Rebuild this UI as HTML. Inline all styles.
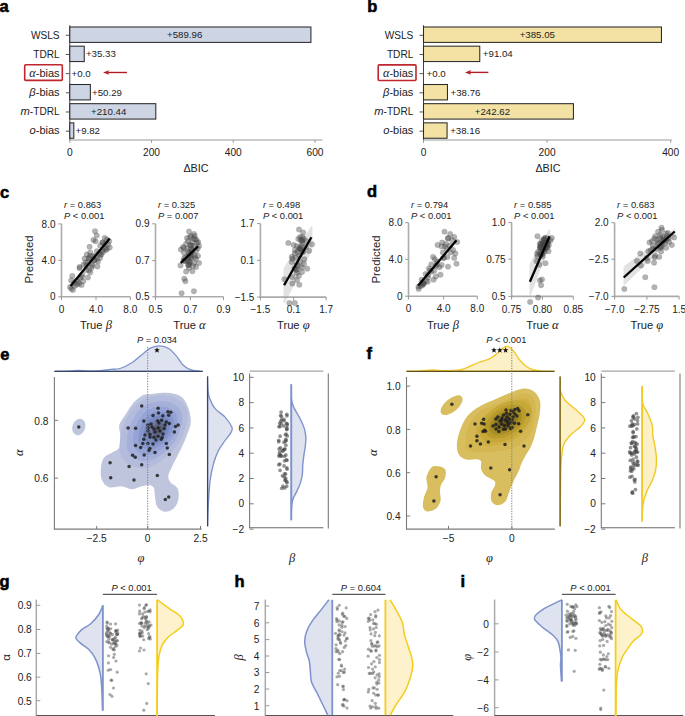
<!DOCTYPE html>
<html><head><meta charset="utf-8"><style>
html,body{margin:0;padding:0;background:#fff;width:685px;height:716px;overflow:hidden}
svg{display:block}
svg{font-family:"Liberation Sans",sans-serif}
</style></head><body>
<svg width="685" height="716" viewBox="0 0 685 716">
<rect width="685" height="716" fill="#fff"/>
<text x="-0.6" y="11.7" font-size="16.5" font-weight="bold" fill="#000" stroke="#000" stroke-width="0.55">a</text>
<line x1="69.80" y1="25.20" x2="69.80" y2="140.00" stroke="#444" stroke-width="1" />
<line x1="69.80" y1="140.00" x2="322.40" y2="140.00" stroke="#999" stroke-width="1.1" />
<line x1="69.80" y1="140.00" x2="69.80" y2="142.80" stroke="#999" stroke-width="1" />
<text x="69.80" y="156.00" font-size="10.2" text-anchor="middle" fill="#222" >0</text>
<line x1="151.54" y1="140.00" x2="151.54" y2="142.80" stroke="#999" stroke-width="1" />
<text x="151.54" y="156.00" font-size="10.2" text-anchor="middle" fill="#222" >200</text>
<line x1="233.28" y1="140.00" x2="233.28" y2="142.80" stroke="#999" stroke-width="1" />
<text x="233.28" y="156.00" font-size="10.2" text-anchor="middle" fill="#222" >400</text>
<line x1="315.02" y1="140.00" x2="315.02" y2="142.80" stroke="#999" stroke-width="1" />
<text x="315.02" y="156.00" font-size="10.2" text-anchor="middle" fill="#222" >600</text>
<line x1="65.80" y1="35.30" x2="69.80" y2="35.30" stroke="#555" stroke-width="1" />
<text x="59.60" y="38.60" font-size="10.1" text-anchor="end" fill="#222" >WSLS</text>
<rect x="69.80" y="27.00" width="241.12" height="15.40" fill="#cdd4e4" stroke="#2a2a2a" stroke-width="1.05" />
<text x="184.66" y="38.30" font-size="9.7" text-anchor="middle" fill="#222" >+589.96</text>
<line x1="65.80" y1="54.47" x2="69.80" y2="54.47" stroke="#555" stroke-width="1" />
<text x="59.60" y="57.77" font-size="10.1" text-anchor="end" fill="#222" >TDRL</text>
<rect x="69.80" y="46.17" width="14.44" height="15.40" fill="#cdd4e4" stroke="#2a2a2a" stroke-width="1.05" />
<text x="85.94" y="57.47" font-size="9.7" text-anchor="start" fill="#222" >+35.33</text>
<line x1="65.80" y1="73.64" x2="69.80" y2="73.64" stroke="#555" stroke-width="1" />
<text x="59.60" y="76.94" font-size="10.1" text-anchor="end" fill="#222"><tspan font-style="italic" font-family="Liberation Serif, serif" font-size="12.3">α</tspan><tspan font-size="11">-bias</tspan></text>
<text x="71.50" y="76.64" font-size="9.7" text-anchor="start" fill="#222" >+0.0</text>
<line x1="65.80" y1="92.81" x2="69.80" y2="92.81" stroke="#555" stroke-width="1" />
<text x="59.60" y="96.11" font-size="10.1" text-anchor="end" fill="#222"><tspan font-style="italic" font-size="11.2">β</tspan><tspan font-size="11">-bias</tspan></text>
<rect x="69.80" y="84.51" width="20.55" height="15.40" fill="#cdd4e4" stroke="#2a2a2a" stroke-width="1.05" />
<text x="92.05" y="95.81" font-size="9.7" text-anchor="start" fill="#222" >+50.29</text>
<line x1="65.80" y1="111.98" x2="69.80" y2="111.98" stroke="#555" stroke-width="1" />
<text x="59.60" y="115.28" font-size="10.1" text-anchor="end" fill="#222"><tspan font-style="italic" font-size="11.2">m</tspan>-TDRL</text>
<rect x="69.80" y="103.68" width="86.01" height="15.40" fill="#cdd4e4" stroke="#2a2a2a" stroke-width="1.05" />
<text x="108.70" y="114.98" font-size="9.7" text-anchor="middle" fill="#222" >+210.44</text>
<line x1="65.80" y1="131.15" x2="69.80" y2="131.15" stroke="#555" stroke-width="1" />
<text x="59.60" y="134.45" font-size="10.1" text-anchor="end" fill="#222"><tspan font-style="italic" font-size="11.2">o</tspan><tspan font-size="11">-bias</tspan></text>
<rect x="69.80" y="122.85" width="4.01" height="15.40" fill="#cdd4e4" stroke="#2a2a2a" stroke-width="1.05" />
<text x="75.51" y="134.15" font-size="9.7" text-anchor="start" fill="#222" >+9.82</text>
<rect x="24.70" y="64.70" width="37.60" height="15.70" fill="none" stroke="#c0262e" stroke-width="1.6" rx="1"/>
<line x1="108.00" y1="72.50" x2="127.00" y2="72.50" stroke="#b01c24" stroke-width="1.4" />
<path d="M103.00,72.50 L109.20,70.20 L107.80,72.50 L109.20,74.80Z" fill="#b01c24"/>
<text x="196.00" y="171.80" font-size="10.8" text-anchor="middle" fill="#222" >ΔBIC</text>
<text x="367.2" y="11.7" font-size="16.5" font-weight="bold" fill="#000" stroke="#000" stroke-width="0.55">b</text>
<line x1="423.50" y1="25.20" x2="423.50" y2="140.00" stroke="#444" stroke-width="1" />
<line x1="423.50" y1="140.00" x2="671.70" y2="140.00" stroke="#999" stroke-width="1.1" />
<line x1="423.50" y1="140.00" x2="423.50" y2="142.80" stroke="#999" stroke-width="1" />
<text x="423.50" y="156.00" font-size="10.2" text-anchor="middle" fill="#222" >0</text>
<line x1="547.10" y1="140.00" x2="547.10" y2="142.80" stroke="#999" stroke-width="1" />
<text x="547.10" y="156.00" font-size="10.2" text-anchor="middle" fill="#222" >200</text>
<line x1="670.70" y1="140.00" x2="670.70" y2="142.80" stroke="#999" stroke-width="1" />
<text x="670.70" y="156.00" font-size="10.2" text-anchor="middle" fill="#222" >400</text>
<line x1="419.50" y1="35.30" x2="423.50" y2="35.30" stroke="#555" stroke-width="1" />
<text x="413.30" y="38.60" font-size="10.1" text-anchor="end" fill="#222" >WSLS</text>
<rect x="423.50" y="27.00" width="237.96" height="15.40" fill="#f3e2a4" stroke="#2a2a2a" stroke-width="1.05" />
<text x="537.28" y="38.30" font-size="9.7" text-anchor="middle" fill="#222" >+385.05</text>
<line x1="419.50" y1="54.47" x2="423.50" y2="54.47" stroke="#555" stroke-width="1" />
<text x="413.30" y="57.77" font-size="10.1" text-anchor="end" fill="#222" >TDRL</text>
<rect x="423.50" y="46.17" width="56.26" height="15.40" fill="#f3e2a4" stroke="#2a2a2a" stroke-width="1.05" />
<text x="482.86" y="57.47" font-size="9.7" text-anchor="start" fill="#222" >+91.04</text>
<line x1="419.50" y1="73.64" x2="423.50" y2="73.64" stroke="#555" stroke-width="1" />
<text x="413.30" y="76.94" font-size="10.1" text-anchor="end" fill="#222"><tspan font-style="italic" font-family="Liberation Serif, serif" font-size="12.3">α</tspan><tspan font-size="11">-bias</tspan></text>
<text x="426.60" y="76.64" font-size="9.7" text-anchor="start" fill="#222" >+0.0</text>
<line x1="419.50" y1="92.81" x2="423.50" y2="92.81" stroke="#555" stroke-width="1" />
<text x="413.30" y="96.11" font-size="10.1" text-anchor="end" fill="#222"><tspan font-style="italic" font-size="11.2">β</tspan><tspan font-size="11">-bias</tspan></text>
<rect x="423.50" y="84.51" width="23.95" height="15.40" fill="#f3e2a4" stroke="#2a2a2a" stroke-width="1.05" />
<text x="450.55" y="95.81" font-size="9.7" text-anchor="start" fill="#222" >+38.76</text>
<line x1="419.50" y1="111.98" x2="423.50" y2="111.98" stroke="#555" stroke-width="1" />
<text x="413.30" y="115.28" font-size="10.1" text-anchor="end" fill="#222"><tspan font-style="italic" font-size="11.2">m</tspan>-TDRL</text>
<rect x="423.50" y="103.68" width="149.94" height="15.40" fill="#f3e2a4" stroke="#2a2a2a" stroke-width="1.05" />
<text x="492.47" y="114.98" font-size="9.7" text-anchor="middle" fill="#222" >+242.62</text>
<line x1="419.50" y1="131.15" x2="423.50" y2="131.15" stroke="#555" stroke-width="1" />
<text x="413.30" y="134.45" font-size="10.1" text-anchor="end" fill="#222"><tspan font-style="italic" font-size="11.2">o</tspan><tspan font-size="11">-bias</tspan></text>
<rect x="423.50" y="122.85" width="23.58" height="15.40" fill="#f3e2a4" stroke="#2a2a2a" stroke-width="1.05" />
<text x="450.18" y="134.15" font-size="9.7" text-anchor="start" fill="#222" >+38.16</text>
<rect x="378.20" y="64.90" width="37.80" height="15.60" fill="none" stroke="#c0262e" stroke-width="1.6" rx="1"/>
<line x1="470.00" y1="72.40" x2="488.40" y2="72.40" stroke="#b01c24" stroke-width="1.4" />
<path d="M465.00,72.40 L471.20,70.10 L469.80,72.40 L471.20,74.70Z" fill="#b01c24"/>
<text x="548.00" y="171.80" font-size="10.8" text-anchor="middle" fill="#222" >ΔBIC</text>
<line x1="61.50" y1="223.90" x2="61.50" y2="297.60" stroke="#ababab" stroke-width="1.6" />
<line x1="60.70" y1="296.80" x2="130.30" y2="296.80" stroke="#ababab" stroke-width="1.6" />
<line x1="58.20" y1="223.90" x2="61.50" y2="223.90" stroke="#999" stroke-width="1" />
<text x="55.50" y="227.50" font-size="10" text-anchor="end" fill="#222" >8.0</text>
<line x1="58.20" y1="260.30" x2="61.50" y2="260.30" stroke="#999" stroke-width="1" />
<text x="55.50" y="263.90" font-size="10" text-anchor="end" fill="#222" >4.0</text>
<line x1="58.20" y1="296.80" x2="61.50" y2="296.80" stroke="#999" stroke-width="1" />
<text x="55.50" y="300.40" font-size="10" text-anchor="end" fill="#222" >0</text>
<line x1="61.50" y1="296.80" x2="61.50" y2="300.10" stroke="#999" stroke-width="1" />
<text x="61.50" y="313.00" font-size="10" text-anchor="middle" fill="#222" >0</text>
<line x1="96.00" y1="296.80" x2="96.00" y2="300.10" stroke="#999" stroke-width="1" />
<text x="96.00" y="313.00" font-size="10" text-anchor="middle" fill="#222" >4.0</text>
<line x1="130.30" y1="296.80" x2="130.30" y2="300.10" stroke="#999" stroke-width="1" />
<text x="130.30" y="313.00" font-size="10" text-anchor="middle" fill="#222" >8.0</text>
<text x="64.00" y="207.6" font-size="9.4" fill="#222"><tspan font-style="italic">r</tspan> = 0.863</text>
<text x="64.00" y="218.5" font-size="9.4" fill="#222"><tspan font-style="italic">P</tspan> &lt; 0.001</text>
<text x="95.90" y="328.5" font-size="11.2" text-anchor="middle" fill="#222">True <tspan font-family="Liberation Serif, serif" font-style="italic" font-size="12.5">β</tspan></text>
<text transform="translate(33.4,259.5) rotate(-90)" font-size="11.4" text-anchor="middle" fill="#222" y="0">Predicted</text>
<circle cx="95.00" cy="231.20" r="2.75" fill="rgba(75,75,75,0.42)" stroke="rgba(60,60,60,0.25)" stroke-width="0.5"/>
<circle cx="96.70" cy="235.60" r="2.75" fill="rgba(75,75,75,0.42)" stroke="rgba(60,60,60,0.25)" stroke-width="0.5"/>
<circle cx="93.50" cy="240.10" r="2.75" fill="rgba(75,75,75,0.42)" stroke="rgba(60,60,60,0.25)" stroke-width="0.5"/>
<circle cx="95.50" cy="241.20" r="2.75" fill="rgba(75,75,75,0.42)" stroke="rgba(60,60,60,0.25)" stroke-width="0.5"/>
<circle cx="104.70" cy="237.90" r="2.75" fill="rgba(75,75,75,0.42)" stroke="rgba(60,60,60,0.25)" stroke-width="0.5"/>
<circle cx="106.90" cy="239.60" r="2.75" fill="rgba(75,75,75,0.42)" stroke="rgba(60,60,60,0.25)" stroke-width="0.5"/>
<circle cx="109.20" cy="241.20" r="2.75" fill="rgba(75,75,75,0.42)" stroke="rgba(60,60,60,0.25)" stroke-width="0.5"/>
<circle cx="102.50" cy="242.40" r="2.75" fill="rgba(75,75,75,0.42)" stroke="rgba(60,60,60,0.25)" stroke-width="0.5"/>
<circle cx="109.70" cy="247.40" r="2.75" fill="rgba(75,75,75,0.42)" stroke="rgba(60,60,60,0.25)" stroke-width="0.5"/>
<circle cx="106.90" cy="249.10" r="2.75" fill="rgba(75,75,75,0.42)" stroke="rgba(60,60,60,0.25)" stroke-width="0.5"/>
<circle cx="104.70" cy="247.90" r="2.75" fill="rgba(75,75,75,0.42)" stroke="rgba(60,60,60,0.25)" stroke-width="0.5"/>
<circle cx="89.60" cy="246.80" r="2.75" fill="rgba(75,75,75,0.42)" stroke="rgba(60,60,60,0.25)" stroke-width="0.5"/>
<circle cx="90.20" cy="252.40" r="2.75" fill="rgba(75,75,75,0.42)" stroke="rgba(60,60,60,0.25)" stroke-width="0.5"/>
<circle cx="96.90" cy="251.30" r="2.75" fill="rgba(75,75,75,0.42)" stroke="rgba(60,60,60,0.25)" stroke-width="0.5"/>
<circle cx="99.10" cy="253.50" r="2.75" fill="rgba(75,75,75,0.42)" stroke="rgba(60,60,60,0.25)" stroke-width="0.5"/>
<circle cx="86.80" cy="254.60" r="2.75" fill="rgba(75,75,75,0.42)" stroke="rgba(60,60,60,0.25)" stroke-width="0.5"/>
<circle cx="84.60" cy="258.60" r="2.75" fill="rgba(75,75,75,0.42)" stroke="rgba(60,60,60,0.25)" stroke-width="0.5"/>
<circle cx="89.10" cy="258.00" r="2.75" fill="rgba(75,75,75,0.42)" stroke="rgba(60,60,60,0.25)" stroke-width="0.5"/>
<circle cx="96.90" cy="259.10" r="2.75" fill="rgba(75,75,75,0.42)" stroke="rgba(60,60,60,0.25)" stroke-width="0.5"/>
<circle cx="94.60" cy="260.20" r="2.75" fill="rgba(75,75,75,0.42)" stroke="rgba(60,60,60,0.25)" stroke-width="0.5"/>
<circle cx="98.00" cy="261.40" r="2.75" fill="rgba(75,75,75,0.42)" stroke="rgba(60,60,60,0.25)" stroke-width="0.5"/>
<circle cx="97.40" cy="266.40" r="2.75" fill="rgba(75,75,75,0.42)" stroke="rgba(60,60,60,0.25)" stroke-width="0.5"/>
<circle cx="79.60" cy="266.90" r="2.75" fill="rgba(75,75,75,0.42)" stroke="rgba(60,60,60,0.25)" stroke-width="0.5"/>
<circle cx="83.50" cy="264.70" r="2.75" fill="rgba(75,75,75,0.42)" stroke="rgba(60,60,60,0.25)" stroke-width="0.5"/>
<circle cx="89.10" cy="270.30" r="2.75" fill="rgba(75,75,75,0.42)" stroke="rgba(60,60,60,0.25)" stroke-width="0.5"/>
<circle cx="90.20" cy="272.50" r="2.75" fill="rgba(75,75,75,0.42)" stroke="rgba(60,60,60,0.25)" stroke-width="0.5"/>
<circle cx="87.90" cy="277.60" r="2.75" fill="rgba(75,75,75,0.42)" stroke="rgba(60,60,60,0.25)" stroke-width="0.5"/>
<circle cx="81.80" cy="277.00" r="2.75" fill="rgba(75,75,75,0.42)" stroke="rgba(60,60,60,0.25)" stroke-width="0.5"/>
<circle cx="80.10" cy="278.10" r="2.75" fill="rgba(75,75,75,0.42)" stroke="rgba(60,60,60,0.25)" stroke-width="0.5"/>
<circle cx="72.30" cy="275.90" r="2.75" fill="rgba(75,75,75,0.42)" stroke="rgba(60,60,60,0.25)" stroke-width="0.5"/>
<circle cx="76.80" cy="280.40" r="2.75" fill="rgba(75,75,75,0.42)" stroke="rgba(60,60,60,0.25)" stroke-width="0.5"/>
<circle cx="71.20" cy="280.40" r="2.75" fill="rgba(75,75,75,0.42)" stroke="rgba(60,60,60,0.25)" stroke-width="0.5"/>
<circle cx="79.00" cy="283.70" r="2.75" fill="rgba(75,75,75,0.42)" stroke="rgba(60,60,60,0.25)" stroke-width="0.5"/>
<circle cx="74.50" cy="285.90" r="2.75" fill="rgba(75,75,75,0.42)" stroke="rgba(60,60,60,0.25)" stroke-width="0.5"/>
<circle cx="71.20" cy="288.70" r="2.75" fill="rgba(75,75,75,0.42)" stroke="rgba(60,60,60,0.25)" stroke-width="0.5"/>
<circle cx="72.90" cy="289.90" r="2.75" fill="rgba(75,75,75,0.42)" stroke="rgba(60,60,60,0.25)" stroke-width="0.5"/>
<circle cx="70.10" cy="287.10" r="2.75" fill="rgba(75,75,75,0.42)" stroke="rgba(60,60,60,0.25)" stroke-width="0.5"/>
<circle cx="76.80" cy="284.80" r="2.75" fill="rgba(75,75,75,0.42)" stroke="rgba(60,60,60,0.25)" stroke-width="0.5"/>
<circle cx="82.40" cy="274.80" r="2.75" fill="rgba(75,75,75,0.42)" stroke="rgba(60,60,60,0.25)" stroke-width="0.5"/>
<circle cx="85.70" cy="262.50" r="2.75" fill="rgba(75,75,75,0.42)" stroke="rgba(60,60,60,0.25)" stroke-width="0.5"/>
<circle cx="91.30" cy="268.10" r="2.75" fill="rgba(75,75,75,0.42)" stroke="rgba(60,60,60,0.25)" stroke-width="0.5"/>
<circle cx="101.40" cy="254.60" r="2.75" fill="rgba(75,75,75,0.42)" stroke="rgba(60,60,60,0.25)" stroke-width="0.5"/>
<circle cx="102.50" cy="250.20" r="2.75" fill="rgba(75,75,75,0.42)" stroke="rgba(60,60,60,0.25)" stroke-width="0.5"/>
<circle cx="100.20" cy="245.70" r="2.75" fill="rgba(75,75,75,0.42)" stroke="rgba(60,60,60,0.25)" stroke-width="0.5"/>
<circle cx="105.00" cy="244.00" r="2.75" fill="rgba(75,75,75,0.42)" stroke="rgba(60,60,60,0.25)" stroke-width="0.5"/>
<circle cx="108.00" cy="244.50" r="2.75" fill="rgba(75,75,75,0.42)" stroke="rgba(60,60,60,0.25)" stroke-width="0.5"/>
<circle cx="103.00" cy="252.00" r="2.75" fill="rgba(75,75,75,0.42)" stroke="rgba(60,60,60,0.25)" stroke-width="0.5"/>
<circle cx="93.00" cy="256.00" r="2.75" fill="rgba(75,75,75,0.42)" stroke="rgba(60,60,60,0.25)" stroke-width="0.5"/>
<circle cx="86.00" cy="270.00" r="2.75" fill="rgba(75,75,75,0.42)" stroke="rgba(60,60,60,0.25)" stroke-width="0.5"/>
<circle cx="78.00" cy="282.00" r="2.75" fill="rgba(75,75,75,0.42)" stroke="rgba(60,60,60,0.25)" stroke-width="0.5"/>
<circle cx="74.00" cy="283.00" r="2.75" fill="rgba(75,75,75,0.42)" stroke="rgba(60,60,60,0.25)" stroke-width="0.5"/>
<circle cx="92.00" cy="264.00" r="2.75" fill="rgba(75,75,75,0.42)" stroke="rgba(60,60,60,0.25)" stroke-width="0.5"/>
<circle cx="88.00" cy="262.00" r="2.75" fill="rgba(75,75,75,0.42)" stroke="rgba(60,60,60,0.25)" stroke-width="0.5"/>
<circle cx="100.00" cy="258.00" r="2.75" fill="rgba(75,75,75,0.42)" stroke="rgba(60,60,60,0.25)" stroke-width="0.5"/>
<circle cx="90.05" cy="256.00" r="2.75" fill="rgba(75,75,75,0.42)" stroke="rgba(60,60,60,0.25)" stroke-width="0.5"/>
<circle cx="79.55" cy="268.24" r="2.75" fill="rgba(75,75,75,0.42)" stroke="rgba(60,60,60,0.25)" stroke-width="0.5"/>
<circle cx="105.85" cy="249.88" r="2.75" fill="rgba(75,75,75,0.42)" stroke="rgba(60,60,60,0.25)" stroke-width="0.5"/>
<circle cx="89.01" cy="258.42" r="2.75" fill="rgba(75,75,75,0.42)" stroke="rgba(60,60,60,0.25)" stroke-width="0.5"/>
<circle cx="86.50" cy="265.53" r="2.75" fill="rgba(75,75,75,0.42)" stroke="rgba(60,60,60,0.25)" stroke-width="0.5"/>
<circle cx="94.34" cy="260.62" r="2.75" fill="rgba(75,75,75,0.42)" stroke="rgba(60,60,60,0.25)" stroke-width="0.5"/>
<circle cx="92.45" cy="265.73" r="2.75" fill="rgba(75,75,75,0.42)" stroke="rgba(60,60,60,0.25)" stroke-width="0.5"/>
<circle cx="95.03" cy="256.18" r="2.75" fill="rgba(75,75,75,0.42)" stroke="rgba(60,60,60,0.25)" stroke-width="0.5"/>
<circle cx="102.57" cy="242.50" r="2.75" fill="rgba(75,75,75,0.42)" stroke="rgba(60,60,60,0.25)" stroke-width="0.5"/>
<circle cx="81.47" cy="284.98" r="2.75" fill="rgba(75,75,75,0.42)" stroke="rgba(60,60,60,0.25)" stroke-width="0.5"/>
<circle cx="83.21" cy="281.18" r="2.75" fill="rgba(75,75,75,0.42)" stroke="rgba(60,60,60,0.25)" stroke-width="0.5"/>
<circle cx="100.25" cy="254.66" r="2.75" fill="rgba(75,75,75,0.42)" stroke="rgba(60,60,60,0.25)" stroke-width="0.5"/>
<line x1="70.60" y1="285.90" x2="109.70" y2="238.40" stroke="#000" stroke-width="2.3" stroke-linecap="butt"/>
<line x1="155.50" y1="223.80" x2="155.50" y2="297.60" stroke="#ababab" stroke-width="1.6" />
<line x1="154.70" y1="296.80" x2="223.50" y2="296.80" stroke="#ababab" stroke-width="1.6" />
<line x1="152.20" y1="223.80" x2="155.50" y2="223.80" stroke="#999" stroke-width="1" />
<text x="149.50" y="227.40" font-size="10" text-anchor="end" fill="#222" >0.9</text>
<line x1="152.20" y1="260.60" x2="155.50" y2="260.60" stroke="#999" stroke-width="1" />
<text x="149.50" y="264.20" font-size="10" text-anchor="end" fill="#222" >0.7</text>
<line x1="152.20" y1="296.80" x2="155.50" y2="296.80" stroke="#999" stroke-width="1" />
<text x="149.50" y="300.40" font-size="10" text-anchor="end" fill="#222" >0.5</text>
<line x1="155.50" y1="296.80" x2="155.50" y2="300.10" stroke="#999" stroke-width="1" />
<text x="155.50" y="313.00" font-size="10" text-anchor="middle" fill="#222" >0.5</text>
<line x1="190.40" y1="296.80" x2="190.40" y2="300.10" stroke="#999" stroke-width="1" />
<text x="190.40" y="313.00" font-size="10" text-anchor="middle" fill="#222" >0.7</text>
<line x1="223.50" y1="296.80" x2="223.50" y2="300.10" stroke="#999" stroke-width="1" />
<text x="223.50" y="313.00" font-size="10" text-anchor="middle" fill="#222" >0.9</text>
<text x="158.00" y="207.6" font-size="9.4" fill="#222"><tspan font-style="italic">r</tspan> = 0.325</text>
<text x="158.00" y="218.5" font-size="9.4" fill="#222"><tspan font-style="italic">P</tspan> = 0.007</text>
<text x="189.50" y="328.5" font-size="11.2" text-anchor="middle" fill="#222">True <tspan font-family="Liberation Serif, serif" font-style="italic" font-size="12.5">α</tspan></text>
<circle cx="189.00" cy="231.50" r="2.75" fill="rgba(75,75,75,0.42)" stroke="rgba(60,60,60,0.25)" stroke-width="0.5"/>
<circle cx="194.00" cy="234.00" r="2.75" fill="rgba(75,75,75,0.42)" stroke="rgba(60,60,60,0.25)" stroke-width="0.5"/>
<circle cx="191.00" cy="236.00" r="2.75" fill="rgba(75,75,75,0.42)" stroke="rgba(60,60,60,0.25)" stroke-width="0.5"/>
<circle cx="193.50" cy="239.00" r="2.75" fill="rgba(75,75,75,0.42)" stroke="rgba(60,60,60,0.25)" stroke-width="0.5"/>
<circle cx="196.50" cy="240.00" r="2.75" fill="rgba(75,75,75,0.42)" stroke="rgba(60,60,60,0.25)" stroke-width="0.5"/>
<circle cx="188.00" cy="241.00" r="2.75" fill="rgba(75,75,75,0.42)" stroke="rgba(60,60,60,0.25)" stroke-width="0.5"/>
<circle cx="186.00" cy="244.00" r="2.75" fill="rgba(75,75,75,0.42)" stroke="rgba(60,60,60,0.25)" stroke-width="0.5"/>
<circle cx="190.00" cy="245.00" r="2.75" fill="rgba(75,75,75,0.42)" stroke="rgba(60,60,60,0.25)" stroke-width="0.5"/>
<circle cx="194.00" cy="246.00" r="2.75" fill="rgba(75,75,75,0.42)" stroke="rgba(60,60,60,0.25)" stroke-width="0.5"/>
<circle cx="199.00" cy="246.00" r="2.75" fill="rgba(75,75,75,0.42)" stroke="rgba(60,60,60,0.25)" stroke-width="0.5"/>
<circle cx="183.00" cy="247.00" r="2.75" fill="rgba(75,75,75,0.42)" stroke="rgba(60,60,60,0.25)" stroke-width="0.5"/>
<circle cx="187.00" cy="249.00" r="2.75" fill="rgba(75,75,75,0.42)" stroke="rgba(60,60,60,0.25)" stroke-width="0.5"/>
<circle cx="192.00" cy="250.00" r="2.75" fill="rgba(75,75,75,0.42)" stroke="rgba(60,60,60,0.25)" stroke-width="0.5"/>
<circle cx="196.00" cy="251.00" r="2.75" fill="rgba(75,75,75,0.42)" stroke="rgba(60,60,60,0.25)" stroke-width="0.5"/>
<circle cx="180.90" cy="249.60" r="2.75" fill="rgba(75,75,75,0.42)" stroke="rgba(60,60,60,0.25)" stroke-width="0.5"/>
<circle cx="184.00" cy="253.00" r="2.75" fill="rgba(75,75,75,0.42)" stroke="rgba(60,60,60,0.25)" stroke-width="0.5"/>
<circle cx="189.00" cy="254.00" r="2.75" fill="rgba(75,75,75,0.42)" stroke="rgba(60,60,60,0.25)" stroke-width="0.5"/>
<circle cx="194.00" cy="255.00" r="2.75" fill="rgba(75,75,75,0.42)" stroke="rgba(60,60,60,0.25)" stroke-width="0.5"/>
<circle cx="198.00" cy="256.00" r="2.75" fill="rgba(75,75,75,0.42)" stroke="rgba(60,60,60,0.25)" stroke-width="0.5"/>
<circle cx="186.00" cy="257.00" r="2.75" fill="rgba(75,75,75,0.42)" stroke="rgba(60,60,60,0.25)" stroke-width="0.5"/>
<circle cx="191.00" cy="258.00" r="2.75" fill="rgba(75,75,75,0.42)" stroke="rgba(60,60,60,0.25)" stroke-width="0.5"/>
<circle cx="196.00" cy="259.00" r="2.75" fill="rgba(75,75,75,0.42)" stroke="rgba(60,60,60,0.25)" stroke-width="0.5"/>
<circle cx="185.00" cy="261.00" r="2.75" fill="rgba(75,75,75,0.42)" stroke="rgba(60,60,60,0.25)" stroke-width="0.5"/>
<circle cx="190.00" cy="262.00" r="2.75" fill="rgba(75,75,75,0.42)" stroke="rgba(60,60,60,0.25)" stroke-width="0.5"/>
<circle cx="194.00" cy="263.00" r="2.75" fill="rgba(75,75,75,0.42)" stroke="rgba(60,60,60,0.25)" stroke-width="0.5"/>
<circle cx="199.00" cy="263.00" r="2.75" fill="rgba(75,75,75,0.42)" stroke="rgba(60,60,60,0.25)" stroke-width="0.5"/>
<circle cx="188.00" cy="265.00" r="2.75" fill="rgba(75,75,75,0.42)" stroke="rgba(60,60,60,0.25)" stroke-width="0.5"/>
<circle cx="193.00" cy="266.00" r="2.75" fill="rgba(75,75,75,0.42)" stroke="rgba(60,60,60,0.25)" stroke-width="0.5"/>
<circle cx="196.00" cy="267.00" r="2.75" fill="rgba(75,75,75,0.42)" stroke="rgba(60,60,60,0.25)" stroke-width="0.5"/>
<circle cx="180.50" cy="265.60" r="2.75" fill="rgba(75,75,75,0.42)" stroke="rgba(60,60,60,0.25)" stroke-width="0.5"/>
<circle cx="186.10" cy="271.60" r="2.75" fill="rgba(75,75,75,0.42)" stroke="rgba(60,60,60,0.25)" stroke-width="0.5"/>
<circle cx="192.40" cy="271.20" r="2.75" fill="rgba(75,75,75,0.42)" stroke="rgba(60,60,60,0.25)" stroke-width="0.5"/>
<circle cx="184.30" cy="278.70" r="2.75" fill="rgba(75,75,75,0.42)" stroke="rgba(60,60,60,0.25)" stroke-width="0.5"/>
<circle cx="185.40" cy="281.20" r="2.75" fill="rgba(75,75,75,0.42)" stroke="rgba(60,60,60,0.25)" stroke-width="0.5"/>
<circle cx="181.60" cy="293.20" r="2.75" fill="rgba(75,75,75,0.42)" stroke="rgba(60,60,60,0.25)" stroke-width="0.5"/>
<circle cx="193.90" cy="291.20" r="2.75" fill="rgba(75,75,75,0.42)" stroke="rgba(60,60,60,0.25)" stroke-width="0.5"/>
<circle cx="190.00" cy="237.00" r="2.75" fill="rgba(75,75,75,0.42)" stroke="rgba(60,60,60,0.25)" stroke-width="0.5"/>
<circle cx="187.00" cy="238.00" r="2.75" fill="rgba(75,75,75,0.42)" stroke="rgba(60,60,60,0.25)" stroke-width="0.5"/>
<circle cx="197.00" cy="243.00" r="2.75" fill="rgba(75,75,75,0.42)" stroke="rgba(60,60,60,0.25)" stroke-width="0.5"/>
<circle cx="184.00" cy="248.00" r="2.75" fill="rgba(75,75,75,0.42)" stroke="rgba(60,60,60,0.25)" stroke-width="0.5"/>
<circle cx="192.00" cy="242.00" r="2.75" fill="rgba(75,75,75,0.42)" stroke="rgba(60,60,60,0.25)" stroke-width="0.5"/>
<circle cx="195.00" cy="257.00" r="2.75" fill="rgba(75,75,75,0.42)" stroke="rgba(60,60,60,0.25)" stroke-width="0.5"/>
<circle cx="189.00" cy="268.00" r="2.75" fill="rgba(75,75,75,0.42)" stroke="rgba(60,60,60,0.25)" stroke-width="0.5"/>
<circle cx="188.39" cy="256.62" r="2.75" fill="rgba(75,75,75,0.42)" stroke="rgba(60,60,60,0.25)" stroke-width="0.5"/>
<circle cx="190.41" cy="253.18" r="2.75" fill="rgba(75,75,75,0.42)" stroke="rgba(60,60,60,0.25)" stroke-width="0.5"/>
<circle cx="188.35" cy="258.21" r="2.75" fill="rgba(75,75,75,0.42)" stroke="rgba(60,60,60,0.25)" stroke-width="0.5"/>
<circle cx="194.67" cy="235.93" r="2.75" fill="rgba(75,75,75,0.42)" stroke="rgba(60,60,60,0.25)" stroke-width="0.5"/>
<circle cx="187.99" cy="260.65" r="2.75" fill="rgba(75,75,75,0.42)" stroke="rgba(60,60,60,0.25)" stroke-width="0.5"/>
<circle cx="191.04" cy="255.54" r="2.75" fill="rgba(75,75,75,0.42)" stroke="rgba(60,60,60,0.25)" stroke-width="0.5"/>
<circle cx="189.31" cy="262.58" r="2.75" fill="rgba(75,75,75,0.42)" stroke="rgba(60,60,60,0.25)" stroke-width="0.5"/>
<circle cx="188.26" cy="251.64" r="2.75" fill="rgba(75,75,75,0.42)" stroke="rgba(60,60,60,0.25)" stroke-width="0.5"/>
<circle cx="191.86" cy="245.71" r="2.75" fill="rgba(75,75,75,0.42)" stroke="rgba(60,60,60,0.25)" stroke-width="0.5"/>
<circle cx="184.28" cy="260.78" r="2.75" fill="rgba(75,75,75,0.42)" stroke="rgba(60,60,60,0.25)" stroke-width="0.5"/>
<circle cx="197.70" cy="248.48" r="2.75" fill="rgba(75,75,75,0.42)" stroke="rgba(60,60,60,0.25)" stroke-width="0.5"/>
<circle cx="183.54" cy="260.51" r="2.75" fill="rgba(75,75,75,0.42)" stroke="rgba(60,60,60,0.25)" stroke-width="0.5"/>
<circle cx="192.13" cy="250.43" r="2.75" fill="rgba(75,75,75,0.42)" stroke="rgba(60,60,60,0.25)" stroke-width="0.5"/>
<circle cx="184.19" cy="258.26" r="2.75" fill="rgba(75,75,75,0.42)" stroke="rgba(60,60,60,0.25)" stroke-width="0.5"/>
<circle cx="189.23" cy="264.03" r="2.75" fill="rgba(75,75,75,0.42)" stroke="rgba(60,60,60,0.25)" stroke-width="0.5"/>
<circle cx="190.75" cy="245.46" r="2.75" fill="rgba(75,75,75,0.42)" stroke="rgba(60,60,60,0.25)" stroke-width="0.5"/>
<circle cx="190.73" cy="258.00" r="2.75" fill="rgba(75,75,75,0.42)" stroke="rgba(60,60,60,0.25)" stroke-width="0.5"/>
<circle cx="195.11" cy="239.01" r="2.75" fill="rgba(75,75,75,0.42)" stroke="rgba(60,60,60,0.25)" stroke-width="0.5"/>
<circle cx="190.70" cy="249.12" r="2.75" fill="rgba(75,75,75,0.42)" stroke="rgba(60,60,60,0.25)" stroke-width="0.5"/>
<circle cx="188.62" cy="265.26" r="2.75" fill="rgba(75,75,75,0.42)" stroke="rgba(60,60,60,0.25)" stroke-width="0.5"/>
<circle cx="191.43" cy="252.52" r="2.75" fill="rgba(75,75,75,0.42)" stroke="rgba(60,60,60,0.25)" stroke-width="0.5"/>
<circle cx="198.22" cy="242.15" r="2.75" fill="rgba(75,75,75,0.42)" stroke="rgba(60,60,60,0.25)" stroke-width="0.5"/>
<line x1="180.70" y1="263.00" x2="198.00" y2="246.30" stroke="#000" stroke-width="2.3" />
<line x1="260.40" y1="223.60" x2="260.40" y2="297.90" stroke="#ababab" stroke-width="1.6" />
<line x1="259.60" y1="297.10" x2="326.20" y2="297.10" stroke="#ababab" stroke-width="1.6" />
<line x1="257.10" y1="223.60" x2="260.40" y2="223.60" stroke="#999" stroke-width="1" />
<text x="254.40" y="227.20" font-size="10" text-anchor="end" fill="#222" >1.7</text>
<line x1="257.10" y1="260.30" x2="260.40" y2="260.30" stroke="#999" stroke-width="1" />
<text x="254.40" y="263.90" font-size="10" text-anchor="end" fill="#222" >0.1</text>
<line x1="257.10" y1="297.10" x2="260.40" y2="297.10" stroke="#999" stroke-width="1" />
<text x="254.40" y="300.70" font-size="10" text-anchor="end" fill="#222" >−1.5</text>
<line x1="260.40" y1="297.10" x2="260.40" y2="300.40" stroke="#999" stroke-width="1" />
<text x="260.40" y="313.30" font-size="10" text-anchor="middle" fill="#222" >−1.5</text>
<line x1="293.60" y1="297.10" x2="293.60" y2="300.40" stroke="#999" stroke-width="1" />
<text x="293.60" y="313.30" font-size="10" text-anchor="middle" fill="#222" >0.1</text>
<line x1="326.20" y1="297.10" x2="326.20" y2="300.40" stroke="#999" stroke-width="1" />
<text x="326.20" y="313.30" font-size="10" text-anchor="middle" fill="#222" >1.7</text>
<text x="262.90" y="207.6" font-size="9.4" fill="#222"><tspan font-style="italic">r</tspan> = 0.498</text>
<text x="262.90" y="218.5" font-size="9.4" fill="#222"><tspan font-style="italic">P</tspan> &lt; 0.001</text>
<text x="293.30" y="328.5" font-size="11.2" text-anchor="middle" fill="#222">True <tspan font-family="Liberation Serif, serif" font-style="italic" font-size="12.5">φ</tspan></text>
<path d="M283.5,268 L311.5,226 L312.5,226 L312.5,249 L285,303 L283.5,303Z" fill="rgba(150,150,150,0.28)"/>
<circle cx="299.00" cy="229.50" r="2.75" fill="rgba(75,75,75,0.42)" stroke="rgba(60,60,60,0.25)" stroke-width="0.5"/>
<circle cx="303.10" cy="232.50" r="2.75" fill="rgba(75,75,75,0.42)" stroke="rgba(60,60,60,0.25)" stroke-width="0.5"/>
<circle cx="288.30" cy="243.10" r="2.75" fill="rgba(75,75,75,0.42)" stroke="rgba(60,60,60,0.25)" stroke-width="0.5"/>
<circle cx="293.60" cy="244.90" r="2.75" fill="rgba(75,75,75,0.42)" stroke="rgba(60,60,60,0.25)" stroke-width="0.5"/>
<circle cx="298.30" cy="239.00" r="2.75" fill="rgba(75,75,75,0.42)" stroke="rgba(60,60,60,0.25)" stroke-width="0.5"/>
<circle cx="301.90" cy="240.20" r="2.75" fill="rgba(75,75,75,0.42)" stroke="rgba(60,60,60,0.25)" stroke-width="0.5"/>
<circle cx="312.00" cy="244.30" r="2.75" fill="rgba(75,75,75,0.42)" stroke="rgba(60,60,60,0.25)" stroke-width="0.5"/>
<circle cx="309.00" cy="250.90" r="2.75" fill="rgba(75,75,75,0.42)" stroke="rgba(60,60,60,0.25)" stroke-width="0.5"/>
<circle cx="291.80" cy="256.80" r="2.75" fill="rgba(75,75,75,0.42)" stroke="rgba(60,60,60,0.25)" stroke-width="0.5"/>
<circle cx="291.80" cy="262.10" r="2.75" fill="rgba(75,75,75,0.42)" stroke="rgba(60,60,60,0.25)" stroke-width="0.5"/>
<circle cx="294.80" cy="253.20" r="2.75" fill="rgba(75,75,75,0.42)" stroke="rgba(60,60,60,0.25)" stroke-width="0.5"/>
<circle cx="299.50" cy="255.60" r="2.75" fill="rgba(75,75,75,0.42)" stroke="rgba(60,60,60,0.25)" stroke-width="0.5"/>
<circle cx="304.30" cy="259.20" r="2.75" fill="rgba(75,75,75,0.42)" stroke="rgba(60,60,60,0.25)" stroke-width="0.5"/>
<circle cx="301.90" cy="267.50" r="2.75" fill="rgba(75,75,75,0.42)" stroke="rgba(60,60,60,0.25)" stroke-width="0.5"/>
<circle cx="307.20" cy="268.70" r="2.75" fill="rgba(75,75,75,0.42)" stroke="rgba(60,60,60,0.25)" stroke-width="0.5"/>
<circle cx="296.00" cy="269.80" r="2.75" fill="rgba(75,75,75,0.42)" stroke="rgba(60,60,60,0.25)" stroke-width="0.5"/>
<circle cx="299.00" cy="275.80" r="2.75" fill="rgba(75,75,75,0.42)" stroke="rgba(60,60,60,0.25)" stroke-width="0.5"/>
<circle cx="292.40" cy="277.00" r="2.75" fill="rgba(75,75,75,0.42)" stroke="rgba(60,60,60,0.25)" stroke-width="0.5"/>
<circle cx="284.30" cy="279.30" r="2.75" fill="rgba(75,75,75,0.42)" stroke="rgba(60,60,60,0.25)" stroke-width="0.5"/>
<circle cx="292.40" cy="283.50" r="2.75" fill="rgba(75,75,75,0.42)" stroke="rgba(60,60,60,0.25)" stroke-width="0.5"/>
<circle cx="299.30" cy="284.70" r="2.75" fill="rgba(75,75,75,0.42)" stroke="rgba(60,60,60,0.25)" stroke-width="0.5"/>
<circle cx="289.40" cy="303.00" r="2.75" fill="rgba(75,75,75,0.42)" stroke="rgba(60,60,60,0.25)" stroke-width="0.5"/>
<circle cx="294.80" cy="303.00" r="2.75" fill="rgba(75,75,75,0.42)" stroke="rgba(60,60,60,0.25)" stroke-width="0.5"/>
<circle cx="300.00" cy="237.00" r="2.75" fill="rgba(75,75,75,0.42)" stroke="rgba(60,60,60,0.25)" stroke-width="0.5"/>
<circle cx="302.00" cy="241.00" r="2.75" fill="rgba(75,75,75,0.42)" stroke="rgba(60,60,60,0.25)" stroke-width="0.5"/>
<circle cx="297.00" cy="246.00" r="2.75" fill="rgba(75,75,75,0.42)" stroke="rgba(60,60,60,0.25)" stroke-width="0.5"/>
<circle cx="300.00" cy="249.00" r="2.75" fill="rgba(75,75,75,0.42)" stroke="rgba(60,60,60,0.25)" stroke-width="0.5"/>
<circle cx="303.00" cy="252.00" r="2.75" fill="rgba(75,75,75,0.42)" stroke="rgba(60,60,60,0.25)" stroke-width="0.5"/>
<circle cx="296.00" cy="258.00" r="2.75" fill="rgba(75,75,75,0.42)" stroke="rgba(60,60,60,0.25)" stroke-width="0.5"/>
<circle cx="300.00" cy="262.00" r="2.75" fill="rgba(75,75,75,0.42)" stroke="rgba(60,60,60,0.25)" stroke-width="0.5"/>
<circle cx="304.00" cy="264.00" r="2.75" fill="rgba(75,75,75,0.42)" stroke="rgba(60,60,60,0.25)" stroke-width="0.5"/>
<circle cx="298.00" cy="266.00" r="2.75" fill="rgba(75,75,75,0.42)" stroke="rgba(60,60,60,0.25)" stroke-width="0.5"/>
<circle cx="295.00" cy="250.00" r="2.75" fill="rgba(75,75,75,0.42)" stroke="rgba(60,60,60,0.25)" stroke-width="0.5"/>
<circle cx="306.00" cy="247.00" r="2.75" fill="rgba(75,75,75,0.42)" stroke="rgba(60,60,60,0.25)" stroke-width="0.5"/>
<circle cx="302.00" cy="272.00" r="2.75" fill="rgba(75,75,75,0.42)" stroke="rgba(60,60,60,0.25)" stroke-width="0.5"/>
<circle cx="297.00" cy="280.00" r="2.75" fill="rgba(75,75,75,0.42)" stroke="rgba(60,60,60,0.25)" stroke-width="0.5"/>
<circle cx="299.29" cy="247.63" r="2.75" fill="rgba(75,75,75,0.42)" stroke="rgba(60,60,60,0.25)" stroke-width="0.5"/>
<circle cx="302.44" cy="236.88" r="2.75" fill="rgba(75,75,75,0.42)" stroke="rgba(60,60,60,0.25)" stroke-width="0.5"/>
<circle cx="300.20" cy="249.11" r="2.75" fill="rgba(75,75,75,0.42)" stroke="rgba(60,60,60,0.25)" stroke-width="0.5"/>
<circle cx="300.81" cy="248.66" r="2.75" fill="rgba(75,75,75,0.42)" stroke="rgba(60,60,60,0.25)" stroke-width="0.5"/>
<circle cx="292.42" cy="258.74" r="2.75" fill="rgba(75,75,75,0.42)" stroke="rgba(60,60,60,0.25)" stroke-width="0.5"/>
<circle cx="296.69" cy="272.72" r="2.75" fill="rgba(75,75,75,0.42)" stroke="rgba(60,60,60,0.25)" stroke-width="0.5"/>
<circle cx="296.71" cy="264.64" r="2.75" fill="rgba(75,75,75,0.42)" stroke="rgba(60,60,60,0.25)" stroke-width="0.5"/>
<circle cx="302.66" cy="251.48" r="2.75" fill="rgba(75,75,75,0.42)" stroke="rgba(60,60,60,0.25)" stroke-width="0.5"/>
<circle cx="294.48" cy="268.24" r="2.75" fill="rgba(75,75,75,0.42)" stroke="rgba(60,60,60,0.25)" stroke-width="0.5"/>
<circle cx="303.53" cy="238.66" r="2.75" fill="rgba(75,75,75,0.42)" stroke="rgba(60,60,60,0.25)" stroke-width="0.5"/>
<circle cx="296.79" cy="269.64" r="2.75" fill="rgba(75,75,75,0.42)" stroke="rgba(60,60,60,0.25)" stroke-width="0.5"/>
<circle cx="301.67" cy="246.61" r="2.75" fill="rgba(75,75,75,0.42)" stroke="rgba(60,60,60,0.25)" stroke-width="0.5"/>
<circle cx="297.65" cy="252.01" r="2.75" fill="rgba(75,75,75,0.42)" stroke="rgba(60,60,60,0.25)" stroke-width="0.5"/>
<circle cx="306.51" cy="240.92" r="2.75" fill="rgba(75,75,75,0.42)" stroke="rgba(60,60,60,0.25)" stroke-width="0.5"/>
<circle cx="302.31" cy="243.31" r="2.75" fill="rgba(75,75,75,0.42)" stroke="rgba(60,60,60,0.25)" stroke-width="0.5"/>
<circle cx="300.72" cy="239.99" r="2.75" fill="rgba(75,75,75,0.42)" stroke="rgba(60,60,60,0.25)" stroke-width="0.5"/>
<line x1="284.10" y1="285.30" x2="311.40" y2="237.20" stroke="#000" stroke-width="2.3" />
<line x1="408.50" y1="222.70" x2="408.50" y2="297.00" stroke="#ababab" stroke-width="1.6" />
<line x1="407.70" y1="296.20" x2="477.30" y2="296.20" stroke="#ababab" stroke-width="1.6" />
<line x1="405.20" y1="222.70" x2="408.50" y2="222.70" stroke="#999" stroke-width="1" />
<text x="402.50" y="226.30" font-size="10" text-anchor="end" fill="#222" >8.0</text>
<line x1="405.20" y1="259.30" x2="408.50" y2="259.30" stroke="#999" stroke-width="1" />
<text x="402.50" y="262.90" font-size="10" text-anchor="end" fill="#222" >4.0</text>
<line x1="405.20" y1="296.20" x2="408.50" y2="296.20" stroke="#999" stroke-width="1" />
<text x="402.50" y="299.80" font-size="10" text-anchor="end" fill="#222" >0</text>
<line x1="408.50" y1="296.20" x2="408.50" y2="299.50" stroke="#999" stroke-width="1" />
<text x="408.50" y="312.40" font-size="10" text-anchor="middle" fill="#222" >0</text>
<line x1="443.60" y1="296.20" x2="443.60" y2="299.50" stroke="#999" stroke-width="1" />
<text x="443.60" y="312.40" font-size="10" text-anchor="middle" fill="#222" >4.0</text>
<line x1="477.30" y1="296.20" x2="477.30" y2="299.50" stroke="#999" stroke-width="1" />
<text x="477.30" y="312.40" font-size="10" text-anchor="middle" fill="#222" >8.0</text>
<text x="411.00" y="207.6" font-size="9.4" fill="#222"><tspan font-style="italic">r</tspan> = 0.794</text>
<text x="411.00" y="218.5" font-size="9.4" fill="#222"><tspan font-style="italic">P</tspan> &lt; 0.001</text>
<text x="442.90" y="328.5" font-size="11.2" text-anchor="middle" fill="#222">True <tspan font-family="Liberation Serif, serif" font-style="italic" font-size="12.5">β</tspan></text>
<text transform="translate(380.0,259.5) rotate(-90)" font-size="11.4" text-anchor="middle" fill="#222" y="0">Predicted</text>
<circle cx="444.50" cy="231.70" r="2.75" fill="rgba(75,75,75,0.42)" stroke="rgba(60,60,60,0.25)" stroke-width="0.5"/>
<circle cx="450.20" cy="234.00" r="2.75" fill="rgba(75,75,75,0.42)" stroke="rgba(60,60,60,0.25)" stroke-width="0.5"/>
<circle cx="448.00" cy="238.60" r="2.75" fill="rgba(75,75,75,0.42)" stroke="rgba(60,60,60,0.25)" stroke-width="0.5"/>
<circle cx="454.20" cy="236.90" r="2.75" fill="rgba(75,75,75,0.42)" stroke="rgba(60,60,60,0.25)" stroke-width="0.5"/>
<circle cx="457.10" cy="242.00" r="2.75" fill="rgba(75,75,75,0.42)" stroke="rgba(60,60,60,0.25)" stroke-width="0.5"/>
<circle cx="442.20" cy="242.60" r="2.75" fill="rgba(75,75,75,0.42)" stroke="rgba(60,60,60,0.25)" stroke-width="0.5"/>
<circle cx="437.60" cy="244.90" r="2.75" fill="rgba(75,75,75,0.42)" stroke="rgba(60,60,60,0.25)" stroke-width="0.5"/>
<circle cx="441.60" cy="246.60" r="2.75" fill="rgba(75,75,75,0.42)" stroke="rgba(60,60,60,0.25)" stroke-width="0.5"/>
<circle cx="450.20" cy="245.50" r="2.75" fill="rgba(75,75,75,0.42)" stroke="rgba(60,60,60,0.25)" stroke-width="0.5"/>
<circle cx="453.10" cy="250.10" r="2.75" fill="rgba(75,75,75,0.42)" stroke="rgba(60,60,60,0.25)" stroke-width="0.5"/>
<circle cx="455.40" cy="253.50" r="2.75" fill="rgba(75,75,75,0.42)" stroke="rgba(60,60,60,0.25)" stroke-width="0.5"/>
<circle cx="454.20" cy="258.10" r="2.75" fill="rgba(75,75,75,0.42)" stroke="rgba(60,60,60,0.25)" stroke-width="0.5"/>
<circle cx="456.50" cy="263.80" r="2.75" fill="rgba(75,75,75,0.42)" stroke="rgba(60,60,60,0.25)" stroke-width="0.5"/>
<circle cx="447.40" cy="256.90" r="2.75" fill="rgba(75,75,75,0.42)" stroke="rgba(60,60,60,0.25)" stroke-width="0.5"/>
<circle cx="433.10" cy="256.90" r="2.75" fill="rgba(75,75,75,0.42)" stroke="rgba(60,60,60,0.25)" stroke-width="0.5"/>
<circle cx="434.80" cy="259.20" r="2.75" fill="rgba(75,75,75,0.42)" stroke="rgba(60,60,60,0.25)" stroke-width="0.5"/>
<circle cx="448.00" cy="266.70" r="2.75" fill="rgba(75,75,75,0.42)" stroke="rgba(60,60,60,0.25)" stroke-width="0.5"/>
<circle cx="441.60" cy="264.90" r="2.75" fill="rgba(75,75,75,0.42)" stroke="rgba(60,60,60,0.25)" stroke-width="0.5"/>
<circle cx="439.40" cy="267.20" r="2.75" fill="rgba(75,75,75,0.42)" stroke="rgba(60,60,60,0.25)" stroke-width="0.5"/>
<circle cx="431.30" cy="264.40" r="2.75" fill="rgba(75,75,75,0.42)" stroke="rgba(60,60,60,0.25)" stroke-width="0.5"/>
<circle cx="429.00" cy="268.40" r="2.75" fill="rgba(75,75,75,0.42)" stroke="rgba(60,60,60,0.25)" stroke-width="0.5"/>
<circle cx="434.20" cy="270.70" r="2.75" fill="rgba(75,75,75,0.42)" stroke="rgba(60,60,60,0.25)" stroke-width="0.5"/>
<circle cx="440.50" cy="274.70" r="2.75" fill="rgba(75,75,75,0.42)" stroke="rgba(60,60,60,0.25)" stroke-width="0.5"/>
<circle cx="425.60" cy="274.10" r="2.75" fill="rgba(75,75,75,0.42)" stroke="rgba(60,60,60,0.25)" stroke-width="0.5"/>
<circle cx="433.60" cy="279.80" r="2.75" fill="rgba(75,75,75,0.42)" stroke="rgba(60,60,60,0.25)" stroke-width="0.5"/>
<circle cx="427.90" cy="277.50" r="2.75" fill="rgba(75,75,75,0.42)" stroke="rgba(60,60,60,0.25)" stroke-width="0.5"/>
<circle cx="421.60" cy="279.80" r="2.75" fill="rgba(75,75,75,0.42)" stroke="rgba(60,60,60,0.25)" stroke-width="0.5"/>
<circle cx="423.30" cy="283.80" r="2.75" fill="rgba(75,75,75,0.42)" stroke="rgba(60,60,60,0.25)" stroke-width="0.5"/>
<circle cx="418.70" cy="289.00" r="2.75" fill="rgba(75,75,75,0.42)" stroke="rgba(60,60,60,0.25)" stroke-width="0.5"/>
<circle cx="445.10" cy="246.60" r="2.75" fill="rgba(75,75,75,0.42)" stroke="rgba(60,60,60,0.25)" stroke-width="0.5"/>
<circle cx="450.80" cy="252.40" r="2.75" fill="rgba(75,75,75,0.42)" stroke="rgba(60,60,60,0.25)" stroke-width="0.5"/>
<circle cx="437.10" cy="261.50" r="2.75" fill="rgba(75,75,75,0.42)" stroke="rgba(60,60,60,0.25)" stroke-width="0.5"/>
<circle cx="442.80" cy="252.40" r="2.75" fill="rgba(75,75,75,0.42)" stroke="rgba(60,60,60,0.25)" stroke-width="0.5"/>
<circle cx="431.30" cy="271.80" r="2.75" fill="rgba(75,75,75,0.42)" stroke="rgba(60,60,60,0.25)" stroke-width="0.5"/>
<circle cx="435.90" cy="276.40" r="2.75" fill="rgba(75,75,75,0.42)" stroke="rgba(60,60,60,0.25)" stroke-width="0.5"/>
<circle cx="448.00" cy="238.00" r="2.75" fill="rgba(75,75,75,0.42)" stroke="rgba(60,60,60,0.25)" stroke-width="0.5"/>
<circle cx="446.00" cy="244.00" r="2.75" fill="rgba(75,75,75,0.42)" stroke="rgba(60,60,60,0.25)" stroke-width="0.5"/>
<circle cx="444.00" cy="258.00" r="2.75" fill="rgba(75,75,75,0.42)" stroke="rgba(60,60,60,0.25)" stroke-width="0.5"/>
<circle cx="436.00" cy="266.00" r="2.75" fill="rgba(75,75,75,0.42)" stroke="rgba(60,60,60,0.25)" stroke-width="0.5"/>
<circle cx="428.00" cy="275.00" r="2.75" fill="rgba(75,75,75,0.42)" stroke="rgba(60,60,60,0.25)" stroke-width="0.5"/>
<circle cx="420.00" cy="286.00" r="2.75" fill="rgba(75,75,75,0.42)" stroke="rgba(60,60,60,0.25)" stroke-width="0.5"/>
<circle cx="426.00" cy="281.00" r="2.75" fill="rgba(75,75,75,0.42)" stroke="rgba(60,60,60,0.25)" stroke-width="0.5"/>
<circle cx="452.00" cy="240.00" r="2.75" fill="rgba(75,75,75,0.42)" stroke="rgba(60,60,60,0.25)" stroke-width="0.5"/>
<circle cx="423.71" cy="283.39" r="2.75" fill="rgba(75,75,75,0.42)" stroke="rgba(60,60,60,0.25)" stroke-width="0.5"/>
<circle cx="436.57" cy="264.53" r="2.75" fill="rgba(75,75,75,0.42)" stroke="rgba(60,60,60,0.25)" stroke-width="0.5"/>
<circle cx="423.26" cy="284.31" r="2.75" fill="rgba(75,75,75,0.42)" stroke="rgba(60,60,60,0.25)" stroke-width="0.5"/>
<circle cx="422.70" cy="282.57" r="2.75" fill="rgba(75,75,75,0.42)" stroke="rgba(60,60,60,0.25)" stroke-width="0.5"/>
<circle cx="446.67" cy="248.77" r="2.75" fill="rgba(75,75,75,0.42)" stroke="rgba(60,60,60,0.25)" stroke-width="0.5"/>
<circle cx="443.05" cy="258.10" r="2.75" fill="rgba(75,75,75,0.42)" stroke="rgba(60,60,60,0.25)" stroke-width="0.5"/>
<circle cx="421.85" cy="285.69" r="2.75" fill="rgba(75,75,75,0.42)" stroke="rgba(60,60,60,0.25)" stroke-width="0.5"/>
<circle cx="427.78" cy="281.74" r="2.75" fill="rgba(75,75,75,0.42)" stroke="rgba(60,60,60,0.25)" stroke-width="0.5"/>
<circle cx="418.45" cy="286.85" r="2.75" fill="rgba(75,75,75,0.42)" stroke="rgba(60,60,60,0.25)" stroke-width="0.5"/>
<circle cx="429.93" cy="270.49" r="2.75" fill="rgba(75,75,75,0.42)" stroke="rgba(60,60,60,0.25)" stroke-width="0.5"/>
<line x1="418.20" y1="285.60" x2="456.50" y2="240.30" stroke="#000" stroke-width="2.3" />
<line x1="511.60" y1="222.60" x2="511.60" y2="297.20" stroke="#ababab" stroke-width="1.6" />
<line x1="510.80" y1="296.40" x2="573.30" y2="296.40" stroke="#ababab" stroke-width="1.6" />
<line x1="508.30" y1="222.60" x2="511.60" y2="222.60" stroke="#999" stroke-width="1" />
<text x="505.60" y="226.20" font-size="10" text-anchor="end" fill="#222" >1.0</text>
<line x1="508.30" y1="259.10" x2="511.60" y2="259.10" stroke="#999" stroke-width="1" />
<text x="505.60" y="262.70" font-size="10" text-anchor="end" fill="#222" >0.75</text>
<line x1="508.30" y1="296.40" x2="511.60" y2="296.40" stroke="#999" stroke-width="1" />
<text x="505.60" y="300.00" font-size="10" text-anchor="end" fill="#222" >0.5</text>
<line x1="511.60" y1="296.40" x2="511.60" y2="299.70" stroke="#999" stroke-width="1" />
<text x="511.60" y="312.60" font-size="10" text-anchor="middle" fill="#222" >0.75</text>
<line x1="542.40" y1="296.40" x2="542.40" y2="299.70" stroke="#999" stroke-width="1" />
<text x="542.40" y="312.60" font-size="10" text-anchor="middle" fill="#222" >0.80</text>
<line x1="573.30" y1="296.40" x2="573.30" y2="299.70" stroke="#999" stroke-width="1" />
<text x="573.30" y="312.60" font-size="10" text-anchor="middle" fill="#222" >0.85</text>
<text x="514.10" y="207.6" font-size="9.4" fill="#222"><tspan font-style="italic">r</tspan> = 0.585</text>
<text x="514.10" y="218.5" font-size="9.4" fill="#222"><tspan font-style="italic">P</tspan> &lt; 0.001</text>
<text x="542.45" y="328.5" font-size="11.2" text-anchor="middle" fill="#222">True <tspan font-family="Liberation Serif, serif" font-style="italic" font-size="12.5">α</tspan></text>
<path d="M529.5,264 L549,229.5 L550.5,229.5 L550,244 L530.8,295 L529.5,295Z" fill="rgba(150,150,150,0.28)"/>
<circle cx="537.50" cy="236.20" r="2.75" fill="rgba(75,75,75,0.42)" stroke="rgba(60,60,60,0.25)" stroke-width="0.5"/>
<circle cx="550.50" cy="240.50" r="2.75" fill="rgba(75,75,75,0.42)" stroke="rgba(60,60,60,0.25)" stroke-width="0.5"/>
<circle cx="545.40" cy="263.20" r="2.75" fill="rgba(75,75,75,0.42)" stroke="rgba(60,60,60,0.25)" stroke-width="0.5"/>
<circle cx="539.40" cy="264.80" r="2.75" fill="rgba(75,75,75,0.42)" stroke="rgba(60,60,60,0.25)" stroke-width="0.5"/>
<circle cx="536.60" cy="261.20" r="2.75" fill="rgba(75,75,75,0.42)" stroke="rgba(60,60,60,0.25)" stroke-width="0.5"/>
<circle cx="542.00" cy="279.40" r="2.75" fill="rgba(75,75,75,0.42)" stroke="rgba(60,60,60,0.25)" stroke-width="0.5"/>
<circle cx="539.80" cy="280.60" r="2.75" fill="rgba(75,75,75,0.42)" stroke="rgba(60,60,60,0.25)" stroke-width="0.5"/>
<circle cx="541.10" cy="285.20" r="2.75" fill="rgba(75,75,75,0.42)" stroke="rgba(60,60,60,0.25)" stroke-width="0.5"/>
<circle cx="538.10" cy="297.60" r="2.75" fill="rgba(75,75,75,0.42)" stroke="rgba(60,60,60,0.25)" stroke-width="0.5"/>
<circle cx="530.10" cy="301.90" r="2.75" fill="rgba(75,75,75,0.42)" stroke="rgba(60,60,60,0.25)" stroke-width="0.5"/>
<circle cx="542.53" cy="253.88" r="2.75" fill="rgba(75,75,75,0.42)" stroke="rgba(60,60,60,0.25)" stroke-width="0.5"/>
<circle cx="542.70" cy="243.22" r="2.75" fill="rgba(75,75,75,0.42)" stroke="rgba(60,60,60,0.25)" stroke-width="0.5"/>
<circle cx="540.92" cy="254.38" r="2.75" fill="rgba(75,75,75,0.42)" stroke="rgba(60,60,60,0.25)" stroke-width="0.5"/>
<circle cx="547.29" cy="245.71" r="2.75" fill="rgba(75,75,75,0.42)" stroke="rgba(60,60,60,0.25)" stroke-width="0.5"/>
<circle cx="537.03" cy="253.84" r="2.75" fill="rgba(75,75,75,0.42)" stroke="rgba(60,60,60,0.25)" stroke-width="0.5"/>
<circle cx="545.55" cy="244.61" r="2.75" fill="rgba(75,75,75,0.42)" stroke="rgba(60,60,60,0.25)" stroke-width="0.5"/>
<circle cx="548.39" cy="240.64" r="2.75" fill="rgba(75,75,75,0.42)" stroke="rgba(60,60,60,0.25)" stroke-width="0.5"/>
<circle cx="541.95" cy="248.49" r="2.75" fill="rgba(75,75,75,0.42)" stroke="rgba(60,60,60,0.25)" stroke-width="0.5"/>
<circle cx="544.99" cy="237.92" r="2.75" fill="rgba(75,75,75,0.42)" stroke="rgba(60,60,60,0.25)" stroke-width="0.5"/>
<circle cx="538.14" cy="251.77" r="2.75" fill="rgba(75,75,75,0.42)" stroke="rgba(60,60,60,0.25)" stroke-width="0.5"/>
<circle cx="543.61" cy="247.54" r="2.75" fill="rgba(75,75,75,0.42)" stroke="rgba(60,60,60,0.25)" stroke-width="0.5"/>
<circle cx="542.31" cy="249.66" r="2.75" fill="rgba(75,75,75,0.42)" stroke="rgba(60,60,60,0.25)" stroke-width="0.5"/>
<circle cx="545.67" cy="246.69" r="2.75" fill="rgba(75,75,75,0.42)" stroke="rgba(60,60,60,0.25)" stroke-width="0.5"/>
<circle cx="545.23" cy="242.74" r="2.75" fill="rgba(75,75,75,0.42)" stroke="rgba(60,60,60,0.25)" stroke-width="0.5"/>
<circle cx="542.81" cy="256.59" r="2.75" fill="rgba(75,75,75,0.42)" stroke="rgba(60,60,60,0.25)" stroke-width="0.5"/>
<circle cx="540.45" cy="254.81" r="2.75" fill="rgba(75,75,75,0.42)" stroke="rgba(60,60,60,0.25)" stroke-width="0.5"/>
<circle cx="540.94" cy="255.07" r="2.75" fill="rgba(75,75,75,0.42)" stroke="rgba(60,60,60,0.25)" stroke-width="0.5"/>
<circle cx="542.62" cy="251.74" r="2.75" fill="rgba(75,75,75,0.42)" stroke="rgba(60,60,60,0.25)" stroke-width="0.5"/>
<circle cx="545.78" cy="237.92" r="2.75" fill="rgba(75,75,75,0.42)" stroke="rgba(60,60,60,0.25)" stroke-width="0.5"/>
<circle cx="539.81" cy="243.96" r="2.75" fill="rgba(75,75,75,0.42)" stroke="rgba(60,60,60,0.25)" stroke-width="0.5"/>
<circle cx="544.78" cy="249.38" r="2.75" fill="rgba(75,75,75,0.42)" stroke="rgba(60,60,60,0.25)" stroke-width="0.5"/>
<circle cx="544.09" cy="248.44" r="2.75" fill="rgba(75,75,75,0.42)" stroke="rgba(60,60,60,0.25)" stroke-width="0.5"/>
<circle cx="539.82" cy="247.50" r="2.75" fill="rgba(75,75,75,0.42)" stroke="rgba(60,60,60,0.25)" stroke-width="0.5"/>
<circle cx="541.11" cy="245.29" r="2.75" fill="rgba(75,75,75,0.42)" stroke="rgba(60,60,60,0.25)" stroke-width="0.5"/>
<circle cx="543.95" cy="239.02" r="2.75" fill="rgba(75,75,75,0.42)" stroke="rgba(60,60,60,0.25)" stroke-width="0.5"/>
<circle cx="543.97" cy="244.71" r="2.75" fill="rgba(75,75,75,0.42)" stroke="rgba(60,60,60,0.25)" stroke-width="0.5"/>
<circle cx="542.35" cy="243.43" r="2.75" fill="rgba(75,75,75,0.42)" stroke="rgba(60,60,60,0.25)" stroke-width="0.5"/>
<circle cx="543.99" cy="243.21" r="2.75" fill="rgba(75,75,75,0.42)" stroke="rgba(60,60,60,0.25)" stroke-width="0.5"/>
<circle cx="546.83" cy="241.94" r="2.75" fill="rgba(75,75,75,0.42)" stroke="rgba(60,60,60,0.25)" stroke-width="0.5"/>
<circle cx="540.62" cy="247.32" r="2.75" fill="rgba(75,75,75,0.42)" stroke="rgba(60,60,60,0.25)" stroke-width="0.5"/>
<circle cx="545.62" cy="244.31" r="2.75" fill="rgba(75,75,75,0.42)" stroke="rgba(60,60,60,0.25)" stroke-width="0.5"/>
<circle cx="544.05" cy="240.12" r="2.75" fill="rgba(75,75,75,0.42)" stroke="rgba(60,60,60,0.25)" stroke-width="0.5"/>
<circle cx="545.45" cy="245.34" r="2.75" fill="rgba(75,75,75,0.42)" stroke="rgba(60,60,60,0.25)" stroke-width="0.5"/>
<circle cx="544.08" cy="246.64" r="2.75" fill="rgba(75,75,75,0.42)" stroke="rgba(60,60,60,0.25)" stroke-width="0.5"/>
<circle cx="541.28" cy="247.13" r="2.75" fill="rgba(75,75,75,0.42)" stroke="rgba(60,60,60,0.25)" stroke-width="0.5"/>
<circle cx="540.27" cy="252.87" r="2.75" fill="rgba(75,75,75,0.42)" stroke="rgba(60,60,60,0.25)" stroke-width="0.5"/>
<circle cx="548.81" cy="245.16" r="2.75" fill="rgba(75,75,75,0.42)" stroke="rgba(60,60,60,0.25)" stroke-width="0.5"/>
<circle cx="547.84" cy="243.31" r="2.75" fill="rgba(75,75,75,0.42)" stroke="rgba(60,60,60,0.25)" stroke-width="0.5"/>
<circle cx="546.39" cy="244.27" r="2.75" fill="rgba(75,75,75,0.42)" stroke="rgba(60,60,60,0.25)" stroke-width="0.5"/>
<circle cx="545.80" cy="247.12" r="2.75" fill="rgba(75,75,75,0.42)" stroke="rgba(60,60,60,0.25)" stroke-width="0.5"/>
<circle cx="544.40" cy="239.49" r="2.75" fill="rgba(75,75,75,0.42)" stroke="rgba(60,60,60,0.25)" stroke-width="0.5"/>
<circle cx="548.50" cy="251.33" r="2.75" fill="rgba(75,75,75,0.42)" stroke="rgba(60,60,60,0.25)" stroke-width="0.5"/>
<circle cx="546.55" cy="246.83" r="2.75" fill="rgba(75,75,75,0.42)" stroke="rgba(60,60,60,0.25)" stroke-width="0.5"/>
<circle cx="540.48" cy="243.81" r="2.75" fill="rgba(75,75,75,0.42)" stroke="rgba(60,60,60,0.25)" stroke-width="0.5"/>
<circle cx="551.80" cy="237.92" r="2.75" fill="rgba(75,75,75,0.42)" stroke="rgba(60,60,60,0.25)" stroke-width="0.5"/>
<circle cx="545.73" cy="247.15" r="2.75" fill="rgba(75,75,75,0.42)" stroke="rgba(60,60,60,0.25)" stroke-width="0.5"/>
<circle cx="540.26" cy="247.39" r="2.75" fill="rgba(75,75,75,0.42)" stroke="rgba(60,60,60,0.25)" stroke-width="0.5"/>
<circle cx="544.08" cy="248.54" r="2.75" fill="rgba(75,75,75,0.42)" stroke="rgba(60,60,60,0.25)" stroke-width="0.5"/>
<circle cx="546.90" cy="242.64" r="2.75" fill="rgba(75,75,75,0.42)" stroke="rgba(60,60,60,0.25)" stroke-width="0.5"/>
<circle cx="547.55" cy="247.71" r="2.75" fill="rgba(75,75,75,0.42)" stroke="rgba(60,60,60,0.25)" stroke-width="0.5"/>
<circle cx="544.55" cy="251.65" r="2.75" fill="rgba(75,75,75,0.42)" stroke="rgba(60,60,60,0.25)" stroke-width="0.5"/>
<circle cx="543.59" cy="242.66" r="2.75" fill="rgba(75,75,75,0.42)" stroke="rgba(60,60,60,0.25)" stroke-width="0.5"/>
<circle cx="537.50" cy="256.59" r="2.75" fill="rgba(75,75,75,0.42)" stroke="rgba(60,60,60,0.25)" stroke-width="0.5"/>
<circle cx="545.07" cy="246.86" r="2.75" fill="rgba(75,75,75,0.42)" stroke="rgba(60,60,60,0.25)" stroke-width="0.5"/>
<circle cx="541.85" cy="240.57" r="2.75" fill="rgba(75,75,75,0.42)" stroke="rgba(60,60,60,0.25)" stroke-width="0.5"/>
<line x1="529.90" y1="281.80" x2="549.60" y2="236.20" stroke="#000" stroke-width="2.3" />
<line x1="614.60" y1="222.70" x2="614.60" y2="297.20" stroke="#ababab" stroke-width="1.6" />
<line x1="613.80" y1="296.40" x2="679.10" y2="296.40" stroke="#ababab" stroke-width="1.6" />
<line x1="611.30" y1="222.70" x2="614.60" y2="222.70" stroke="#999" stroke-width="1" />
<text x="608.60" y="226.30" font-size="10" text-anchor="end" fill="#222" >2.0</text>
<line x1="611.30" y1="259.20" x2="614.60" y2="259.20" stroke="#999" stroke-width="1" />
<text x="608.60" y="262.80" font-size="10" text-anchor="end" fill="#222" >−2.5</text>
<line x1="611.30" y1="296.40" x2="614.60" y2="296.40" stroke="#999" stroke-width="1" />
<text x="608.60" y="300.00" font-size="10" text-anchor="end" fill="#222" >−7.0</text>
<line x1="614.60" y1="296.40" x2="614.60" y2="299.70" stroke="#999" stroke-width="1" />
<text x="614.60" y="312.60" font-size="10" text-anchor="middle" fill="#222" >−7.0</text>
<line x1="646.90" y1="296.40" x2="646.90" y2="299.70" stroke="#999" stroke-width="1" />
<text x="646.90" y="312.60" font-size="10" text-anchor="middle" fill="#222" >−2.75</text>
<line x1="679.10" y1="296.40" x2="679.10" y2="299.70" stroke="#999" stroke-width="1" />
<text x="679.10" y="312.60" font-size="10" text-anchor="middle" fill="#222" >1.5</text>
<text x="617.10" y="207.6" font-size="9.4" fill="#222"><tspan font-style="italic">r</tspan> = 0.683</text>
<text x="617.10" y="218.5" font-size="9.4" fill="#222"><tspan font-style="italic">P</tspan> &lt; 0.001</text>
<text x="646.85" y="328.5" font-size="11.2" text-anchor="middle" fill="#222">True <tspan font-family="Liberation Serif, serif" font-style="italic" font-size="12.5">φ</tspan></text>
<path d="M623.5,266.5 L674.5,229 L675.5,229 L675.5,236 L624.5,285 L623.5,285Z" fill="rgba(150,150,150,0.28)"/>
<circle cx="661.50" cy="227.70" r="2.75" fill="rgba(75,75,75,0.42)" stroke="rgba(60,60,60,0.25)" stroke-width="0.5"/>
<circle cx="658.10" cy="231.70" r="2.75" fill="rgba(75,75,75,0.42)" stroke="rgba(60,60,60,0.25)" stroke-width="0.5"/>
<circle cx="666.10" cy="233.50" r="2.75" fill="rgba(75,75,75,0.42)" stroke="rgba(60,60,60,0.25)" stroke-width="0.5"/>
<circle cx="674.10" cy="237.50" r="2.75" fill="rgba(75,75,75,0.42)" stroke="rgba(60,60,60,0.25)" stroke-width="0.5"/>
<circle cx="671.80" cy="244.90" r="2.75" fill="rgba(75,75,75,0.42)" stroke="rgba(60,60,60,0.25)" stroke-width="0.5"/>
<circle cx="666.10" cy="247.80" r="2.75" fill="rgba(75,75,75,0.42)" stroke="rgba(60,60,60,0.25)" stroke-width="0.5"/>
<circle cx="660.40" cy="246.60" r="2.75" fill="rgba(75,75,75,0.42)" stroke="rgba(60,60,60,0.25)" stroke-width="0.5"/>
<circle cx="657.00" cy="239.80" r="2.75" fill="rgba(75,75,75,0.42)" stroke="rgba(60,60,60,0.25)" stroke-width="0.5"/>
<circle cx="649.50" cy="242.60" r="2.75" fill="rgba(75,75,75,0.42)" stroke="rgba(60,60,60,0.25)" stroke-width="0.5"/>
<circle cx="652.90" cy="245.50" r="2.75" fill="rgba(75,75,75,0.42)" stroke="rgba(60,60,60,0.25)" stroke-width="0.5"/>
<circle cx="640.30" cy="253.50" r="2.75" fill="rgba(75,75,75,0.42)" stroke="rgba(60,60,60,0.25)" stroke-width="0.5"/>
<circle cx="648.40" cy="251.20" r="2.75" fill="rgba(75,75,75,0.42)" stroke="rgba(60,60,60,0.25)" stroke-width="0.5"/>
<circle cx="655.20" cy="255.80" r="2.75" fill="rgba(75,75,75,0.42)" stroke="rgba(60,60,60,0.25)" stroke-width="0.5"/>
<circle cx="659.20" cy="256.90" r="2.75" fill="rgba(75,75,75,0.42)" stroke="rgba(60,60,60,0.25)" stroke-width="0.5"/>
<circle cx="646.60" cy="258.10" r="2.75" fill="rgba(75,75,75,0.42)" stroke="rgba(60,60,60,0.25)" stroke-width="0.5"/>
<circle cx="647.80" cy="260.90" r="2.75" fill="rgba(75,75,75,0.42)" stroke="rgba(60,60,60,0.25)" stroke-width="0.5"/>
<circle cx="654.10" cy="262.70" r="2.75" fill="rgba(75,75,75,0.42)" stroke="rgba(60,60,60,0.25)" stroke-width="0.5"/>
<circle cx="636.90" cy="260.90" r="2.75" fill="rgba(75,75,75,0.42)" stroke="rgba(60,60,60,0.25)" stroke-width="0.5"/>
<circle cx="640.90" cy="265.50" r="2.75" fill="rgba(75,75,75,0.42)" stroke="rgba(60,60,60,0.25)" stroke-width="0.5"/>
<circle cx="645.30" cy="277.30" r="2.75" fill="rgba(75,75,75,0.42)" stroke="rgba(60,60,60,0.25)" stroke-width="0.5"/>
<circle cx="654.40" cy="287.30" r="2.75" fill="rgba(75,75,75,0.42)" stroke="rgba(60,60,60,0.25)" stroke-width="0.5"/>
<circle cx="624.30" cy="289.00" r="2.75" fill="rgba(75,75,75,0.42)" stroke="rgba(60,60,60,0.25)" stroke-width="0.5"/>
<circle cx="663.80" cy="240.90" r="2.75" fill="rgba(75,75,75,0.42)" stroke="rgba(60,60,60,0.25)" stroke-width="0.5"/>
<circle cx="668.40" cy="238.60" r="2.75" fill="rgba(75,75,75,0.42)" stroke="rgba(60,60,60,0.25)" stroke-width="0.5"/>
<circle cx="662.10" cy="236.30" r="2.75" fill="rgba(75,75,75,0.42)" stroke="rgba(60,60,60,0.25)" stroke-width="0.5"/>
<circle cx="655.20" cy="236.30" r="2.75" fill="rgba(75,75,75,0.42)" stroke="rgba(60,60,60,0.25)" stroke-width="0.5"/>
<circle cx="660.00" cy="235.00" r="2.75" fill="rgba(75,75,75,0.42)" stroke="rgba(60,60,60,0.25)" stroke-width="0.5"/>
<circle cx="664.00" cy="238.00" r="2.75" fill="rgba(75,75,75,0.42)" stroke="rgba(60,60,60,0.25)" stroke-width="0.5"/>
<circle cx="658.00" cy="243.00" r="2.75" fill="rgba(75,75,75,0.42)" stroke="rgba(60,60,60,0.25)" stroke-width="0.5"/>
<circle cx="665.00" cy="243.00" r="2.75" fill="rgba(75,75,75,0.42)" stroke="rgba(60,60,60,0.25)" stroke-width="0.5"/>
<circle cx="662.00" cy="230.00" r="2.75" fill="rgba(75,75,75,0.42)" stroke="rgba(60,60,60,0.25)" stroke-width="0.5"/>
<circle cx="669.00" cy="242.00" r="2.75" fill="rgba(75,75,75,0.42)" stroke="rgba(60,60,60,0.25)" stroke-width="0.5"/>
<circle cx="656.00" cy="249.00" r="2.75" fill="rgba(75,75,75,0.42)" stroke="rgba(60,60,60,0.25)" stroke-width="0.5"/>
<circle cx="652.00" cy="241.00" r="2.75" fill="rgba(75,75,75,0.42)" stroke="rgba(60,60,60,0.25)" stroke-width="0.5"/>
<circle cx="667.00" cy="236.00" r="2.75" fill="rgba(75,75,75,0.42)" stroke="rgba(60,60,60,0.25)" stroke-width="0.5"/>
<circle cx="654.49" cy="257.57" r="2.75" fill="rgba(75,75,75,0.42)" stroke="rgba(60,60,60,0.25)" stroke-width="0.5"/>
<circle cx="661.15" cy="251.40" r="2.75" fill="rgba(75,75,75,0.42)" stroke="rgba(60,60,60,0.25)" stroke-width="0.5"/>
<circle cx="663.77" cy="240.12" r="2.75" fill="rgba(75,75,75,0.42)" stroke="rgba(60,60,60,0.25)" stroke-width="0.5"/>
<circle cx="666.36" cy="239.32" r="2.75" fill="rgba(75,75,75,0.42)" stroke="rgba(60,60,60,0.25)" stroke-width="0.5"/>
<circle cx="659.91" cy="238.26" r="2.75" fill="rgba(75,75,75,0.42)" stroke="rgba(60,60,60,0.25)" stroke-width="0.5"/>
<circle cx="657.66" cy="243.61" r="2.75" fill="rgba(75,75,75,0.42)" stroke="rgba(60,60,60,0.25)" stroke-width="0.5"/>
<circle cx="661.85" cy="243.43" r="2.75" fill="rgba(75,75,75,0.42)" stroke="rgba(60,60,60,0.25)" stroke-width="0.5"/>
<circle cx="661.76" cy="240.36" r="2.75" fill="rgba(75,75,75,0.42)" stroke="rgba(60,60,60,0.25)" stroke-width="0.5"/>
<circle cx="654.44" cy="238.45" r="2.75" fill="rgba(75,75,75,0.42)" stroke="rgba(60,60,60,0.25)" stroke-width="0.5"/>
<circle cx="661.64" cy="246.40" r="2.75" fill="rgba(75,75,75,0.42)" stroke="rgba(60,60,60,0.25)" stroke-width="0.5"/>
<circle cx="667.97" cy="233.09" r="2.75" fill="rgba(75,75,75,0.42)" stroke="rgba(60,60,60,0.25)" stroke-width="0.5"/>
<circle cx="660.67" cy="247.88" r="2.75" fill="rgba(75,75,75,0.42)" stroke="rgba(60,60,60,0.25)" stroke-width="0.5"/>
<circle cx="652.98" cy="248.67" r="2.75" fill="rgba(75,75,75,0.42)" stroke="rgba(60,60,60,0.25)" stroke-width="0.5"/>
<circle cx="650.83" cy="250.36" r="2.75" fill="rgba(75,75,75,0.42)" stroke="rgba(60,60,60,0.25)" stroke-width="0.5"/>
<line x1="623.70" y1="277.50" x2="674.70" y2="231.50" stroke="#000" stroke-width="2.3" />
<text x="0" y="198.0" font-size="16.5" font-weight="bold" fill="#000" stroke="#000" stroke-width="0.55">c</text>
<text x="367.0" y="197.4" font-size="16.5" font-weight="bold" fill="#000" stroke="#000" stroke-width="0.55">d</text>
<path d="M147.90,394.30 C152.00,393.77 160.85,392.37 166.30,392.70 C171.75,393.03 177.03,393.98 180.60,396.30 C184.17,398.62 186.00,402.50 187.70,406.60 C189.40,410.70 190.80,416.48 190.80,420.90 C190.80,425.32 189.07,429.02 187.70,433.10 C186.33,437.18 184.47,441.30 182.60,445.40 C180.73,449.50 178.37,453.95 176.50,457.70 C174.63,461.45 172.77,464.83 171.40,467.90 C170.03,470.97 168.47,473.72 168.30,476.10 C168.13,478.48 168.87,480.17 170.40,482.20 C171.93,484.23 176.15,485.58 177.50,488.30 C178.85,491.02 179.02,495.27 178.50,498.50 C177.98,501.73 176.60,505.48 174.40,507.70 C172.20,509.92 168.18,511.97 165.30,511.80 C162.42,511.63 158.82,509.25 157.10,506.70 C155.38,504.15 155.52,499.57 155.00,496.50 C154.48,493.43 154.85,490.17 154.00,488.30 C153.15,486.43 151.95,485.63 149.90,485.30 C147.85,484.97 144.77,485.63 141.70,486.30 C138.63,486.97 134.90,489.30 131.50,489.30 C128.10,489.30 125.05,486.63 121.30,486.30 C117.55,485.97 112.23,488.33 109.00,487.30 C105.77,486.27 103.25,483.33 101.90,480.10 C100.55,476.87 100.57,471.63 100.90,467.90 C101.23,464.17 102.03,460.25 103.90,457.70 C105.77,455.15 109.53,454.32 112.10,452.60 C114.67,450.88 117.93,450.30 119.30,447.40 C120.67,444.50 120.30,438.93 120.30,435.20 C120.30,431.47 118.45,428.42 119.30,425.00 C120.15,421.58 123.02,418.45 125.40,414.70 C127.78,410.95 130.88,405.63 133.60,402.50 C136.32,399.37 139.32,397.27 141.70,395.90 C144.08,394.53 143.80,394.83 147.90,394.30Z" fill="#bfc5dd"/>
<ellipse cx="78.80" cy="427.00" rx="6.40" ry="8.40" transform="rotate(20 78.80 427.00)" fill="#bfc5dd"/>
<path d="M157.00,395.50 C161.50,395.08 167.50,395.00 172.00,396.50 C176.50,398.00 181.42,401.25 184.00,404.50 C186.58,407.75 187.50,411.42 187.50,416.00 C187.50,420.58 185.75,427.00 184.00,432.00 C182.25,437.00 180.33,441.58 177.00,446.00 C173.67,450.42 168.83,454.92 164.00,458.50 C159.17,462.08 153.33,466.25 148.00,467.50 C142.67,468.75 136.50,467.92 132.00,466.00 C127.50,464.08 123.00,460.33 121.00,456.00 C119.00,451.67 119.50,445.33 120.00,440.00 C120.50,434.67 121.83,429.33 124.00,424.00 C126.17,418.67 129.50,412.17 133.00,408.00 C136.50,403.83 141.00,401.08 145.00,399.00 C149.00,396.92 152.50,395.92 157.00,395.50Z" fill="#b3bcdc"/>
<path d="M157.36,401.53 C161.05,401.19 165.97,401.12 169.66,402.35 C173.35,403.58 177.38,406.25 179.50,408.91 C181.62,411.57 182.37,414.58 182.37,418.34 C182.37,422.10 180.94,427.36 179.50,431.46 C178.06,435.56 176.49,439.32 173.76,442.94 C171.03,446.56 167.06,450.25 163.10,453.19 C159.14,456.13 154.35,459.55 149.98,460.57 C145.61,461.59 140.55,460.91 136.86,459.34 C133.17,457.77 129.48,454.69 127.84,451.14 C126.20,447.59 126.61,442.39 127.02,438.02 C127.43,433.65 128.52,429.27 130.30,424.90 C132.08,420.53 134.81,415.20 137.68,411.78 C140.55,408.36 144.24,406.11 147.52,404.40 C150.80,402.69 153.67,401.87 157.36,401.53Z" fill="#a4b0d9"/>
<path d="M157.68,406.89 C160.65,406.62 164.61,406.56 167.58,407.55 C170.55,408.54 173.79,410.69 175.50,412.83 C177.21,414.98 177.81,417.40 177.81,420.42 C177.81,423.44 176.66,427.68 175.50,430.98 C174.34,434.28 173.08,437.31 170.88,440.22 C168.68,443.14 165.49,446.11 162.30,448.47 C159.11,450.84 155.26,453.59 151.74,454.41 C148.22,455.24 144.15,454.69 141.18,453.42 C138.21,452.16 135.24,449.68 133.92,446.82 C132.60,443.96 132.93,439.78 133.26,436.26 C133.59,432.74 134.47,429.22 135.90,425.70 C137.33,422.18 139.53,417.89 141.84,415.14 C144.15,412.39 147.12,410.58 149.76,409.20 C152.40,407.83 154.71,407.17 157.68,406.89Z" fill="#95a4d4"/>
<path d="M157.96,411.58 C160.30,411.36 163.42,411.32 165.76,412.10 C168.10,412.88 170.66,414.57 172.00,416.26 C173.34,417.95 173.82,419.86 173.82,422.24 C173.82,424.62 172.91,427.96 172.00,430.56 C171.09,433.16 170.09,435.54 168.36,437.84 C166.63,440.14 164.11,442.48 161.60,444.34 C159.09,446.20 156.05,448.37 153.28,449.02 C150.51,449.67 147.30,449.24 144.96,448.24 C142.62,447.24 140.28,445.29 139.24,443.04 C138.20,440.79 138.46,437.49 138.72,434.72 C138.98,431.95 139.67,429.17 140.80,426.40 C141.93,423.63 143.66,420.25 145.48,418.08 C147.30,415.91 149.64,414.48 151.72,413.40 C153.80,412.32 155.62,411.80 157.96,411.58Z" fill="#8697cd"/>
<path d="M158.22,415.94 C159.97,415.77 162.31,415.74 164.07,416.32 C165.82,416.91 167.74,418.18 168.75,419.44 C169.76,420.71 170.11,422.14 170.11,423.93 C170.11,425.72 169.43,428.22 168.75,430.17 C168.07,432.12 167.32,433.91 166.02,435.63 C164.72,437.35 162.83,439.11 160.95,440.50 C159.06,441.90 156.79,443.53 154.71,444.01 C152.63,444.50 150.22,444.18 148.47,443.43 C146.72,442.68 144.96,441.22 144.18,439.53 C143.40,437.84 143.59,435.37 143.79,433.29 C143.98,431.21 144.50,429.13 145.35,427.05 C146.19,424.97 147.49,422.44 148.86,420.81 C150.22,419.19 151.98,418.11 153.54,417.30 C155.10,416.49 156.47,416.10 158.22,415.94Z" fill="#7888c0"/>
<path d="M158.44,419.62 C159.70,419.50 161.38,419.48 162.64,419.90 C163.90,420.32 165.28,421.23 166.00,422.14 C166.72,423.05 166.98,424.08 166.98,425.36 C166.98,426.64 166.49,428.44 166.00,429.84 C165.51,431.24 164.97,432.52 164.04,433.76 C163.11,435.00 161.75,436.26 160.40,437.26 C159.05,438.26 157.41,439.43 155.92,439.78 C154.43,440.13 152.70,439.90 151.44,439.36 C150.18,438.82 148.92,437.77 148.36,436.56 C147.80,435.35 147.94,433.57 148.08,432.08 C148.22,430.59 148.59,429.09 149.20,427.60 C149.81,426.11 150.74,424.29 151.72,423.12 C152.70,421.95 153.96,421.18 155.08,420.60 C156.20,420.02 157.18,419.74 158.44,419.62Z" fill="#6b78a8"/>
<path d="M158.64,422.97 C159.45,422.90 160.53,422.88 161.34,423.15 C162.15,423.42 163.03,424.01 163.50,424.59 C163.97,425.18 164.13,425.84 164.13,426.66 C164.13,427.49 163.81,428.64 163.50,429.54 C163.19,430.44 162.84,431.26 162.24,432.06 C161.64,432.86 160.77,433.67 159.90,434.31 C159.03,434.95 157.98,435.70 157.02,435.93 C156.06,436.16 154.95,436.00 154.14,435.66 C153.33,435.32 152.52,434.64 152.16,433.86 C151.80,433.08 151.89,431.94 151.98,430.98 C152.07,430.02 152.31,429.06 152.70,428.10 C153.09,427.14 153.69,425.97 154.32,425.22 C154.95,424.47 155.76,423.98 156.48,423.60 C157.20,423.23 157.83,423.05 158.64,422.97Z" fill="#5f6888"/>
<path d="M158.80,425.65 C159.25,425.61 159.85,425.60 160.30,425.75 C160.75,425.90 161.24,426.23 161.50,426.55 C161.76,426.88 161.85,427.24 161.85,427.70 C161.85,428.16 161.68,428.80 161.50,429.30 C161.32,429.80 161.13,430.26 160.80,430.70 C160.47,431.14 159.98,431.59 159.50,431.95 C159.02,432.31 158.43,432.73 157.90,432.85 C157.37,432.98 156.75,432.89 156.30,432.70 C155.85,432.51 155.40,432.13 155.20,431.70 C155.00,431.27 155.05,430.63 155.10,430.10 C155.15,429.57 155.28,429.03 155.50,428.50 C155.72,427.97 156.05,427.32 156.40,426.90 C156.75,426.48 157.20,426.21 157.60,426.00 C158.00,425.79 158.35,425.69 158.80,425.65Z" fill="#565a6c"/>
<circle cx="78.80" cy="427.00" r="1.75" fill="#1e1e1e" fill-opacity="0.85"/>
<circle cx="141.70" cy="406.00" r="1.75" fill="#1e1e1e" fill-opacity="0.85"/>
<circle cx="158.10" cy="408.20" r="1.75" fill="#1e1e1e" fill-opacity="0.85"/>
<circle cx="167.90" cy="411.70" r="1.75" fill="#1e1e1e" fill-opacity="0.85"/>
<circle cx="170.80" cy="412.30" r="1.75" fill="#1e1e1e" fill-opacity="0.85"/>
<circle cx="158.50" cy="413.10" r="1.75" fill="#1e1e1e" fill-opacity="0.85"/>
<circle cx="153.00" cy="415.40" r="1.75" fill="#1e1e1e" fill-opacity="0.85"/>
<circle cx="162.80" cy="415.80" r="1.75" fill="#1e1e1e" fill-opacity="0.85"/>
<circle cx="168.70" cy="415.20" r="1.75" fill="#1e1e1e" fill-opacity="0.85"/>
<circle cx="143.80" cy="420.90" r="1.75" fill="#1e1e1e" fill-opacity="0.85"/>
<circle cx="157.70" cy="420.90" r="1.75" fill="#1e1e1e" fill-opacity="0.85"/>
<circle cx="161.60" cy="420.30" r="1.75" fill="#1e1e1e" fill-opacity="0.85"/>
<circle cx="166.30" cy="421.90" r="1.75" fill="#1e1e1e" fill-opacity="0.85"/>
<circle cx="169.30" cy="423.50" r="1.75" fill="#1e1e1e" fill-opacity="0.85"/>
<circle cx="128.10" cy="428.00" r="1.75" fill="#1e1e1e" fill-opacity="0.85"/>
<circle cx="135.60" cy="428.20" r="1.75" fill="#1e1e1e" fill-opacity="0.85"/>
<circle cx="147.90" cy="425.00" r="1.75" fill="#1e1e1e" fill-opacity="0.85"/>
<circle cx="151.00" cy="423.90" r="1.75" fill="#1e1e1e" fill-opacity="0.85"/>
<circle cx="154.00" cy="429.00" r="1.75" fill="#1e1e1e" fill-opacity="0.85"/>
<circle cx="158.10" cy="428.00" r="1.75" fill="#1e1e1e" fill-opacity="0.85"/>
<circle cx="164.20" cy="428.40" r="1.75" fill="#1e1e1e" fill-opacity="0.85"/>
<circle cx="175.50" cy="426.60" r="1.75" fill="#1e1e1e" fill-opacity="0.85"/>
<circle cx="178.10" cy="425.00" r="1.75" fill="#1e1e1e" fill-opacity="0.85"/>
<circle cx="174.40" cy="432.10" r="1.75" fill="#1e1e1e" fill-opacity="0.85"/>
<circle cx="147.90" cy="431.10" r="1.75" fill="#1e1e1e" fill-opacity="0.85"/>
<circle cx="149.90" cy="434.20" r="1.75" fill="#1e1e1e" fill-opacity="0.85"/>
<circle cx="154.00" cy="437.20" r="1.75" fill="#1e1e1e" fill-opacity="0.85"/>
<circle cx="158.10" cy="436.20" r="1.75" fill="#1e1e1e" fill-opacity="0.85"/>
<circle cx="161.20" cy="439.30" r="1.75" fill="#1e1e1e" fill-opacity="0.85"/>
<circle cx="162.20" cy="437.60" r="1.75" fill="#1e1e1e" fill-opacity="0.85"/>
<circle cx="143.80" cy="439.30" r="1.75" fill="#1e1e1e" fill-opacity="0.85"/>
<circle cx="142.80" cy="443.40" r="1.75" fill="#1e1e1e" fill-opacity="0.85"/>
<circle cx="147.90" cy="443.40" r="1.75" fill="#1e1e1e" fill-opacity="0.85"/>
<circle cx="135.60" cy="445.40" r="1.75" fill="#1e1e1e" fill-opacity="0.85"/>
<circle cx="140.70" cy="447.40" r="1.75" fill="#1e1e1e" fill-opacity="0.85"/>
<circle cx="149.90" cy="448.50" r="1.75" fill="#1e1e1e" fill-opacity="0.85"/>
<circle cx="148.90" cy="450.50" r="1.75" fill="#1e1e1e" fill-opacity="0.85"/>
<circle cx="166.30" cy="443.40" r="1.75" fill="#1e1e1e" fill-opacity="0.85"/>
<circle cx="167.30" cy="448.10" r="1.75" fill="#1e1e1e" fill-opacity="0.85"/>
<circle cx="155.00" cy="452.60" r="1.75" fill="#1e1e1e" fill-opacity="0.85"/>
<circle cx="169.30" cy="454.60" r="1.75" fill="#1e1e1e" fill-opacity="0.85"/>
<circle cx="144.20" cy="455.00" r="1.75" fill="#1e1e1e" fill-opacity="0.85"/>
<circle cx="132.60" cy="455.20" r="1.75" fill="#1e1e1e" fill-opacity="0.85"/>
<circle cx="135.20" cy="457.30" r="1.75" fill="#1e1e1e" fill-opacity="0.85"/>
<circle cx="110.10" cy="462.80" r="1.75" fill="#1e1e1e" fill-opacity="0.85"/>
<circle cx="129.10" cy="466.50" r="1.75" fill="#1e1e1e" fill-opacity="0.85"/>
<circle cx="141.70" cy="464.80" r="1.75" fill="#1e1e1e" fill-opacity="0.85"/>
<circle cx="110.70" cy="477.70" r="1.75" fill="#1e1e1e" fill-opacity="0.85"/>
<circle cx="134.00" cy="480.10" r="1.75" fill="#1e1e1e" fill-opacity="0.85"/>
<circle cx="157.30" cy="475.60" r="1.75" fill="#1e1e1e" fill-opacity="0.85"/>
<circle cx="165.30" cy="499.60" r="1.75" fill="#1e1e1e" fill-opacity="0.85"/>
<circle cx="168.70" cy="496.90" r="1.75" fill="#1e1e1e" fill-opacity="0.85"/>
<circle cx="152.00" cy="427.00" r="1.75" fill="#1e1e1e" fill-opacity="0.85"/>
<circle cx="155.00" cy="432.00" r="1.75" fill="#1e1e1e" fill-opacity="0.85"/>
<circle cx="160.00" cy="431.00" r="1.75" fill="#1e1e1e" fill-opacity="0.85"/>
<circle cx="163.00" cy="434.00" r="1.75" fill="#1e1e1e" fill-opacity="0.85"/>
<circle cx="150.00" cy="437.00" r="1.75" fill="#1e1e1e" fill-opacity="0.85"/>
<circle cx="156.00" cy="440.00" r="1.75" fill="#1e1e1e" fill-opacity="0.85"/>
<circle cx="145.00" cy="435.00" r="1.75" fill="#1e1e1e" fill-opacity="0.85"/>
<circle cx="165.00" cy="425.00" r="1.75" fill="#1e1e1e" fill-opacity="0.85"/>
<circle cx="159.00" cy="423.00" r="1.75" fill="#1e1e1e" fill-opacity="0.85"/>
<circle cx="148.00" cy="428.00" r="1.75" fill="#1e1e1e" fill-opacity="0.85"/>
<circle cx="153.00" cy="444.00" r="1.75" fill="#1e1e1e" fill-opacity="0.85"/>
<path d="M54.40,371.30 C57.00,371.23 66.07,371.07 70.00,370.90 C73.93,370.73 74.67,370.30 78.00,370.30 C81.33,370.30 86.33,370.85 90.00,370.90 C93.67,370.95 96.55,370.85 100.00,370.60 C103.45,370.35 107.37,369.75 110.70,369.40 C114.03,369.05 116.48,369.62 120.00,368.50 C123.52,367.38 127.90,365.22 131.80,362.70 C135.70,360.18 140.30,355.82 143.40,353.40 C146.50,350.98 147.67,349.45 150.40,348.20 C153.13,346.95 156.68,345.82 159.80,345.90 C162.92,345.98 166.38,347.07 169.10,348.70 C171.82,350.33 173.77,352.98 176.10,355.70 C178.43,358.42 180.75,362.67 183.10,365.00 C185.45,367.33 187.47,368.68 190.20,369.70 C192.93,370.72 197.45,370.83 199.50,371.10 C201.55,371.37 202.00,371.27 202.50,371.30 Z" fill="#dfe3f0" stroke="#7e92cc" stroke-width="1.3"/>
<line x1="54.40" y1="371.30" x2="202.80" y2="371.30" stroke="#3a4566" stroke-width="1.2" />
<line x1="147.70" y1="347.00" x2="147.70" y2="529.00" stroke="#808080" stroke-width="1" stroke-dasharray="1.3,1.3"/>
<polygon points="157.00,347.20 157.76,349.15 159.85,349.27 158.24,350.60 158.76,352.63 157.00,351.50 155.24,352.63 155.76,350.60 154.15,349.27 156.24,349.15" fill="#111"/>
<path d="M207.50,377.00 C207.58,379.17 207.67,386.50 208.00,390.00 C208.33,393.50 208.32,394.88 209.50,398.00 C210.68,401.12 212.50,405.52 215.10,408.70 C217.70,411.88 222.32,414.03 225.10,417.10 C227.88,420.17 230.78,424.60 231.80,427.10 C232.82,429.60 232.32,429.87 231.20,432.10 C230.08,434.33 227.23,437.42 225.10,440.50 C222.97,443.58 220.35,446.68 218.40,450.60 C216.45,454.52 214.78,458.98 213.40,464.00 C212.02,469.02 210.93,474.02 210.10,480.70 C209.27,487.38 208.82,496.55 208.40,504.10 C207.98,511.65 207.73,522.35 207.60,526.00 Z" fill="#dfe3f0" stroke="#7e92cc" stroke-width="1.3"/>
<line x1="207.60" y1="376.20" x2="207.60" y2="526.50" stroke="#3a4566" stroke-width="1.2" />
<line x1="54.40" y1="377.00" x2="54.40" y2="529.60" stroke="#7a7a7a" stroke-width="1.1" />
<line x1="53.90" y1="529.10" x2="201.50" y2="529.10" stroke="#7a7a7a" stroke-width="1.1" />
<line x1="96.70" y1="529.10" x2="96.70" y2="525.90" stroke="#7a7a7a" stroke-width="1" />
<text x="96.70" y="542.40" font-size="10.2" text-anchor="middle" fill="#222" >−2.5</text>
<line x1="147.70" y1="529.10" x2="147.70" y2="525.90" stroke="#7a7a7a" stroke-width="1" />
<text x="147.70" y="542.40" font-size="10.2" text-anchor="middle" fill="#222" >0</text>
<line x1="200.50" y1="529.10" x2="200.50" y2="525.90" stroke="#7a7a7a" stroke-width="1" />
<text x="200.50" y="542.40" font-size="10.2" text-anchor="middle" fill="#222" >2.5</text>
<line x1="54.40" y1="420.30" x2="58.00" y2="420.30" stroke="#7a7a7a" stroke-width="1" />
<text x="48.50" y="424.60" font-size="10.2" text-anchor="end" fill="#222" >0.8</text>
<line x1="54.40" y1="478.10" x2="58.00" y2="478.10" stroke="#7a7a7a" stroke-width="1" />
<text x="48.50" y="482.40" font-size="10.2" text-anchor="end" fill="#222" >0.6</text>
<text transform="translate(18.3,452.8) rotate(-90)" x="0" y="4.2" font-size="12.5" font-family="Liberation Serif, serif" font-style="italic" fill="#222" text-anchor="middle">α</text>
<text x="141" y="562" font-size="12.5" font-family="Liberation Serif, serif" font-style="italic" fill="#222" text-anchor="middle">φ</text>
<text x="157" y="343.4" font-size="9.3" fill="#222" text-anchor="middle"><tspan font-style="italic">P</tspan> = 0.034</text>
<line x1="249.60" y1="373.50" x2="249.60" y2="528.20" stroke="#7a7a7a" stroke-width="1.1" />
<line x1="249.60" y1="527.80" x2="323.30" y2="527.80" stroke="#6a6a6a" stroke-width="1.1" />
<line x1="249.60" y1="371.20" x2="323.30" y2="371.20" stroke="#a5a5a5" stroke-width="1.2" />
<line x1="328.30" y1="373.50" x2="328.30" y2="528.40" stroke="#777" stroke-width="1.1" />
<line x1="249.60" y1="377.30" x2="253.60" y2="377.30" stroke="#7a7a7a" stroke-width="1" />
<text x="244.10" y="380.90" font-size="10.2" text-anchor="end" fill="#222" >10</text>
<line x1="249.60" y1="402.60" x2="253.60" y2="402.60" stroke="#7a7a7a" stroke-width="1" />
<text x="244.10" y="406.20" font-size="10.2" text-anchor="end" fill="#222" >8</text>
<line x1="249.60" y1="427.90" x2="253.60" y2="427.90" stroke="#7a7a7a" stroke-width="1" />
<text x="244.10" y="431.50" font-size="10.2" text-anchor="end" fill="#222" >6</text>
<line x1="249.60" y1="453.20" x2="253.60" y2="453.20" stroke="#7a7a7a" stroke-width="1" />
<text x="244.10" y="456.80" font-size="10.2" text-anchor="end" fill="#222" >4</text>
<line x1="249.60" y1="478.50" x2="253.60" y2="478.50" stroke="#7a7a7a" stroke-width="1" />
<text x="244.10" y="482.10" font-size="10.2" text-anchor="end" fill="#222" >2</text>
<line x1="249.60" y1="503.80" x2="253.60" y2="503.80" stroke="#7a7a7a" stroke-width="1" />
<text x="244.10" y="507.40" font-size="10.2" text-anchor="end" fill="#222" >0</text>
<line x1="249.60" y1="529.10" x2="253.60" y2="529.10" stroke="#7a7a7a" stroke-width="1" />
<text x="244.10" y="532.70" font-size="10.2" text-anchor="end" fill="#222" >−2</text>
<path d="M291.50,384.30 C291.53,386.92 291.23,395.98 291.70,400.00 C292.17,404.02 292.93,405.37 294.30,408.40 C295.67,411.43 298.27,414.95 299.90,418.20 C301.53,421.45 303.12,424.88 304.10,427.90 C305.08,430.92 305.57,433.50 305.80,436.30 C306.03,439.10 305.83,441.43 305.50,444.70 C305.17,447.97 304.27,452.42 303.80,455.90 C303.33,459.38 302.93,462.58 302.70,465.60 C302.47,468.62 302.75,471.20 302.40,474.00 C302.05,476.80 301.48,479.60 300.60,482.40 C299.72,485.20 298.38,488.00 297.10,490.80 C295.82,493.60 293.80,496.33 292.90,499.20 C292.00,502.07 291.93,504.50 291.70,508.00 C291.47,511.50 291.53,518.17 291.50,520.20 Z" fill="#dfe3f0" stroke="#7e92cc" stroke-width="1.4"/>
<line x1="291.10" y1="384.30" x2="291.10" y2="520.20" stroke="#7e92cc" stroke-width="1.6" />
<circle cx="286.81" cy="414.35" r="1.85" fill="#4a4a4a" fill-opacity="0.6"/>
<circle cx="280.82" cy="421.17" r="1.85" fill="#4a4a4a" fill-opacity="0.6"/>
<circle cx="278.81" cy="456.04" r="1.85" fill="#4a4a4a" fill-opacity="0.6"/>
<circle cx="286.58" cy="429.56" r="1.85" fill="#4a4a4a" fill-opacity="0.6"/>
<circle cx="285.56" cy="474.02" r="1.85" fill="#4a4a4a" fill-opacity="0.6"/>
<circle cx="279.79" cy="423.24" r="1.85" fill="#4a4a4a" fill-opacity="0.6"/>
<circle cx="287.15" cy="428.97" r="1.85" fill="#4a4a4a" fill-opacity="0.6"/>
<circle cx="286.97" cy="482.67" r="1.85" fill="#4a4a4a" fill-opacity="0.6"/>
<circle cx="280.46" cy="455.68" r="1.85" fill="#4a4a4a" fill-opacity="0.6"/>
<circle cx="280.13" cy="436.20" r="1.85" fill="#4a4a4a" fill-opacity="0.6"/>
<circle cx="281.29" cy="423.80" r="1.85" fill="#4a4a4a" fill-opacity="0.6"/>
<circle cx="284.53" cy="460.85" r="1.85" fill="#4a4a4a" fill-opacity="0.6"/>
<circle cx="285.74" cy="439.37" r="1.85" fill="#4a4a4a" fill-opacity="0.6"/>
<circle cx="282.84" cy="450.94" r="1.85" fill="#4a4a4a" fill-opacity="0.6"/>
<circle cx="287.09" cy="469.08" r="1.85" fill="#4a4a4a" fill-opacity="0.6"/>
<circle cx="285.47" cy="480.44" r="1.85" fill="#4a4a4a" fill-opacity="0.6"/>
<circle cx="278.78" cy="441.66" r="1.85" fill="#4a4a4a" fill-opacity="0.6"/>
<circle cx="286.91" cy="415.78" r="1.85" fill="#4a4a4a" fill-opacity="0.6"/>
<circle cx="286.70" cy="427.92" r="1.85" fill="#4a4a4a" fill-opacity="0.6"/>
<circle cx="281.75" cy="488.31" r="1.85" fill="#4a4a4a" fill-opacity="0.6"/>
<circle cx="279.63" cy="454.50" r="1.85" fill="#4a4a4a" fill-opacity="0.6"/>
<circle cx="286.83" cy="481.64" r="1.85" fill="#4a4a4a" fill-opacity="0.6"/>
<circle cx="283.95" cy="419.39" r="1.85" fill="#4a4a4a" fill-opacity="0.6"/>
<circle cx="286.65" cy="486.37" r="1.85" fill="#4a4a4a" fill-opacity="0.6"/>
<circle cx="281.42" cy="456.16" r="1.85" fill="#4a4a4a" fill-opacity="0.6"/>
<circle cx="279.98" cy="426.38" r="1.85" fill="#4a4a4a" fill-opacity="0.6"/>
<circle cx="287.19" cy="425.08" r="1.85" fill="#4a4a4a" fill-opacity="0.6"/>
<circle cx="280.74" cy="455.22" r="1.85" fill="#4a4a4a" fill-opacity="0.6"/>
<circle cx="279.18" cy="448.91" r="1.85" fill="#4a4a4a" fill-opacity="0.6"/>
<circle cx="282.94" cy="486.20" r="1.85" fill="#4a4a4a" fill-opacity="0.6"/>
<circle cx="284.99" cy="479.91" r="1.85" fill="#4a4a4a" fill-opacity="0.6"/>
<circle cx="282.44" cy="475.83" r="1.85" fill="#4a4a4a" fill-opacity="0.6"/>
<circle cx="287.29" cy="435.88" r="1.85" fill="#4a4a4a" fill-opacity="0.6"/>
<circle cx="284.97" cy="448.74" r="1.85" fill="#4a4a4a" fill-opacity="0.6"/>
<circle cx="282.17" cy="450.80" r="1.85" fill="#4a4a4a" fill-opacity="0.6"/>
<circle cx="287.20" cy="423.87" r="1.85" fill="#4a4a4a" fill-opacity="0.6"/>
<circle cx="279.47" cy="452.45" r="1.85" fill="#4a4a4a" fill-opacity="0.6"/>
<circle cx="286.16" cy="434.06" r="1.85" fill="#4a4a4a" fill-opacity="0.6"/>
<circle cx="285.36" cy="441.27" r="1.85" fill="#4a4a4a" fill-opacity="0.6"/>
<circle cx="284.76" cy="473.53" r="1.85" fill="#4a4a4a" fill-opacity="0.6"/>
<circle cx="285.32" cy="434.75" r="1.85" fill="#4a4a4a" fill-opacity="0.6"/>
<circle cx="286.83" cy="467.96" r="1.85" fill="#4a4a4a" fill-opacity="0.6"/>
<circle cx="278.80" cy="464.63" r="1.85" fill="#4a4a4a" fill-opacity="0.6"/>
<circle cx="284.48" cy="456.31" r="1.85" fill="#4a4a4a" fill-opacity="0.6"/>
<circle cx="284.27" cy="449.50" r="1.85" fill="#4a4a4a" fill-opacity="0.6"/>
<circle cx="284.24" cy="476.61" r="1.85" fill="#4a4a4a" fill-opacity="0.6"/>
<circle cx="286.18" cy="440.35" r="1.85" fill="#4a4a4a" fill-opacity="0.6"/>
<circle cx="285.89" cy="454.88" r="1.85" fill="#4a4a4a" fill-opacity="0.6"/>
<circle cx="284.65" cy="487.93" r="1.85" fill="#4a4a4a" fill-opacity="0.6"/>
<circle cx="283.70" cy="425.92" r="1.85" fill="#4a4a4a" fill-opacity="0.6"/>
<circle cx="284.06" cy="465.91" r="1.85" fill="#4a4a4a" fill-opacity="0.6"/>
<circle cx="280.08" cy="470.35" r="1.85" fill="#4a4a4a" fill-opacity="0.6"/>
<circle cx="280.58" cy="447.73" r="1.85" fill="#4a4a4a" fill-opacity="0.6"/>
<circle cx="280.65" cy="415.39" r="1.85" fill="#4a4a4a" fill-opacity="0.6"/>
<circle cx="281.43" cy="416.39" r="1.85" fill="#4a4a4a" fill-opacity="0.6"/>
<circle cx="279.01" cy="426.71" r="1.85" fill="#4a4a4a" fill-opacity="0.6"/>
<circle cx="283.96" cy="449.69" r="1.85" fill="#4a4a4a" fill-opacity="0.6"/>
<circle cx="286.47" cy="459.80" r="1.85" fill="#4a4a4a" fill-opacity="0.6"/>
<circle cx="281.10" cy="412.05" r="1.85" fill="#4a4a4a" fill-opacity="0.6"/>
<circle cx="285.85" cy="445.21" r="1.85" fill="#4a4a4a" fill-opacity="0.6"/>
<circle cx="283.98" cy="442.28" r="1.85" fill="#4a4a4a" fill-opacity="0.6"/>
<circle cx="281.62" cy="419.68" r="1.85" fill="#4a4a4a" fill-opacity="0.6"/>
<circle cx="285.69" cy="478.30" r="1.85" fill="#4a4a4a" fill-opacity="0.6"/>
<circle cx="279.92" cy="464.03" r="1.85" fill="#4a4a4a" fill-opacity="0.6"/>
<circle cx="286.93" cy="460.27" r="1.85" fill="#4a4a4a" fill-opacity="0.6"/>
<circle cx="278.71" cy="440.44" r="1.85" fill="#4a4a4a" fill-opacity="0.6"/>
<circle cx="283.99" cy="420.74" r="1.85" fill="#4a4a4a" fill-opacity="0.6"/>
<circle cx="286.37" cy="423.40" r="1.85" fill="#4a4a4a" fill-opacity="0.6"/>
<text x="292.1" y="561.5" font-size="12.5" font-family="Liberation Serif, serif" font-style="italic" fill="#222" text-anchor="middle">β</text>
<path d="M523.40,388.50 C527.52,388.18 531.13,389.33 533.90,391.40 C536.67,393.47 539.05,397.10 540.00,400.90 C540.95,404.70 540.15,409.78 539.60,414.20 C539.05,418.62 537.65,423.30 536.70,427.40 C535.75,431.50 535.00,435.32 533.90,438.80 C532.80,442.28 531.53,445.45 530.10,448.30 C528.67,451.15 526.73,453.37 525.30,455.90 C523.87,458.43 522.60,460.97 521.50,463.50 C520.40,466.03 520.12,467.93 518.70,471.10 C517.28,474.27 514.58,479.02 513.00,482.50 C511.42,485.98 510.47,488.83 509.20,492.00 C507.93,495.17 507.30,499.28 505.40,501.50 C503.50,503.72 500.08,505.30 497.80,505.30 C495.52,505.30 492.80,503.57 491.70,501.50 C490.60,499.43 490.65,495.60 491.20,492.90 C491.75,490.20 494.53,487.35 495.00,485.30 C495.47,483.25 495.58,482.18 494.00,480.60 C492.42,479.02 487.65,477.70 485.50,475.80 C483.35,473.90 481.83,471.57 481.10,469.20 C480.37,466.83 481.80,463.25 481.10,461.60 C480.40,459.95 479.18,459.62 476.90,459.30 C474.62,458.98 470.23,460.27 467.40,459.70 C464.57,459.13 461.63,457.80 459.90,455.90 C458.17,454.00 457.32,451.47 457.00,448.30 C456.68,445.13 456.88,441.32 458.00,436.90 C459.12,432.48 461.50,425.90 463.70,421.80 C465.90,417.70 468.05,415.15 471.20,412.30 C474.35,409.45 478.48,406.92 482.60,404.70 C486.72,402.48 491.47,400.90 495.90,399.00 C500.33,397.10 504.62,395.05 509.20,393.30 C513.78,391.55 519.28,388.82 523.40,388.50Z" fill="#d9be5f"/>
<ellipse cx="451.60" cy="405.20" rx="6.60" ry="13.20" transform="rotate(50 451.60 405.20)" fill="#d9be5f"/>
<path d="M432.00,467.00 C434.25,465.25 437.75,466.00 440.00,466.50 C442.25,467.00 444.67,468.08 445.50,470.00 C446.33,471.92 445.75,475.50 445.00,478.00 C444.25,480.50 441.83,482.67 441.00,485.00 C440.17,487.33 440.08,489.33 440.00,492.00 C439.92,494.67 441.25,498.17 440.50,501.00 C439.75,503.83 437.75,507.25 435.50,509.00 C433.25,510.75 429.08,511.83 427.00,511.50 C424.92,511.17 423.50,509.42 423.00,507.00 C422.50,504.58 423.25,500.17 424.00,497.00 C424.75,493.83 427.08,491.33 427.50,488.00 C427.92,484.67 425.75,480.50 426.50,477.00 C427.25,473.50 429.75,468.75 432.00,467.00Z" fill="#d9be5f"/>
<path d="M465.50,442.60 C465.82,438.18 466.77,428.92 469.30,423.70 C471.83,418.48 475.63,414.78 480.70,411.30 C485.77,407.82 493.05,405.65 499.70,402.80 C506.35,399.95 515.22,395.32 520.60,394.20 C525.98,393.08 529.47,394.03 532.00,396.10 C534.53,398.17 535.48,402.32 535.80,406.60 C536.12,410.88 534.85,417.07 533.90,421.80 C532.95,426.53 532.58,431.13 530.10,435.00 C527.62,438.87 523.12,442.47 519.00,445.00 C514.88,447.53 511.47,449.02 505.40,450.20 C499.33,451.38 488.93,452.10 482.60,452.10 C476.27,452.10 470.25,451.78 467.40,450.20 C464.55,448.62 465.18,447.02 465.50,442.60Z" fill="#d4b752"/>
<path d="M475.00,433.10 C475.00,428.52 479.12,422.10 482.60,418.00 C486.08,413.90 490.52,411.52 495.90,408.50 C501.28,405.48 509.68,401.48 514.90,399.90 C520.12,398.32 524.35,397.57 527.20,399.00 C530.05,400.43 531.68,404.08 532.00,408.50 C532.32,412.92 531.32,420.77 529.10,425.50 C526.88,430.23 523.28,433.73 518.70,436.90 C514.12,440.07 507.62,443.07 501.60,444.50 C495.58,445.93 487.03,447.40 482.60,445.50 C478.17,443.60 475.00,437.68 475.00,433.10Z" fill="#cfb045"/>
<ellipse cx="505.50" cy="421.50" rx="29.00" ry="17.50" transform="rotate(-32 505.50 421.50)" fill="#c6a838"/>
<ellipse cx="505.50" cy="421.50" rx="23.00" ry="14.00" transform="rotate(-32 505.50 421.50)" fill="#b99b2c"/>
<ellipse cx="505.50" cy="421.50" rx="18.00" ry="11.00" transform="rotate(-32 505.50 421.50)" fill="#a88c24"/>
<ellipse cx="505.50" cy="421.50" rx="13.50" ry="8.30" transform="rotate(-32 505.50 421.50)" fill="#937a1f"/>
<ellipse cx="505.50" cy="421.50" rx="9.50" ry="6.00" transform="rotate(-32 505.50 421.50)" fill="#7c691c"/>
<ellipse cx="505.50" cy="421.50" rx="5.50" ry="3.60" transform="rotate(-32 505.50 421.50)" fill="#675819"/>
<circle cx="451.90" cy="404.30" r="1.75" fill="#1e1e1e" fill-opacity="0.85"/>
<circle cx="475.00" cy="424.00" r="1.75" fill="#1e1e1e" fill-opacity="0.85"/>
<circle cx="483.60" cy="419.30" r="1.75" fill="#1e1e1e" fill-opacity="0.85"/>
<circle cx="481.70" cy="423.30" r="1.75" fill="#1e1e1e" fill-opacity="0.85"/>
<circle cx="484.10" cy="424.00" r="1.75" fill="#1e1e1e" fill-opacity="0.85"/>
<circle cx="495.90" cy="418.90" r="1.75" fill="#1e1e1e" fill-opacity="0.85"/>
<circle cx="497.80" cy="417.00" r="1.75" fill="#1e1e1e" fill-opacity="0.85"/>
<circle cx="503.50" cy="415.10" r="1.75" fill="#1e1e1e" fill-opacity="0.85"/>
<circle cx="506.40" cy="413.20" r="1.75" fill="#1e1e1e" fill-opacity="0.85"/>
<circle cx="511.10" cy="410.40" r="1.75" fill="#1e1e1e" fill-opacity="0.85"/>
<circle cx="514.90" cy="409.40" r="1.75" fill="#1e1e1e" fill-opacity="0.85"/>
<circle cx="517.70" cy="408.50" r="1.75" fill="#1e1e1e" fill-opacity="0.85"/>
<circle cx="519.10" cy="410.70" r="1.75" fill="#1e1e1e" fill-opacity="0.85"/>
<circle cx="527.80" cy="414.70" r="1.75" fill="#1e1e1e" fill-opacity="0.85"/>
<circle cx="510.10" cy="414.20" r="1.75" fill="#1e1e1e" fill-opacity="0.85"/>
<circle cx="513.00" cy="417.00" r="1.75" fill="#1e1e1e" fill-opacity="0.85"/>
<circle cx="501.60" cy="419.90" r="1.75" fill="#1e1e1e" fill-opacity="0.85"/>
<circle cx="505.40" cy="419.90" r="1.75" fill="#1e1e1e" fill-opacity="0.85"/>
<circle cx="507.30" cy="421.80" r="1.75" fill="#1e1e1e" fill-opacity="0.85"/>
<circle cx="495.90" cy="424.60" r="1.75" fill="#1e1e1e" fill-opacity="0.85"/>
<circle cx="501.60" cy="424.00" r="1.75" fill="#1e1e1e" fill-opacity="0.85"/>
<circle cx="504.50" cy="425.50" r="1.75" fill="#1e1e1e" fill-opacity="0.85"/>
<circle cx="508.30" cy="424.00" r="1.75" fill="#1e1e1e" fill-opacity="0.85"/>
<circle cx="511.10" cy="422.70" r="1.75" fill="#1e1e1e" fill-opacity="0.85"/>
<circle cx="514.50" cy="423.30" r="1.75" fill="#1e1e1e" fill-opacity="0.85"/>
<circle cx="518.70" cy="423.70" r="1.75" fill="#1e1e1e" fill-opacity="0.85"/>
<circle cx="484.50" cy="430.30" r="1.75" fill="#1e1e1e" fill-opacity="0.85"/>
<circle cx="485.50" cy="431.20" r="1.75" fill="#1e1e1e" fill-opacity="0.85"/>
<circle cx="483.00" cy="431.60" r="1.75" fill="#1e1e1e" fill-opacity="0.85"/>
<circle cx="498.80" cy="431.60" r="1.75" fill="#1e1e1e" fill-opacity="0.85"/>
<circle cx="503.50" cy="429.30" r="1.75" fill="#1e1e1e" fill-opacity="0.85"/>
<circle cx="505.40" cy="429.00" r="1.75" fill="#1e1e1e" fill-opacity="0.85"/>
<circle cx="510.70" cy="428.40" r="1.75" fill="#1e1e1e" fill-opacity="0.85"/>
<circle cx="512.00" cy="427.40" r="1.75" fill="#1e1e1e" fill-opacity="0.85"/>
<circle cx="520.60" cy="431.20" r="1.75" fill="#1e1e1e" fill-opacity="0.85"/>
<circle cx="476.90" cy="436.20" r="1.75" fill="#1e1e1e" fill-opacity="0.85"/>
<circle cx="476.90" cy="440.70" r="1.75" fill="#1e1e1e" fill-opacity="0.85"/>
<circle cx="480.40" cy="444.10" r="1.75" fill="#1e1e1e" fill-opacity="0.85"/>
<circle cx="488.30" cy="441.90" r="1.75" fill="#1e1e1e" fill-opacity="0.85"/>
<circle cx="505.00" cy="444.50" r="1.75" fill="#1e1e1e" fill-opacity="0.85"/>
<circle cx="524.00" cy="446.00" r="1.75" fill="#1e1e1e" fill-opacity="0.85"/>
<circle cx="470.50" cy="446.00" r="1.75" fill="#1e1e1e" fill-opacity="0.85"/>
<circle cx="490.80" cy="467.90" r="1.75" fill="#1e1e1e" fill-opacity="0.85"/>
<circle cx="509.60" cy="469.80" r="1.75" fill="#1e1e1e" fill-opacity="0.85"/>
<circle cx="436.10" cy="476.80" r="1.75" fill="#1e1e1e" fill-opacity="0.85"/>
<circle cx="433.90" cy="500.90" r="1.75" fill="#1e1e1e" fill-opacity="0.85"/>
<circle cx="500.10" cy="494.80" r="1.75" fill="#1e1e1e" fill-opacity="0.85"/>
<circle cx="500.00" cy="421.00" r="1.75" fill="#1e1e1e" fill-opacity="0.85"/>
<circle cx="502.00" cy="418.00" r="1.75" fill="#1e1e1e" fill-opacity="0.85"/>
<circle cx="507.00" cy="417.00" r="1.75" fill="#1e1e1e" fill-opacity="0.85"/>
<circle cx="509.00" cy="419.00" r="1.75" fill="#1e1e1e" fill-opacity="0.85"/>
<circle cx="512.00" cy="420.00" r="1.75" fill="#1e1e1e" fill-opacity="0.85"/>
<circle cx="515.00" cy="414.00" r="1.75" fill="#1e1e1e" fill-opacity="0.85"/>
<circle cx="499.00" cy="427.00" r="1.75" fill="#1e1e1e" fill-opacity="0.85"/>
<circle cx="496.00" cy="429.00" r="1.75" fill="#1e1e1e" fill-opacity="0.85"/>
<circle cx="508.00" cy="426.00" r="1.75" fill="#1e1e1e" fill-opacity="0.85"/>
<circle cx="513.00" cy="412.00" r="1.75" fill="#1e1e1e" fill-opacity="0.85"/>
<circle cx="517.00" cy="416.00" r="1.75" fill="#1e1e1e" fill-opacity="0.85"/>
<circle cx="493.00" cy="426.00" r="1.75" fill="#1e1e1e" fill-opacity="0.85"/>
<circle cx="506.00" cy="410.00" r="1.75" fill="#1e1e1e" fill-opacity="0.85"/>
<path d="M406.50,371.30 C408.75,371.25 415.63,371.23 420.00,371.00 C424.37,370.77 428.53,369.93 432.70,369.90 C436.87,369.87 440.33,370.83 445.00,370.80 C449.67,370.77 456.52,370.47 460.70,369.70 C464.88,368.93 466.98,367.45 470.10,366.20 C473.22,364.95 476.28,363.37 479.40,362.20 C482.52,361.03 486.07,360.48 488.80,359.20 C491.53,357.92 493.47,356.33 495.80,354.50 C498.13,352.67 501.05,349.55 502.80,348.20 C504.55,346.85 505.13,346.52 506.30,346.40 C507.47,346.28 508.43,346.53 509.80,347.50 C511.17,348.47 512.95,350.25 514.50,352.20 C516.05,354.15 517.17,356.87 519.10,359.20 C521.03,361.53 523.77,364.45 526.10,366.20 C528.43,367.95 530.37,368.88 533.10,369.70 C535.83,370.52 538.93,370.83 542.50,371.10 C546.07,371.37 552.50,371.27 554.50,371.30 Z" fill="#fcf0c6" stroke="#f2c928" stroke-width="1.4"/>
<line x1="406.50" y1="371.30" x2="554.50" y2="371.30" stroke="#5c5020" stroke-width="1.2" />
<line x1="511.80" y1="347.00" x2="511.80" y2="529.00" stroke="#808080" stroke-width="1" stroke-dasharray="1.3,1.3"/>
<polygon points="494.00,347.20 494.76,349.15 496.85,349.27 495.24,350.60 495.76,352.63 494.00,351.50 492.24,352.63 492.76,350.60 491.15,349.27 493.24,349.15" fill="#111"/>
<polygon points="499.80,347.20 500.56,349.15 502.65,349.27 501.04,350.60 501.56,352.63 499.80,351.50 498.04,352.63 498.56,350.60 496.95,349.27 499.04,349.15" fill="#111"/>
<polygon points="505.60,347.20 506.36,349.15 508.45,349.27 506.84,350.60 507.36,352.63 505.60,351.50 503.84,352.63 504.36,350.60 502.75,349.27 504.84,349.15" fill="#111"/>
<path d="M560.10,377.00 C560.13,378.33 560.30,382.78 560.30,385.00 C560.30,387.22 559.30,387.75 560.10,390.30 C560.90,392.85 562.32,396.95 565.10,400.30 C567.88,403.65 573.73,407.60 576.80,410.40 C579.87,413.20 582.22,415.32 583.50,417.10 C584.78,418.88 585.05,419.43 584.50,421.10 C583.95,422.77 582.60,424.70 580.20,427.10 C577.80,429.50 572.90,432.43 570.10,435.50 C567.30,438.57 564.90,440.75 563.40,445.50 C561.90,450.25 561.60,455.35 561.10,464.00 C560.60,472.65 560.57,487.07 560.40,497.40 C560.23,507.73 560.15,521.23 560.10,526.00 Z" fill="#fcf0c6" stroke="#f2c928" stroke-width="1.4"/>
<line x1="560.10" y1="376.20" x2="560.10" y2="526.50" stroke="#5c5020" stroke-width="1.2" />
<line x1="406.50" y1="377.00" x2="406.50" y2="529.60" stroke="#7a7a7a" stroke-width="1.1" />
<line x1="406.00" y1="529.10" x2="554.90" y2="529.10" stroke="#7a7a7a" stroke-width="1.1" />
<line x1="448.50" y1="529.10" x2="448.50" y2="525.90" stroke="#7a7a7a" stroke-width="1" />
<text x="448.50" y="542.40" font-size="10.2" text-anchor="middle" fill="#222" >−5</text>
<line x1="511.90" y1="529.10" x2="511.90" y2="525.90" stroke="#7a7a7a" stroke-width="1" />
<text x="511.90" y="542.40" font-size="10.2" text-anchor="middle" fill="#222" >0</text>
<line x1="406.50" y1="386.10" x2="410.10" y2="386.10" stroke="#7a7a7a" stroke-width="1" />
<text x="400.60" y="390.40" font-size="10.2" text-anchor="end" fill="#222" >1.0</text>
<line x1="406.50" y1="429.40" x2="410.10" y2="429.40" stroke="#7a7a7a" stroke-width="1" />
<text x="400.60" y="433.70" font-size="10.2" text-anchor="end" fill="#222" >0.8</text>
<line x1="406.50" y1="472.70" x2="410.10" y2="472.70" stroke="#7a7a7a" stroke-width="1" />
<text x="400.60" y="477.00" font-size="10.2" text-anchor="end" fill="#222" >0.6</text>
<line x1="406.50" y1="516.00" x2="410.10" y2="516.00" stroke="#7a7a7a" stroke-width="1" />
<text x="400.60" y="520.30" font-size="10.2" text-anchor="end" fill="#222" >0.4</text>
<text transform="translate(372.4,452.8) rotate(-90)" x="0" y="4.2" font-size="12.5" font-family="Liberation Serif, serif" font-style="italic" fill="#222" text-anchor="middle">α</text>
<text x="489.4" y="562" font-size="12.5" font-family="Liberation Serif, serif" font-style="italic" fill="#222" text-anchor="middle">φ</text>
<text x="506.3" y="343.4" font-size="9.3" fill="#222" text-anchor="middle"><tspan font-style="italic">P</tspan> &lt; 0.001</text>
<line x1="601.30" y1="373.50" x2="601.30" y2="528.20" stroke="#7a7a7a" stroke-width="1.1" />
<line x1="601.30" y1="527.80" x2="674.90" y2="527.80" stroke="#6a6a6a" stroke-width="1.1" />
<line x1="601.30" y1="371.20" x2="674.90" y2="371.20" stroke="#a5a5a5" stroke-width="1.2" />
<line x1="680.00" y1="373.50" x2="680.00" y2="528.40" stroke="#777" stroke-width="1.1" />
<line x1="601.30" y1="377.30" x2="605.30" y2="377.30" stroke="#7a7a7a" stroke-width="1" />
<text x="595.80" y="380.90" font-size="10.2" text-anchor="end" fill="#222" >10</text>
<line x1="601.30" y1="402.60" x2="605.30" y2="402.60" stroke="#7a7a7a" stroke-width="1" />
<text x="595.80" y="406.20" font-size="10.2" text-anchor="end" fill="#222" >8</text>
<line x1="601.30" y1="427.90" x2="605.30" y2="427.90" stroke="#7a7a7a" stroke-width="1" />
<text x="595.80" y="431.50" font-size="10.2" text-anchor="end" fill="#222" >6</text>
<line x1="601.30" y1="453.20" x2="605.30" y2="453.20" stroke="#7a7a7a" stroke-width="1" />
<text x="595.80" y="456.80" font-size="10.2" text-anchor="end" fill="#222" >4</text>
<line x1="601.30" y1="478.50" x2="605.30" y2="478.50" stroke="#7a7a7a" stroke-width="1" />
<text x="595.80" y="482.10" font-size="10.2" text-anchor="end" fill="#222" >2</text>
<line x1="601.30" y1="503.80" x2="605.30" y2="503.80" stroke="#7a7a7a" stroke-width="1" />
<text x="595.80" y="507.40" font-size="10.2" text-anchor="end" fill="#222" >0</text>
<line x1="601.30" y1="529.10" x2="605.30" y2="529.10" stroke="#7a7a7a" stroke-width="1" />
<text x="595.80" y="532.70" font-size="10.2" text-anchor="end" fill="#222" >−2</text>
<path d="M642.10,385.90 C642.22,388.87 641.97,399.35 642.80,403.70 C643.63,408.05 645.53,408.38 647.10,412.00 C648.67,415.62 651.25,421.48 652.20,425.40 C653.15,429.32 652.37,432.15 652.80,435.50 C653.23,438.85 654.18,441.60 654.80,445.50 C655.42,449.40 656.38,454.70 656.50,458.90 C656.62,463.10 656.22,467.07 655.50,470.70 C654.78,474.33 653.60,477.37 652.20,480.70 C650.80,484.03 648.62,486.80 647.10,490.70 C645.58,494.60 643.93,498.95 643.10,504.10 C642.27,509.25 642.27,518.68 642.10,521.60 Z" fill="#fcf0c6" stroke="#f2c928" stroke-width="1.4"/>
<line x1="642.10" y1="385.90" x2="642.10" y2="521.60" stroke="#f2c928" stroke-width="1.6" />
<circle cx="631.65" cy="443.44" r="1.85" fill="#4a4a4a" fill-opacity="0.6"/>
<circle cx="632.44" cy="453.20" r="1.85" fill="#4a4a4a" fill-opacity="0.6"/>
<circle cx="632.16" cy="492.73" r="1.85" fill="#4a4a4a" fill-opacity="0.6"/>
<circle cx="635.05" cy="451.63" r="1.85" fill="#4a4a4a" fill-opacity="0.6"/>
<circle cx="636.42" cy="448.92" r="1.85" fill="#4a4a4a" fill-opacity="0.6"/>
<circle cx="634.28" cy="479.97" r="1.85" fill="#4a4a4a" fill-opacity="0.6"/>
<circle cx="632.00" cy="476.33" r="1.85" fill="#4a4a4a" fill-opacity="0.6"/>
<circle cx="633.78" cy="436.75" r="1.85" fill="#4a4a4a" fill-opacity="0.6"/>
<circle cx="636.09" cy="465.24" r="1.85" fill="#4a4a4a" fill-opacity="0.6"/>
<circle cx="632.59" cy="437.36" r="1.85" fill="#4a4a4a" fill-opacity="0.6"/>
<circle cx="633.69" cy="437.04" r="1.85" fill="#4a4a4a" fill-opacity="0.6"/>
<circle cx="634.78" cy="442.24" r="1.85" fill="#4a4a4a" fill-opacity="0.6"/>
<circle cx="633.62" cy="415.95" r="1.85" fill="#4a4a4a" fill-opacity="0.6"/>
<circle cx="636.39" cy="457.19" r="1.85" fill="#4a4a4a" fill-opacity="0.6"/>
<circle cx="635.79" cy="447.65" r="1.85" fill="#4a4a4a" fill-opacity="0.6"/>
<circle cx="637.54" cy="464.21" r="1.85" fill="#4a4a4a" fill-opacity="0.6"/>
<circle cx="637.03" cy="444.22" r="1.85" fill="#4a4a4a" fill-opacity="0.6"/>
<circle cx="636.84" cy="428.91" r="1.85" fill="#4a4a4a" fill-opacity="0.6"/>
<circle cx="632.16" cy="469.26" r="1.85" fill="#4a4a4a" fill-opacity="0.6"/>
<circle cx="634.42" cy="424.56" r="1.85" fill="#4a4a4a" fill-opacity="0.6"/>
<circle cx="631.02" cy="453.31" r="1.85" fill="#4a4a4a" fill-opacity="0.6"/>
<circle cx="630.29" cy="460.45" r="1.85" fill="#4a4a4a" fill-opacity="0.6"/>
<circle cx="629.92" cy="477.13" r="1.85" fill="#4a4a4a" fill-opacity="0.6"/>
<circle cx="637.59" cy="423.90" r="1.85" fill="#4a4a4a" fill-opacity="0.6"/>
<circle cx="635.05" cy="446.53" r="1.85" fill="#4a4a4a" fill-opacity="0.6"/>
<circle cx="632.96" cy="416.53" r="1.85" fill="#4a4a4a" fill-opacity="0.6"/>
<circle cx="634.65" cy="418.83" r="1.85" fill="#4a4a4a" fill-opacity="0.6"/>
<circle cx="632.41" cy="423.88" r="1.85" fill="#4a4a4a" fill-opacity="0.6"/>
<circle cx="637.77" cy="461.62" r="1.85" fill="#4a4a4a" fill-opacity="0.6"/>
<circle cx="635.70" cy="443.31" r="1.85" fill="#4a4a4a" fill-opacity="0.6"/>
<circle cx="634.47" cy="453.97" r="1.85" fill="#4a4a4a" fill-opacity="0.6"/>
<circle cx="634.44" cy="463.29" r="1.85" fill="#4a4a4a" fill-opacity="0.6"/>
<circle cx="631.72" cy="454.88" r="1.85" fill="#4a4a4a" fill-opacity="0.6"/>
<circle cx="631.24" cy="443.07" r="1.85" fill="#4a4a4a" fill-opacity="0.6"/>
<circle cx="630.43" cy="470.78" r="1.85" fill="#4a4a4a" fill-opacity="0.6"/>
<circle cx="630.77" cy="467.10" r="1.85" fill="#4a4a4a" fill-opacity="0.6"/>
<circle cx="637.24" cy="461.11" r="1.85" fill="#4a4a4a" fill-opacity="0.6"/>
<circle cx="636.55" cy="451.92" r="1.85" fill="#4a4a4a" fill-opacity="0.6"/>
<circle cx="637.89" cy="417.35" r="1.85" fill="#4a4a4a" fill-opacity="0.6"/>
<circle cx="630.70" cy="468.17" r="1.85" fill="#4a4a4a" fill-opacity="0.6"/>
<circle cx="635.07" cy="479.47" r="1.85" fill="#4a4a4a" fill-opacity="0.6"/>
<circle cx="632.57" cy="441.70" r="1.85" fill="#4a4a4a" fill-opacity="0.6"/>
<circle cx="633.02" cy="462.71" r="1.85" fill="#4a4a4a" fill-opacity="0.6"/>
<circle cx="633.43" cy="465.48" r="1.85" fill="#4a4a4a" fill-opacity="0.6"/>
<circle cx="634.80" cy="481.98" r="1.85" fill="#4a4a4a" fill-opacity="0.6"/>
<circle cx="633.10" cy="459.43" r="1.85" fill="#4a4a4a" fill-opacity="0.6"/>
<circle cx="631.44" cy="420.86" r="1.85" fill="#4a4a4a" fill-opacity="0.6"/>
<circle cx="629.70" cy="451.96" r="1.85" fill="#4a4a4a" fill-opacity="0.6"/>
<circle cx="635.03" cy="451.09" r="1.85" fill="#4a4a4a" fill-opacity="0.6"/>
<circle cx="630.56" cy="447.72" r="1.85" fill="#4a4a4a" fill-opacity="0.6"/>
<circle cx="632.92" cy="425.53" r="1.85" fill="#4a4a4a" fill-opacity="0.6"/>
<circle cx="632.09" cy="425.32" r="1.85" fill="#4a4a4a" fill-opacity="0.6"/>
<circle cx="631.72" cy="426.08" r="1.85" fill="#4a4a4a" fill-opacity="0.6"/>
<circle cx="637.65" cy="452.04" r="1.85" fill="#4a4a4a" fill-opacity="0.6"/>
<circle cx="633.76" cy="468.70" r="1.85" fill="#4a4a4a" fill-opacity="0.6"/>
<circle cx="635.45" cy="489.58" r="1.85" fill="#4a4a4a" fill-opacity="0.6"/>
<circle cx="635.97" cy="436.58" r="1.85" fill="#4a4a4a" fill-opacity="0.6"/>
<circle cx="629.91" cy="426.22" r="1.85" fill="#4a4a4a" fill-opacity="0.6"/>
<circle cx="633.15" cy="431.67" r="1.85" fill="#4a4a4a" fill-opacity="0.6"/>
<circle cx="632.38" cy="491.86" r="1.85" fill="#4a4a4a" fill-opacity="0.6"/>
<circle cx="636.00" cy="450.91" r="1.85" fill="#4a4a4a" fill-opacity="0.6"/>
<circle cx="631.77" cy="471.15" r="1.85" fill="#4a4a4a" fill-opacity="0.6"/>
<circle cx="638.09" cy="465.32" r="1.85" fill="#4a4a4a" fill-opacity="0.6"/>
<circle cx="636.40" cy="413.51" r="1.85" fill="#4a4a4a" fill-opacity="0.6"/>
<circle cx="634.42" cy="446.22" r="1.85" fill="#4a4a4a" fill-opacity="0.6"/>
<circle cx="632.71" cy="493.16" r="1.85" fill="#4a4a4a" fill-opacity="0.6"/>
<circle cx="637.43" cy="420.60" r="1.85" fill="#4a4a4a" fill-opacity="0.6"/>
<circle cx="630.16" cy="452.78" r="1.85" fill="#4a4a4a" fill-opacity="0.6"/>
<circle cx="633.12" cy="432.72" r="1.85" fill="#4a4a4a" fill-opacity="0.6"/>
<circle cx="633.20" cy="417.87" r="1.85" fill="#4a4a4a" fill-opacity="0.6"/>
<text x="644.8" y="561.5" font-size="12.5" font-family="Liberation Serif, serif" font-style="italic" fill="#222" text-anchor="middle">β</text>
<text x="0.2" y="359.5" font-size="16.5" font-weight="bold" fill="#000" stroke="#000" stroke-width="0.55">e</text>
<text x="366.5" y="358.5" font-size="16.5" font-weight="bold" fill="#000" stroke="#000" stroke-width="0.55">f</text>
<line x1="36.30" y1="599.60" x2="36.30" y2="716.00" stroke="#aaa" stroke-width="1.5" />
<line x1="36.30" y1="715.50" x2="214.90" y2="715.50" stroke="#555" stroke-width="1.2" />
<line x1="36.30" y1="605.30" x2="40.30" y2="605.30" stroke="#999" stroke-width="1" />
<text x="31.80" y="609.10" font-size="10.2" text-anchor="end" fill="#222" >0.9</text>
<line x1="36.30" y1="629.50" x2="40.30" y2="629.50" stroke="#999" stroke-width="1" />
<text x="31.80" y="633.30" font-size="10.2" text-anchor="end" fill="#222" >0.8</text>
<line x1="36.30" y1="653.40" x2="40.30" y2="653.40" stroke="#999" stroke-width="1" />
<text x="31.80" y="657.20" font-size="10.2" text-anchor="end" fill="#222" >0.7</text>
<line x1="36.30" y1="677.20" x2="40.30" y2="677.20" stroke="#999" stroke-width="1" />
<text x="31.80" y="681.00" font-size="10.2" text-anchor="end" fill="#222" >0.6</text>
<line x1="36.30" y1="700.70" x2="40.30" y2="700.70" stroke="#999" stroke-width="1" />
<text x="31.80" y="704.50" font-size="10.2" text-anchor="end" fill="#222" >0.5</text>
<text transform="translate(6.2,657.4) rotate(-90)" font-size="11.5" fill="#222" text-anchor="middle" y="4">α</text>
<path d="M102.90,605.30 C102.22,606.83 100.83,611.43 98.80,614.50 C96.77,617.57 93.58,621.13 90.70,623.70 C87.82,626.27 83.90,627.85 81.50,629.90 C79.10,631.95 77.17,634.48 76.30,636.00 C75.43,637.52 75.62,637.82 76.30,639.00 C76.98,640.18 78.35,641.38 80.40,643.10 C82.45,644.82 86.22,646.92 88.60,649.30 C90.98,651.68 93.00,654.33 94.70,657.40 C96.40,660.47 97.77,664.28 98.80,667.70 C99.83,671.12 100.38,673.82 100.90,677.90 C101.42,681.98 101.63,686.75 101.90,692.20 C102.17,697.65 102.40,707.53 102.50,710.60 L102.90,710.60 L102.90,605.30Z" fill="#dfe3f0"/>
<path d="M102.90,605.30 C102.22,606.83 100.83,611.43 98.80,614.50 C96.77,617.57 93.58,621.13 90.70,623.70 C87.82,626.27 83.90,627.85 81.50,629.90 C79.10,631.95 77.17,634.48 76.30,636.00 C75.43,637.52 75.62,637.82 76.30,639.00 C76.98,640.18 78.35,641.38 80.40,643.10 C82.45,644.82 86.22,646.92 88.60,649.30 C90.98,651.68 93.00,654.33 94.70,657.40 C96.40,660.47 97.77,664.28 98.80,667.70 C99.83,671.12 100.38,673.82 100.90,677.90 C101.42,681.98 101.63,686.75 101.90,692.20 C102.17,697.65 102.40,707.53 102.50,710.60" fill="none" stroke="#7e92cc" stroke-width="1.5"/>
<line x1="102.90" y1="605.30" x2="102.90" y2="710.60" stroke="#7e92cc" stroke-width="1.8" />
<path d="M157.10,599.80 C157.95,600.38 159.98,601.70 162.20,603.30 C164.42,604.90 167.50,607.37 170.40,609.40 C173.30,611.43 177.47,613.45 179.60,615.50 C181.73,617.55 182.70,619.98 183.20,621.70 C183.70,623.42 183.72,624.27 182.60,625.80 C181.48,627.33 178.88,629.03 176.50,630.90 C174.12,632.77 170.68,634.62 168.30,637.00 C165.92,639.38 163.73,642.13 162.20,645.20 C160.67,648.27 159.85,650.98 159.10,655.40 C158.35,659.82 158.00,665.57 157.70,671.70 C157.40,677.83 157.40,684.82 157.30,692.20 C157.20,699.58 157.13,712.03 157.10,716.00 L157.10,716.00 L157.10,599.80Z" fill="#fdf2cc"/>
<path d="M157.10,599.80 C157.95,600.38 159.98,601.70 162.20,603.30 C164.42,604.90 167.50,607.37 170.40,609.40 C173.30,611.43 177.47,613.45 179.60,615.50 C181.73,617.55 182.70,619.98 183.20,621.70 C183.70,623.42 183.72,624.27 182.60,625.80 C181.48,627.33 178.88,629.03 176.50,630.90 C174.12,632.77 170.68,634.62 168.30,637.00 C165.92,639.38 163.73,642.13 162.20,645.20 C160.67,648.27 159.85,650.98 159.10,655.40 C158.35,659.82 158.00,665.57 157.70,671.70 C157.40,677.83 157.40,684.82 157.30,692.20 C157.20,699.58 157.13,712.03 157.10,716.00" fill="none" stroke="#f5cc1c" stroke-width="1.5"/>
<line x1="157.10" y1="599.80" x2="157.10" y2="716.00" stroke="#f5cc1c" stroke-width="1.8" />
<circle cx="108.71" cy="639.17" r="1.6" fill="#555" fill-opacity="0.5"/>
<circle cx="108.94" cy="635.20" r="1.6" fill="#555" fill-opacity="0.5"/>
<circle cx="115.41" cy="637.57" r="1.6" fill="#555" fill-opacity="0.5"/>
<circle cx="106.69" cy="626.12" r="1.6" fill="#555" fill-opacity="0.5"/>
<circle cx="117.24" cy="634.72" r="1.6" fill="#555" fill-opacity="0.5"/>
<circle cx="115.68" cy="630.54" r="1.6" fill="#555" fill-opacity="0.5"/>
<circle cx="110.18" cy="633.28" r="1.6" fill="#555" fill-opacity="0.5"/>
<circle cx="106.63" cy="634.30" r="1.6" fill="#555" fill-opacity="0.5"/>
<circle cx="115.25" cy="646.65" r="1.6" fill="#555" fill-opacity="0.5"/>
<circle cx="114.67" cy="643.31" r="1.6" fill="#555" fill-opacity="0.5"/>
<circle cx="116.91" cy="645.40" r="1.6" fill="#555" fill-opacity="0.5"/>
<circle cx="110.44" cy="647.36" r="1.6" fill="#555" fill-opacity="0.5"/>
<circle cx="117.74" cy="633.22" r="1.6" fill="#555" fill-opacity="0.5"/>
<circle cx="107.28" cy="631.13" r="1.6" fill="#555" fill-opacity="0.5"/>
<circle cx="112.58" cy="634.67" r="1.6" fill="#555" fill-opacity="0.5"/>
<circle cx="113.26" cy="642.84" r="1.6" fill="#555" fill-opacity="0.5"/>
<circle cx="108.30" cy="636.63" r="1.6" fill="#555" fill-opacity="0.5"/>
<circle cx="113.13" cy="648.64" r="1.6" fill="#555" fill-opacity="0.5"/>
<circle cx="106.96" cy="628.53" r="1.6" fill="#555" fill-opacity="0.5"/>
<circle cx="117.32" cy="640.50" r="1.6" fill="#555" fill-opacity="0.5"/>
<circle cx="116.36" cy="630.77" r="1.6" fill="#555" fill-opacity="0.5"/>
<circle cx="115.54" cy="623.86" r="1.6" fill="#555" fill-opacity="0.5"/>
<circle cx="115.91" cy="643.67" r="1.6" fill="#555" fill-opacity="0.5"/>
<circle cx="108.18" cy="627.99" r="1.6" fill="#555" fill-opacity="0.5"/>
<circle cx="109.13" cy="642.77" r="1.6" fill="#555" fill-opacity="0.5"/>
<circle cx="108.66" cy="642.21" r="1.6" fill="#555" fill-opacity="0.5"/>
<circle cx="116.05" cy="632.41" r="1.6" fill="#555" fill-opacity="0.5"/>
<circle cx="113.09" cy="649.51" r="1.6" fill="#555" fill-opacity="0.5"/>
<circle cx="112.98" cy="639.46" r="1.6" fill="#555" fill-opacity="0.5"/>
<circle cx="107.29" cy="622.93" r="1.6" fill="#555" fill-opacity="0.5"/>
<circle cx="112.45" cy="639.83" r="1.6" fill="#555" fill-opacity="0.5"/>
<circle cx="108.75" cy="629.11" r="1.6" fill="#555" fill-opacity="0.5"/>
<circle cx="110.58" cy="623.98" r="1.6" fill="#555" fill-opacity="0.5"/>
<circle cx="106.74" cy="641.60" r="1.6" fill="#555" fill-opacity="0.5"/>
<circle cx="115.18" cy="641.63" r="1.6" fill="#555" fill-opacity="0.5"/>
<circle cx="111.58" cy="644.22" r="1.6" fill="#555" fill-opacity="0.5"/>
<circle cx="110.71" cy="628.76" r="1.6" fill="#555" fill-opacity="0.5"/>
<circle cx="107.34" cy="636.40" r="1.6" fill="#555" fill-opacity="0.5"/>
<circle cx="114.72" cy="638.08" r="1.6" fill="#555" fill-opacity="0.5"/>
<circle cx="114.31" cy="649.93" r="1.6" fill="#555" fill-opacity="0.5"/>
<circle cx="106.94" cy="635.64" r="1.6" fill="#555" fill-opacity="0.5"/>
<circle cx="117.72" cy="630.11" r="1.6" fill="#555" fill-opacity="0.5"/>
<circle cx="107.05" cy="622.09" r="1.6" fill="#555" fill-opacity="0.5"/>
<circle cx="106.43" cy="633.12" r="1.6" fill="#555" fill-opacity="0.5"/>
<circle cx="112.20" cy="639.49" r="1.6" fill="#555" fill-opacity="0.5"/>
<circle cx="108.82" cy="631.22" r="1.6" fill="#555" fill-opacity="0.5"/>
<circle cx="110.67" cy="633.37" r="1.6" fill="#555" fill-opacity="0.5"/>
<circle cx="117.37" cy="634.37" r="1.6" fill="#555" fill-opacity="0.5"/>
<circle cx="116.53" cy="634.54" r="1.6" fill="#555" fill-opacity="0.5"/>
<circle cx="115.00" cy="643.86" r="1.6" fill="#555" fill-opacity="0.5"/>
<circle cx="114.31" cy="640.24" r="1.6" fill="#555" fill-opacity="0.5"/>
<circle cx="116.83" cy="640.73" r="1.6" fill="#555" fill-opacity="0.5"/>
<circle cx="115.77" cy="631.10" r="1.6" fill="#555" fill-opacity="0.5"/>
<circle cx="107.89" cy="628.70" r="1.6" fill="#555" fill-opacity="0.5"/>
<circle cx="109.71" cy="636.53" r="1.6" fill="#555" fill-opacity="0.5"/>
<circle cx="111.56" cy="680.25" r="1.6" fill="#555" fill-opacity="0.5"/>
<circle cx="114.37" cy="654.35" r="1.6" fill="#555" fill-opacity="0.5"/>
<circle cx="113.64" cy="657.38" r="1.6" fill="#555" fill-opacity="0.5"/>
<circle cx="117.23" cy="672.13" r="1.6" fill="#555" fill-opacity="0.5"/>
<circle cx="116.01" cy="660.99" r="1.6" fill="#555" fill-opacity="0.5"/>
<circle cx="108.52" cy="655.76" r="1.6" fill="#555" fill-opacity="0.5"/>
<circle cx="110.60" cy="669.54" r="1.6" fill="#555" fill-opacity="0.5"/>
<circle cx="111.27" cy="680.16" r="1.6" fill="#555" fill-opacity="0.5"/>
<circle cx="108.22" cy="670.13" r="1.6" fill="#555" fill-opacity="0.5"/>
<circle cx="108.39" cy="662.92" r="1.6" fill="#555" fill-opacity="0.5"/>
<circle cx="110.00" cy="694.50" r="1.6" fill="#555" fill-opacity="0.5"/>
<circle cx="112.00" cy="696.30" r="1.6" fill="#555" fill-opacity="0.5"/>
<circle cx="113.50" cy="688.00" r="1.6" fill="#555" fill-opacity="0.5"/>
<circle cx="146.20" cy="673.80" r="1.6" fill="#555" fill-opacity="0.5"/>
<circle cx="148.30" cy="683.60" r="1.6" fill="#555" fill-opacity="0.5"/>
<circle cx="146.70" cy="703.40" r="1.6" fill="#555" fill-opacity="0.5"/>
<circle cx="143.80" cy="710.20" r="1.6" fill="#555" fill-opacity="0.5"/>
<circle cx="139.50" cy="651.00" r="1.6" fill="#555" fill-opacity="0.5"/>
<circle cx="144.00" cy="650.00" r="1.6" fill="#555" fill-opacity="0.5"/>
<circle cx="140.50" cy="648.00" r="1.6" fill="#555" fill-opacity="0.5"/>
<circle cx="148.73" cy="638.60" r="1.6" fill="#555" fill-opacity="0.5"/>
<circle cx="139.47" cy="604.98" r="1.6" fill="#555" fill-opacity="0.5"/>
<circle cx="141.88" cy="626.00" r="1.6" fill="#555" fill-opacity="0.5"/>
<circle cx="144.45" cy="607.67" r="1.6" fill="#555" fill-opacity="0.5"/>
<circle cx="140.62" cy="636.23" r="1.6" fill="#555" fill-opacity="0.5"/>
<circle cx="141.25" cy="623.20" r="1.6" fill="#555" fill-opacity="0.5"/>
<circle cx="141.70" cy="618.69" r="1.6" fill="#555" fill-opacity="0.5"/>
<circle cx="148.78" cy="611.02" r="1.6" fill="#555" fill-opacity="0.5"/>
<circle cx="144.65" cy="625.95" r="1.6" fill="#555" fill-opacity="0.5"/>
<circle cx="142.24" cy="632.86" r="1.6" fill="#555" fill-opacity="0.5"/>
<circle cx="146.53" cy="616.91" r="1.6" fill="#555" fill-opacity="0.5"/>
<circle cx="139.81" cy="636.08" r="1.6" fill="#555" fill-opacity="0.5"/>
<circle cx="141.28" cy="622.57" r="1.6" fill="#555" fill-opacity="0.5"/>
<circle cx="139.45" cy="613.93" r="1.6" fill="#555" fill-opacity="0.5"/>
<circle cx="146.84" cy="621.97" r="1.6" fill="#555" fill-opacity="0.5"/>
<circle cx="150.17" cy="609.95" r="1.6" fill="#555" fill-opacity="0.5"/>
<circle cx="147.29" cy="623.53" r="1.6" fill="#555" fill-opacity="0.5"/>
<circle cx="139.94" cy="630.28" r="1.6" fill="#555" fill-opacity="0.5"/>
<circle cx="139.49" cy="633.83" r="1.6" fill="#555" fill-opacity="0.5"/>
<circle cx="146.54" cy="616.88" r="1.6" fill="#555" fill-opacity="0.5"/>
<circle cx="149.21" cy="621.93" r="1.6" fill="#555" fill-opacity="0.5"/>
<circle cx="148.33" cy="628.56" r="1.6" fill="#555" fill-opacity="0.5"/>
<circle cx="149.90" cy="636.53" r="1.6" fill="#555" fill-opacity="0.5"/>
<circle cx="150.30" cy="638.94" r="1.6" fill="#555" fill-opacity="0.5"/>
<circle cx="146.36" cy="604.70" r="1.6" fill="#555" fill-opacity="0.5"/>
<circle cx="146.76" cy="625.98" r="1.6" fill="#555" fill-opacity="0.5"/>
<circle cx="141.48" cy="623.44" r="1.6" fill="#555" fill-opacity="0.5"/>
<circle cx="139.99" cy="635.82" r="1.6" fill="#555" fill-opacity="0.5"/>
<circle cx="145.48" cy="618.78" r="1.6" fill="#555" fill-opacity="0.5"/>
<circle cx="140.57" cy="633.39" r="1.6" fill="#555" fill-opacity="0.5"/>
<circle cx="145.97" cy="605.26" r="1.6" fill="#555" fill-opacity="0.5"/>
<circle cx="150.13" cy="611.83" r="1.6" fill="#555" fill-opacity="0.5"/>
<circle cx="145.17" cy="622.97" r="1.6" fill="#555" fill-opacity="0.5"/>
<circle cx="144.09" cy="608.69" r="1.6" fill="#555" fill-opacity="0.5"/>
<circle cx="148.02" cy="627.18" r="1.6" fill="#555" fill-opacity="0.5"/>
<circle cx="144.16" cy="627.53" r="1.6" fill="#555" fill-opacity="0.5"/>
<circle cx="142.19" cy="617.80" r="1.6" fill="#555" fill-opacity="0.5"/>
<circle cx="139.43" cy="623.50" r="1.6" fill="#555" fill-opacity="0.5"/>
<circle cx="148.63" cy="633.68" r="1.6" fill="#555" fill-opacity="0.5"/>
<circle cx="143.72" cy="639.77" r="1.6" fill="#555" fill-opacity="0.5"/>
<circle cx="150.97" cy="625.06" r="1.6" fill="#555" fill-opacity="0.5"/>
<circle cx="147.81" cy="611.33" r="1.6" fill="#555" fill-opacity="0.5"/>
<circle cx="139.66" cy="633.30" r="1.6" fill="#555" fill-opacity="0.5"/>
<circle cx="145.00" cy="617.52" r="1.6" fill="#555" fill-opacity="0.5"/>
<circle cx="146.54" cy="620.78" r="1.6" fill="#555" fill-opacity="0.5"/>
<circle cx="149.38" cy="625.67" r="1.6" fill="#555" fill-opacity="0.5"/>
<circle cx="142.00" cy="631.12" r="1.6" fill="#555" fill-opacity="0.5"/>
<circle cx="149.17" cy="637.44" r="1.6" fill="#555" fill-opacity="0.5"/>
<circle cx="142.70" cy="636.09" r="1.6" fill="#555" fill-opacity="0.5"/>
<circle cx="148.97" cy="626.92" r="1.6" fill="#555" fill-opacity="0.5"/>
<circle cx="142.55" cy="613.75" r="1.6" fill="#555" fill-opacity="0.5"/>
<circle cx="144.97" cy="612.09" r="1.6" fill="#555" fill-opacity="0.5"/>
<circle cx="147.24" cy="629.76" r="1.6" fill="#555" fill-opacity="0.5"/>
<circle cx="143.42" cy="616.26" r="1.6" fill="#555" fill-opacity="0.5"/>
<circle cx="139.69" cy="611.20" r="1.6" fill="#555" fill-opacity="0.5"/>
<line x1="102.90" y1="594.30" x2="157.10" y2="594.30" stroke="#333" stroke-width="1" />
<text x="131.6" y="591.0" font-size="9.4" fill="#222" text-anchor="middle"><tspan font-style="italic">P</tspan> &lt; 0.001</text>
<text x="-0.6" y="587.3" font-size="16.5" font-weight="bold" fill="#000" stroke="#000" stroke-width="0.55">g</text>
<line x1="265.30" y1="599.60" x2="265.30" y2="716.00" stroke="#aaa" stroke-width="1.5" />
<line x1="265.30" y1="715.50" x2="453.30" y2="715.50" stroke="#555" stroke-width="1.2" />
<line x1="265.30" y1="606.00" x2="269.30" y2="606.00" stroke="#999" stroke-width="1" />
<text x="259.50" y="609.80" font-size="10.2" text-anchor="end" fill="#222" >7</text>
<line x1="265.30" y1="622.80" x2="269.30" y2="622.80" stroke="#999" stroke-width="1" />
<text x="259.50" y="626.60" font-size="10.2" text-anchor="end" fill="#222" >6</text>
<line x1="265.30" y1="639.60" x2="269.30" y2="639.60" stroke="#999" stroke-width="1" />
<text x="259.50" y="643.40" font-size="10.2" text-anchor="end" fill="#222" >5</text>
<line x1="265.30" y1="656.00" x2="269.30" y2="656.00" stroke="#999" stroke-width="1" />
<text x="259.50" y="659.80" font-size="10.2" text-anchor="end" fill="#222" >4</text>
<line x1="265.30" y1="672.50" x2="269.30" y2="672.50" stroke="#999" stroke-width="1" />
<text x="259.50" y="676.30" font-size="10.2" text-anchor="end" fill="#222" >3</text>
<line x1="265.30" y1="689.00" x2="269.30" y2="689.00" stroke="#999" stroke-width="1" />
<text x="259.50" y="692.80" font-size="10.2" text-anchor="end" fill="#222" >2</text>
<line x1="265.30" y1="705.70" x2="269.30" y2="705.70" stroke="#999" stroke-width="1" />
<text x="259.50" y="709.50" font-size="10.2" text-anchor="end" fill="#222" >1</text>
<text transform="translate(239,657.4) rotate(-90)" font-size="12.5" font-family="Liberation Serif, serif" font-style="italic" fill="#222" text-anchor="middle" y="4">β</text>
<path d="M328.80,599.80 C327.45,601.57 323.42,606.92 320.70,610.40 C317.98,613.88 314.82,617.28 312.50,620.70 C310.18,624.12 308.10,627.50 306.80,630.90 C305.50,634.30 304.78,637.70 304.70,641.10 C304.62,644.50 305.52,647.90 306.30,651.30 C307.08,654.70 308.72,658.10 309.40,661.50 C310.08,664.90 310.05,668.28 310.40,671.70 C310.75,675.12 310.47,678.58 311.50,682.00 C312.53,685.42 314.73,688.45 316.60,692.20 C318.47,695.95 320.83,700.68 322.70,704.50 C324.57,708.32 326.95,713.33 327.80,715.10 L332.30,715.10 L332.30,599.80Z" fill="#dfe3f0"/>
<path d="M328.80,599.80 C327.45,601.57 323.42,606.92 320.70,610.40 C317.98,613.88 314.82,617.28 312.50,620.70 C310.18,624.12 308.10,627.50 306.80,630.90 C305.50,634.30 304.78,637.70 304.70,641.10 C304.62,644.50 305.52,647.90 306.30,651.30 C307.08,654.70 308.72,658.10 309.40,661.50 C310.08,664.90 310.05,668.28 310.40,671.70 C310.75,675.12 310.47,678.58 311.50,682.00 C312.53,685.42 314.73,688.45 316.60,692.20 C318.47,695.95 320.83,700.68 322.70,704.50 C324.57,708.32 326.95,713.33 327.80,715.10" fill="none" stroke="#7e92cc" stroke-width="1.5"/>
<line x1="332.30" y1="599.80" x2="332.30" y2="715.10" stroke="#7e92cc" stroke-width="1.8" />
<path d="M390.10,599.80 C391.13,601.57 394.25,606.58 396.30,610.40 C398.35,614.22 401.03,618.60 402.40,622.70 C403.77,626.80 403.48,630.92 404.50,635.00 C405.52,639.08 407.22,643.12 408.50,647.20 C409.78,651.28 411.52,656.08 412.20,659.50 C412.88,662.92 413.03,664.30 412.60,667.70 C412.17,671.10 410.95,675.82 409.60,679.90 C408.25,683.98 406.72,688.10 404.50,692.20 C402.28,696.30 398.70,700.68 396.30,704.50 C393.90,708.32 391.13,713.33 390.10,715.10 L385.40,715.10 L385.40,599.80Z" fill="#fdf2cc"/>
<path d="M390.10,599.80 C391.13,601.57 394.25,606.58 396.30,610.40 C398.35,614.22 401.03,618.60 402.40,622.70 C403.77,626.80 403.48,630.92 404.50,635.00 C405.52,639.08 407.22,643.12 408.50,647.20 C409.78,651.28 411.52,656.08 412.20,659.50 C412.88,662.92 413.03,664.30 412.60,667.70 C412.17,671.10 410.95,675.82 409.60,679.90 C408.25,683.98 406.72,688.10 404.50,692.20 C402.28,696.30 398.70,700.68 396.30,704.50 C393.90,708.32 391.13,713.33 390.10,715.10" fill="none" stroke="#f5cc1c" stroke-width="1.5"/>
<line x1="385.40" y1="599.80" x2="385.40" y2="715.10" stroke="#f5cc1c" stroke-width="1.8" />
<circle cx="336.98" cy="676.86" r="1.6" fill="#555" fill-opacity="0.5"/>
<circle cx="341.51" cy="666.26" r="1.6" fill="#555" fill-opacity="0.5"/>
<circle cx="343.13" cy="704.56" r="1.6" fill="#555" fill-opacity="0.5"/>
<circle cx="339.66" cy="670.54" r="1.6" fill="#555" fill-opacity="0.5"/>
<circle cx="338.18" cy="651.91" r="1.6" fill="#555" fill-opacity="0.5"/>
<circle cx="343.22" cy="686.56" r="1.6" fill="#555" fill-opacity="0.5"/>
<circle cx="342.54" cy="651.71" r="1.6" fill="#555" fill-opacity="0.5"/>
<circle cx="341.38" cy="665.05" r="1.6" fill="#555" fill-opacity="0.5"/>
<circle cx="338.08" cy="638.37" r="1.6" fill="#555" fill-opacity="0.5"/>
<circle cx="337.32" cy="609.31" r="1.6" fill="#555" fill-opacity="0.5"/>
<circle cx="341.91" cy="627.33" r="1.6" fill="#555" fill-opacity="0.5"/>
<circle cx="344.63" cy="616.35" r="1.6" fill="#555" fill-opacity="0.5"/>
<circle cx="341.96" cy="625.47" r="1.6" fill="#555" fill-opacity="0.5"/>
<circle cx="342.69" cy="613.16" r="1.6" fill="#555" fill-opacity="0.5"/>
<circle cx="342.42" cy="614.33" r="1.6" fill="#555" fill-opacity="0.5"/>
<circle cx="343.46" cy="689.55" r="1.6" fill="#555" fill-opacity="0.5"/>
<circle cx="339.32" cy="605.25" r="1.6" fill="#555" fill-opacity="0.5"/>
<circle cx="344.92" cy="699.48" r="1.6" fill="#555" fill-opacity="0.5"/>
<circle cx="346.20" cy="607.88" r="1.6" fill="#555" fill-opacity="0.5"/>
<circle cx="337.69" cy="684.67" r="1.6" fill="#555" fill-opacity="0.5"/>
<circle cx="347.08" cy="700.81" r="1.6" fill="#555" fill-opacity="0.5"/>
<circle cx="339.59" cy="659.59" r="1.6" fill="#555" fill-opacity="0.5"/>
<circle cx="336.14" cy="644.87" r="1.6" fill="#555" fill-opacity="0.5"/>
<circle cx="339.40" cy="634.23" r="1.6" fill="#555" fill-opacity="0.5"/>
<circle cx="336.85" cy="619.86" r="1.6" fill="#555" fill-opacity="0.5"/>
<circle cx="338.28" cy="673.27" r="1.6" fill="#555" fill-opacity="0.5"/>
<circle cx="340.60" cy="643.29" r="1.6" fill="#555" fill-opacity="0.5"/>
<circle cx="339.87" cy="653.65" r="1.6" fill="#555" fill-opacity="0.5"/>
<circle cx="339.15" cy="624.97" r="1.6" fill="#555" fill-opacity="0.5"/>
<circle cx="346.46" cy="638.69" r="1.6" fill="#555" fill-opacity="0.5"/>
<circle cx="335.88" cy="648.64" r="1.6" fill="#555" fill-opacity="0.5"/>
<circle cx="338.27" cy="639.40" r="1.6" fill="#555" fill-opacity="0.5"/>
<circle cx="344.34" cy="672.09" r="1.6" fill="#555" fill-opacity="0.5"/>
<circle cx="338.86" cy="659.36" r="1.6" fill="#555" fill-opacity="0.5"/>
<circle cx="339.44" cy="676.36" r="1.6" fill="#555" fill-opacity="0.5"/>
<circle cx="347.22" cy="638.44" r="1.6" fill="#555" fill-opacity="0.5"/>
<circle cx="343.01" cy="621.73" r="1.6" fill="#555" fill-opacity="0.5"/>
<circle cx="345.03" cy="632.74" r="1.6" fill="#555" fill-opacity="0.5"/>
<circle cx="343.92" cy="706.25" r="1.6" fill="#555" fill-opacity="0.5"/>
<circle cx="343.47" cy="672.55" r="1.6" fill="#555" fill-opacity="0.5"/>
<circle cx="340.14" cy="635.03" r="1.6" fill="#555" fill-opacity="0.5"/>
<circle cx="336.61" cy="618.56" r="1.6" fill="#555" fill-opacity="0.5"/>
<circle cx="336.08" cy="651.64" r="1.6" fill="#555" fill-opacity="0.5"/>
<circle cx="341.62" cy="670.64" r="1.6" fill="#555" fill-opacity="0.5"/>
<circle cx="344.04" cy="635.12" r="1.6" fill="#555" fill-opacity="0.5"/>
<circle cx="344.24" cy="647.38" r="1.6" fill="#555" fill-opacity="0.5"/>
<circle cx="343.92" cy="616.37" r="1.6" fill="#555" fill-opacity="0.5"/>
<circle cx="339.25" cy="631.10" r="1.6" fill="#555" fill-opacity="0.5"/>
<circle cx="346.73" cy="618.38" r="1.6" fill="#555" fill-opacity="0.5"/>
<circle cx="345.32" cy="641.02" r="1.6" fill="#555" fill-opacity="0.5"/>
<circle cx="335.54" cy="633.34" r="1.6" fill="#555" fill-opacity="0.5"/>
<circle cx="339.65" cy="639.77" r="1.6" fill="#555" fill-opacity="0.5"/>
<circle cx="345.14" cy="626.51" r="1.6" fill="#555" fill-opacity="0.5"/>
<circle cx="342.15" cy="622.38" r="1.6" fill="#555" fill-opacity="0.5"/>
<circle cx="344.63" cy="669.08" r="1.6" fill="#555" fill-opacity="0.5"/>
<circle cx="338.10" cy="636.43" r="1.6" fill="#555" fill-opacity="0.5"/>
<circle cx="345.76" cy="645.58" r="1.6" fill="#555" fill-opacity="0.5"/>
<circle cx="339.15" cy="629.73" r="1.6" fill="#555" fill-opacity="0.5"/>
<circle cx="347.07" cy="708.08" r="1.6" fill="#555" fill-opacity="0.5"/>
<circle cx="343.81" cy="699.99" r="1.6" fill="#555" fill-opacity="0.5"/>
<circle cx="342.89" cy="686.04" r="1.6" fill="#555" fill-opacity="0.5"/>
<circle cx="344.08" cy="699.29" r="1.6" fill="#555" fill-opacity="0.5"/>
<circle cx="336.95" cy="621.69" r="1.6" fill="#555" fill-opacity="0.5"/>
<circle cx="337.20" cy="607.55" r="1.6" fill="#555" fill-opacity="0.5"/>
<circle cx="342.39" cy="704.88" r="1.6" fill="#555" fill-opacity="0.5"/>
<circle cx="340.28" cy="642.17" r="1.6" fill="#555" fill-opacity="0.5"/>
<circle cx="337.74" cy="650.22" r="1.6" fill="#555" fill-opacity="0.5"/>
<circle cx="338.20" cy="635.38" r="1.6" fill="#555" fill-opacity="0.5"/>
<circle cx="339.26" cy="620.92" r="1.6" fill="#555" fill-opacity="0.5"/>
<circle cx="341.95" cy="631.57" r="1.6" fill="#555" fill-opacity="0.5"/>
<circle cx="368.41" cy="618.40" r="1.6" fill="#555" fill-opacity="0.5"/>
<circle cx="370.68" cy="614.53" r="1.6" fill="#555" fill-opacity="0.5"/>
<circle cx="377.84" cy="641.92" r="1.6" fill="#555" fill-opacity="0.5"/>
<circle cx="377.06" cy="674.93" r="1.6" fill="#555" fill-opacity="0.5"/>
<circle cx="375.19" cy="677.84" r="1.6" fill="#555" fill-opacity="0.5"/>
<circle cx="376.83" cy="684.05" r="1.6" fill="#555" fill-opacity="0.5"/>
<circle cx="378.66" cy="708.18" r="1.6" fill="#555" fill-opacity="0.5"/>
<circle cx="370.78" cy="650.47" r="1.6" fill="#555" fill-opacity="0.5"/>
<circle cx="369.19" cy="673.40" r="1.6" fill="#555" fill-opacity="0.5"/>
<circle cx="376.16" cy="627.50" r="1.6" fill="#555" fill-opacity="0.5"/>
<circle cx="379.44" cy="659.54" r="1.6" fill="#555" fill-opacity="0.5"/>
<circle cx="372.96" cy="687.80" r="1.6" fill="#555" fill-opacity="0.5"/>
<circle cx="375.90" cy="650.07" r="1.6" fill="#555" fill-opacity="0.5"/>
<circle cx="371.30" cy="651.28" r="1.6" fill="#555" fill-opacity="0.5"/>
<circle cx="375.85" cy="645.61" r="1.6" fill="#555" fill-opacity="0.5"/>
<circle cx="373.70" cy="671.97" r="1.6" fill="#555" fill-opacity="0.5"/>
<circle cx="368.52" cy="667.48" r="1.6" fill="#555" fill-opacity="0.5"/>
<circle cx="371.89" cy="644.09" r="1.6" fill="#555" fill-opacity="0.5"/>
<circle cx="375.95" cy="650.92" r="1.6" fill="#555" fill-opacity="0.5"/>
<circle cx="370.03" cy="706.09" r="1.6" fill="#555" fill-opacity="0.5"/>
<circle cx="376.45" cy="624.31" r="1.6" fill="#555" fill-opacity="0.5"/>
<circle cx="379.28" cy="676.58" r="1.6" fill="#555" fill-opacity="0.5"/>
<circle cx="378.11" cy="694.74" r="1.6" fill="#555" fill-opacity="0.5"/>
<circle cx="372.56" cy="668.98" r="1.6" fill="#555" fill-opacity="0.5"/>
<circle cx="368.30" cy="691.91" r="1.6" fill="#555" fill-opacity="0.5"/>
<circle cx="374.83" cy="623.59" r="1.6" fill="#555" fill-opacity="0.5"/>
<circle cx="372.65" cy="673.45" r="1.6" fill="#555" fill-opacity="0.5"/>
<circle cx="375.86" cy="706.72" r="1.6" fill="#555" fill-opacity="0.5"/>
<circle cx="369.96" cy="627.64" r="1.6" fill="#555" fill-opacity="0.5"/>
<circle cx="369.18" cy="618.12" r="1.6" fill="#555" fill-opacity="0.5"/>
<circle cx="374.39" cy="646.06" r="1.6" fill="#555" fill-opacity="0.5"/>
<circle cx="368.81" cy="689.28" r="1.6" fill="#555" fill-opacity="0.5"/>
<circle cx="376.82" cy="682.16" r="1.6" fill="#555" fill-opacity="0.5"/>
<circle cx="370.81" cy="708.03" r="1.6" fill="#555" fill-opacity="0.5"/>
<circle cx="371.63" cy="643.62" r="1.6" fill="#555" fill-opacity="0.5"/>
<circle cx="375.67" cy="616.88" r="1.6" fill="#555" fill-opacity="0.5"/>
<circle cx="368.45" cy="649.21" r="1.6" fill="#555" fill-opacity="0.5"/>
<circle cx="371.06" cy="633.97" r="1.6" fill="#555" fill-opacity="0.5"/>
<circle cx="377.17" cy="689.23" r="1.6" fill="#555" fill-opacity="0.5"/>
<circle cx="379.15" cy="645.95" r="1.6" fill="#555" fill-opacity="0.5"/>
<circle cx="372.15" cy="700.64" r="1.6" fill="#555" fill-opacity="0.5"/>
<circle cx="379.34" cy="635.83" r="1.6" fill="#555" fill-opacity="0.5"/>
<circle cx="375.77" cy="615.71" r="1.6" fill="#555" fill-opacity="0.5"/>
<circle cx="379.47" cy="655.26" r="1.6" fill="#555" fill-opacity="0.5"/>
<circle cx="370.91" cy="640.66" r="1.6" fill="#555" fill-opacity="0.5"/>
<circle cx="374.36" cy="687.91" r="1.6" fill="#555" fill-opacity="0.5"/>
<circle cx="375.35" cy="703.28" r="1.6" fill="#555" fill-opacity="0.5"/>
<circle cx="373.96" cy="661.56" r="1.6" fill="#555" fill-opacity="0.5"/>
<circle cx="376.83" cy="657.50" r="1.6" fill="#555" fill-opacity="0.5"/>
<circle cx="372.79" cy="706.75" r="1.6" fill="#555" fill-opacity="0.5"/>
<circle cx="370.27" cy="629.98" r="1.6" fill="#555" fill-opacity="0.5"/>
<circle cx="374.97" cy="611.66" r="1.6" fill="#555" fill-opacity="0.5"/>
<circle cx="378.93" cy="683.02" r="1.6" fill="#555" fill-opacity="0.5"/>
<circle cx="374.79" cy="635.64" r="1.6" fill="#555" fill-opacity="0.5"/>
<circle cx="373.62" cy="693.25" r="1.6" fill="#555" fill-opacity="0.5"/>
<circle cx="372.29" cy="646.23" r="1.6" fill="#555" fill-opacity="0.5"/>
<circle cx="368.10" cy="656.13" r="1.6" fill="#555" fill-opacity="0.5"/>
<circle cx="379.42" cy="662.55" r="1.6" fill="#555" fill-opacity="0.5"/>
<circle cx="371.58" cy="663.85" r="1.6" fill="#555" fill-opacity="0.5"/>
<circle cx="378.72" cy="679.91" r="1.6" fill="#555" fill-opacity="0.5"/>
<circle cx="375.34" cy="666.86" r="1.6" fill="#555" fill-opacity="0.5"/>
<circle cx="369.83" cy="620.06" r="1.6" fill="#555" fill-opacity="0.5"/>
<circle cx="377.98" cy="610.11" r="1.6" fill="#555" fill-opacity="0.5"/>
<circle cx="377.28" cy="646.84" r="1.6" fill="#555" fill-opacity="0.5"/>
<circle cx="376.13" cy="708.34" r="1.6" fill="#555" fill-opacity="0.5"/>
<circle cx="377.21" cy="642.47" r="1.6" fill="#555" fill-opacity="0.5"/>
<circle cx="375.40" cy="632.46" r="1.6" fill="#555" fill-opacity="0.5"/>
<circle cx="375.78" cy="695.09" r="1.6" fill="#555" fill-opacity="0.5"/>
<circle cx="373.52" cy="628.95" r="1.6" fill="#555" fill-opacity="0.5"/>
<circle cx="379.18" cy="673.87" r="1.6" fill="#555" fill-opacity="0.5"/>
<circle cx="373.56" cy="623.44" r="1.6" fill="#555" fill-opacity="0.5"/>
<circle cx="368.28" cy="621.30" r="1.6" fill="#555" fill-opacity="0.5"/>
<circle cx="370.48" cy="673.43" r="1.6" fill="#555" fill-opacity="0.5"/>
<circle cx="378.18" cy="695.30" r="1.6" fill="#555" fill-opacity="0.5"/>
<circle cx="372.83" cy="619.89" r="1.6" fill="#555" fill-opacity="0.5"/>
<line x1="332.30" y1="594.30" x2="385.40" y2="594.30" stroke="#333" stroke-width="1" />
<text x="361" y="591.0" font-size="9.4" fill="#222" text-anchor="middle"><tspan font-style="italic">P</tspan> = 0.604</text>
<text x="234.4" y="586.5" font-size="16.5" font-weight="bold" fill="#000" stroke="#000" stroke-width="0.55">h</text>
<line x1="494.60" y1="599.60" x2="494.60" y2="716.00" stroke="#aaa" stroke-width="1.5" />
<line x1="494.60" y1="715.50" x2="683.30" y2="715.50" stroke="#555" stroke-width="1.2" />
<line x1="494.60" y1="623.80" x2="498.60" y2="623.80" stroke="#999" stroke-width="1" />
<text x="488.90" y="627.60" font-size="10.2" text-anchor="end" fill="#222" >0</text>
<line x1="494.60" y1="652.00" x2="498.60" y2="652.00" stroke="#999" stroke-width="1" />
<text x="488.90" y="655.80" font-size="10.2" text-anchor="end" fill="#222" >−2</text>
<line x1="494.60" y1="679.90" x2="498.60" y2="679.90" stroke="#999" stroke-width="1" />
<text x="488.90" y="683.70" font-size="10.2" text-anchor="end" fill="#222" >−4</text>
<line x1="494.60" y1="707.70" x2="498.60" y2="707.70" stroke="#999" stroke-width="1" />
<text x="488.90" y="711.50" font-size="10.2" text-anchor="end" fill="#222" >−6</text>
<text transform="translate(467,657.4) rotate(-90)" font-size="12.5" font-family="Liberation Serif, serif" font-style="italic" fill="#222" text-anchor="middle" y="4">φ</text>
<path d="M561.90,599.80 C560.70,600.38 557.60,601.87 554.70,603.30 C551.80,604.73 547.57,606.53 544.50,608.40 C541.43,610.27 538.00,612.80 536.30,614.50 C534.60,616.20 534.12,617.23 534.30,618.60 C534.48,619.97 535.70,621.00 537.40,622.70 C539.10,624.40 541.95,626.75 544.50,628.80 C547.05,630.85 550.48,632.95 552.70,635.00 C554.92,637.05 556.60,638.72 557.80,641.10 C559.00,643.48 559.38,646.58 559.90,649.30 C560.42,652.02 560.80,654.68 560.90,657.40 C561.00,660.12 560.40,661.57 560.50,665.60 C560.60,669.63 561.33,678.93 561.50,681.60 L561.90,681.60 L561.90,599.80Z" fill="#dfe3f0"/>
<path d="M561.90,599.80 C560.70,600.38 557.60,601.87 554.70,603.30 C551.80,604.73 547.57,606.53 544.50,608.40 C541.43,610.27 538.00,612.80 536.30,614.50 C534.60,616.20 534.12,617.23 534.30,618.60 C534.48,619.97 535.70,621.00 537.40,622.70 C539.10,624.40 541.95,626.75 544.50,628.80 C547.05,630.85 550.48,632.95 552.70,635.00 C554.92,637.05 556.60,638.72 557.80,641.10 C559.00,643.48 559.38,646.58 559.90,649.30 C560.42,652.02 560.80,654.68 560.90,657.40 C561.00,660.12 560.40,661.57 560.50,665.60 C560.60,669.63 561.33,678.93 561.50,681.60" fill="none" stroke="#7e92cc" stroke-width="1.5"/>
<line x1="561.90" y1="599.80" x2="561.90" y2="681.60" stroke="#7e92cc" stroke-width="1.8" />
<path d="M616.00,599.80 C616.68,601.23 618.38,605.95 620.10,608.40 C621.82,610.85 623.92,612.45 626.30,614.50 C628.68,616.55 632.02,618.82 634.40,620.70 C636.78,622.58 639.23,624.10 640.60,625.80 C641.97,627.50 642.60,629.37 642.60,630.90 C642.60,632.43 642.13,633.30 640.60,635.00 C639.07,636.70 635.62,638.72 633.40,641.10 C631.18,643.48 629.17,646.58 627.30,649.30 C625.43,652.02 623.73,654.00 622.20,657.40 C620.67,660.80 619.05,665.60 618.10,669.70 C617.15,673.80 616.83,677.57 616.50,682.00 C616.17,686.43 616.22,690.63 616.10,696.30 C615.98,701.97 615.85,712.72 615.80,716.00 L615.60,716.00 L615.60,599.80Z" fill="#fdf2cc"/>
<path d="M616.00,599.80 C616.68,601.23 618.38,605.95 620.10,608.40 C621.82,610.85 623.92,612.45 626.30,614.50 C628.68,616.55 632.02,618.82 634.40,620.70 C636.78,622.58 639.23,624.10 640.60,625.80 C641.97,627.50 642.60,629.37 642.60,630.90 C642.60,632.43 642.13,633.30 640.60,635.00 C639.07,636.70 635.62,638.72 633.40,641.10 C631.18,643.48 629.17,646.58 627.30,649.30 C625.43,652.02 623.73,654.00 622.20,657.40 C620.67,660.80 619.05,665.60 618.10,669.70 C617.15,673.80 616.83,677.57 616.50,682.00 C616.17,686.43 616.22,690.63 616.10,696.30 C615.98,701.97 615.85,712.72 615.80,716.00" fill="none" stroke="#f5cc1c" stroke-width="1.5"/>
<line x1="615.60" y1="599.80" x2="615.60" y2="716.00" stroke="#f5cc1c" stroke-width="1.8" />
<circle cx="568.40" cy="649.90" r="1.6" fill="#555" fill-opacity="0.5"/>
<circle cx="575.20" cy="650.30" r="1.6" fill="#555" fill-opacity="0.5"/>
<circle cx="574.20" cy="671.30" r="1.6" fill="#555" fill-opacity="0.5"/>
<circle cx="570.24" cy="637.44" r="1.6" fill="#555" fill-opacity="0.5"/>
<circle cx="575.64" cy="616.13" r="1.6" fill="#555" fill-opacity="0.5"/>
<circle cx="573.00" cy="613.55" r="1.6" fill="#555" fill-opacity="0.5"/>
<circle cx="573.11" cy="624.35" r="1.6" fill="#555" fill-opacity="0.5"/>
<circle cx="566.10" cy="615.22" r="1.6" fill="#555" fill-opacity="0.5"/>
<circle cx="574.80" cy="625.32" r="1.6" fill="#555" fill-opacity="0.5"/>
<circle cx="575.15" cy="620.03" r="1.6" fill="#555" fill-opacity="0.5"/>
<circle cx="573.10" cy="622.31" r="1.6" fill="#555" fill-opacity="0.5"/>
<circle cx="571.30" cy="622.25" r="1.6" fill="#555" fill-opacity="0.5"/>
<circle cx="576.30" cy="619.09" r="1.6" fill="#555" fill-opacity="0.5"/>
<circle cx="568.72" cy="614.17" r="1.6" fill="#555" fill-opacity="0.5"/>
<circle cx="566.74" cy="620.63" r="1.6" fill="#555" fill-opacity="0.5"/>
<circle cx="569.79" cy="615.90" r="1.6" fill="#555" fill-opacity="0.5"/>
<circle cx="571.33" cy="619.45" r="1.6" fill="#555" fill-opacity="0.5"/>
<circle cx="566.84" cy="625.45" r="1.6" fill="#555" fill-opacity="0.5"/>
<circle cx="572.28" cy="607.10" r="1.6" fill="#555" fill-opacity="0.5"/>
<circle cx="573.23" cy="625.13" r="1.6" fill="#555" fill-opacity="0.5"/>
<circle cx="567.26" cy="604.30" r="1.6" fill="#555" fill-opacity="0.5"/>
<circle cx="573.91" cy="630.79" r="1.6" fill="#555" fill-opacity="0.5"/>
<circle cx="573.65" cy="606.81" r="1.6" fill="#555" fill-opacity="0.5"/>
<circle cx="572.76" cy="636.38" r="1.6" fill="#555" fill-opacity="0.5"/>
<circle cx="566.85" cy="618.09" r="1.6" fill="#555" fill-opacity="0.5"/>
<circle cx="575.80" cy="604.88" r="1.6" fill="#555" fill-opacity="0.5"/>
<circle cx="567.47" cy="621.32" r="1.6" fill="#555" fill-opacity="0.5"/>
<circle cx="569.79" cy="623.93" r="1.6" fill="#555" fill-opacity="0.5"/>
<circle cx="572.86" cy="631.40" r="1.6" fill="#555" fill-opacity="0.5"/>
<circle cx="567.95" cy="631.62" r="1.6" fill="#555" fill-opacity="0.5"/>
<circle cx="573.88" cy="616.69" r="1.6" fill="#555" fill-opacity="0.5"/>
<circle cx="570.97" cy="613.31" r="1.6" fill="#555" fill-opacity="0.5"/>
<circle cx="570.77" cy="614.89" r="1.6" fill="#555" fill-opacity="0.5"/>
<circle cx="575.89" cy="638.29" r="1.6" fill="#555" fill-opacity="0.5"/>
<circle cx="566.86" cy="626.41" r="1.6" fill="#555" fill-opacity="0.5"/>
<circle cx="571.85" cy="616.44" r="1.6" fill="#555" fill-opacity="0.5"/>
<circle cx="574.38" cy="615.12" r="1.6" fill="#555" fill-opacity="0.5"/>
<circle cx="567.68" cy="617.05" r="1.6" fill="#555" fill-opacity="0.5"/>
<circle cx="575.53" cy="623.44" r="1.6" fill="#555" fill-opacity="0.5"/>
<circle cx="569.86" cy="619.71" r="1.6" fill="#555" fill-opacity="0.5"/>
<circle cx="567.42" cy="611.22" r="1.6" fill="#555" fill-opacity="0.5"/>
<circle cx="570.91" cy="619.78" r="1.6" fill="#555" fill-opacity="0.5"/>
<circle cx="576.74" cy="623.86" r="1.6" fill="#555" fill-opacity="0.5"/>
<circle cx="569.14" cy="616.82" r="1.6" fill="#555" fill-opacity="0.5"/>
<circle cx="575.39" cy="617.25" r="1.6" fill="#555" fill-opacity="0.5"/>
<circle cx="572.57" cy="606.79" r="1.6" fill="#555" fill-opacity="0.5"/>
<circle cx="571.33" cy="620.94" r="1.6" fill="#555" fill-opacity="0.5"/>
<circle cx="570.79" cy="606.47" r="1.6" fill="#555" fill-opacity="0.5"/>
<circle cx="569.04" cy="618.71" r="1.6" fill="#555" fill-opacity="0.5"/>
<circle cx="572.79" cy="623.39" r="1.6" fill="#555" fill-opacity="0.5"/>
<circle cx="575.62" cy="623.01" r="1.6" fill="#555" fill-opacity="0.5"/>
<circle cx="571.00" cy="619.73" r="1.6" fill="#555" fill-opacity="0.5"/>
<circle cx="567.31" cy="632.23" r="1.6" fill="#555" fill-opacity="0.5"/>
<circle cx="573.72" cy="611.37" r="1.6" fill="#555" fill-opacity="0.5"/>
<circle cx="576.95" cy="606.58" r="1.6" fill="#555" fill-opacity="0.5"/>
<circle cx="571.12" cy="616.02" r="1.6" fill="#555" fill-opacity="0.5"/>
<circle cx="576.20" cy="622.67" r="1.6" fill="#555" fill-opacity="0.5"/>
<circle cx="574.66" cy="608.63" r="1.6" fill="#555" fill-opacity="0.5"/>
<circle cx="603.80" cy="690.10" r="1.6" fill="#555" fill-opacity="0.5"/>
<circle cx="600.70" cy="708.10" r="1.6" fill="#555" fill-opacity="0.5"/>
<circle cx="600.70" cy="709.60" r="1.6" fill="#555" fill-opacity="0.5"/>
<circle cx="603.63" cy="645.41" r="1.6" fill="#555" fill-opacity="0.5"/>
<circle cx="599.37" cy="669.31" r="1.6" fill="#555" fill-opacity="0.5"/>
<circle cx="605.78" cy="659.70" r="1.6" fill="#555" fill-opacity="0.5"/>
<circle cx="601.65" cy="634.81" r="1.6" fill="#555" fill-opacity="0.5"/>
<circle cx="606.34" cy="630.24" r="1.6" fill="#555" fill-opacity="0.5"/>
<circle cx="601.97" cy="629.42" r="1.6" fill="#555" fill-opacity="0.5"/>
<circle cx="606.54" cy="617.85" r="1.6" fill="#555" fill-opacity="0.5"/>
<circle cx="610.29" cy="631.01" r="1.6" fill="#555" fill-opacity="0.5"/>
<circle cx="602.51" cy="669.45" r="1.6" fill="#555" fill-opacity="0.5"/>
<circle cx="611.74" cy="627.64" r="1.6" fill="#555" fill-opacity="0.5"/>
<circle cx="610.65" cy="615.62" r="1.6" fill="#555" fill-opacity="0.5"/>
<circle cx="608.38" cy="624.13" r="1.6" fill="#555" fill-opacity="0.5"/>
<circle cx="608.87" cy="606.33" r="1.6" fill="#555" fill-opacity="0.5"/>
<circle cx="605.85" cy="636.38" r="1.6" fill="#555" fill-opacity="0.5"/>
<circle cx="599.46" cy="613.37" r="1.6" fill="#555" fill-opacity="0.5"/>
<circle cx="602.70" cy="639.47" r="1.6" fill="#555" fill-opacity="0.5"/>
<circle cx="599.36" cy="620.55" r="1.6" fill="#555" fill-opacity="0.5"/>
<circle cx="602.96" cy="635.67" r="1.6" fill="#555" fill-opacity="0.5"/>
<circle cx="610.93" cy="632.36" r="1.6" fill="#555" fill-opacity="0.5"/>
<circle cx="600.18" cy="640.62" r="1.6" fill="#555" fill-opacity="0.5"/>
<circle cx="601.88" cy="622.35" r="1.6" fill="#555" fill-opacity="0.5"/>
<circle cx="604.10" cy="633.43" r="1.6" fill="#555" fill-opacity="0.5"/>
<circle cx="605.66" cy="666.94" r="1.6" fill="#555" fill-opacity="0.5"/>
<circle cx="600.70" cy="633.54" r="1.6" fill="#555" fill-opacity="0.5"/>
<circle cx="607.12" cy="641.46" r="1.6" fill="#555" fill-opacity="0.5"/>
<circle cx="611.81" cy="621.29" r="1.6" fill="#555" fill-opacity="0.5"/>
<circle cx="608.79" cy="668.32" r="1.6" fill="#555" fill-opacity="0.5"/>
<circle cx="606.84" cy="656.52" r="1.6" fill="#555" fill-opacity="0.5"/>
<circle cx="605.78" cy="615.85" r="1.6" fill="#555" fill-opacity="0.5"/>
<circle cx="605.85" cy="625.49" r="1.6" fill="#555" fill-opacity="0.5"/>
<circle cx="603.46" cy="628.12" r="1.6" fill="#555" fill-opacity="0.5"/>
<circle cx="603.36" cy="654.89" r="1.6" fill="#555" fill-opacity="0.5"/>
<circle cx="601.05" cy="611.80" r="1.6" fill="#555" fill-opacity="0.5"/>
<circle cx="604.95" cy="621.64" r="1.6" fill="#555" fill-opacity="0.5"/>
<circle cx="609.69" cy="607.61" r="1.6" fill="#555" fill-opacity="0.5"/>
<circle cx="609.73" cy="636.63" r="1.6" fill="#555" fill-opacity="0.5"/>
<circle cx="602.33" cy="635.94" r="1.6" fill="#555" fill-opacity="0.5"/>
<circle cx="600.36" cy="628.45" r="1.6" fill="#555" fill-opacity="0.5"/>
<circle cx="601.38" cy="659.92" r="1.6" fill="#555" fill-opacity="0.5"/>
<circle cx="602.28" cy="670.42" r="1.6" fill="#555" fill-opacity="0.5"/>
<circle cx="607.99" cy="629.26" r="1.6" fill="#555" fill-opacity="0.5"/>
<circle cx="599.82" cy="664.28" r="1.6" fill="#555" fill-opacity="0.5"/>
<circle cx="599.77" cy="632.54" r="1.6" fill="#555" fill-opacity="0.5"/>
<circle cx="599.74" cy="612.72" r="1.6" fill="#555" fill-opacity="0.5"/>
<circle cx="605.18" cy="666.64" r="1.6" fill="#555" fill-opacity="0.5"/>
<circle cx="604.07" cy="659.18" r="1.6" fill="#555" fill-opacity="0.5"/>
<circle cx="599.76" cy="668.29" r="1.6" fill="#555" fill-opacity="0.5"/>
<circle cx="611.51" cy="638.67" r="1.6" fill="#555" fill-opacity="0.5"/>
<circle cx="610.41" cy="625.11" r="1.6" fill="#555" fill-opacity="0.5"/>
<circle cx="601.01" cy="633.70" r="1.6" fill="#555" fill-opacity="0.5"/>
<circle cx="605.09" cy="634.96" r="1.6" fill="#555" fill-opacity="0.5"/>
<circle cx="603.09" cy="629.34" r="1.6" fill="#555" fill-opacity="0.5"/>
<circle cx="607.77" cy="659.59" r="1.6" fill="#555" fill-opacity="0.5"/>
<circle cx="611.56" cy="632.97" r="1.6" fill="#555" fill-opacity="0.5"/>
<circle cx="600.16" cy="659.25" r="1.6" fill="#555" fill-opacity="0.5"/>
<circle cx="599.79" cy="645.78" r="1.6" fill="#555" fill-opacity="0.5"/>
<circle cx="611.42" cy="611.54" r="1.6" fill="#555" fill-opacity="0.5"/>
<circle cx="601.35" cy="668.46" r="1.6" fill="#555" fill-opacity="0.5"/>
<circle cx="600.35" cy="652.17" r="1.6" fill="#555" fill-opacity="0.5"/>
<circle cx="600.99" cy="630.21" r="1.6" fill="#555" fill-opacity="0.5"/>
<circle cx="607.80" cy="630.42" r="1.6" fill="#555" fill-opacity="0.5"/>
<circle cx="610.08" cy="634.66" r="1.6" fill="#555" fill-opacity="0.5"/>
<circle cx="599.40" cy="607.65" r="1.6" fill="#555" fill-opacity="0.5"/>
<circle cx="608.33" cy="653.73" r="1.6" fill="#555" fill-opacity="0.5"/>
<circle cx="609.25" cy="617.91" r="1.6" fill="#555" fill-opacity="0.5"/>
<circle cx="607.77" cy="634.92" r="1.6" fill="#555" fill-opacity="0.5"/>
<circle cx="604.28" cy="630.89" r="1.6" fill="#555" fill-opacity="0.5"/>
<circle cx="610.85" cy="636.96" r="1.6" fill="#555" fill-opacity="0.5"/>
<circle cx="606.00" cy="635.37" r="1.6" fill="#555" fill-opacity="0.5"/>
<circle cx="603.10" cy="659.04" r="1.6" fill="#555" fill-opacity="0.5"/>
<line x1="561.90" y1="594.30" x2="615.60" y2="594.30" stroke="#333" stroke-width="1" />
<text x="590.5" y="591.0" font-size="9.4" fill="#222" text-anchor="middle"><tspan font-style="italic">P</tspan> &lt; 0.001</text>
<text x="460.5" y="586.5" font-size="16.5" font-weight="bold" fill="#000" stroke="#000" stroke-width="0.55">i</text>
</svg></body></html>
